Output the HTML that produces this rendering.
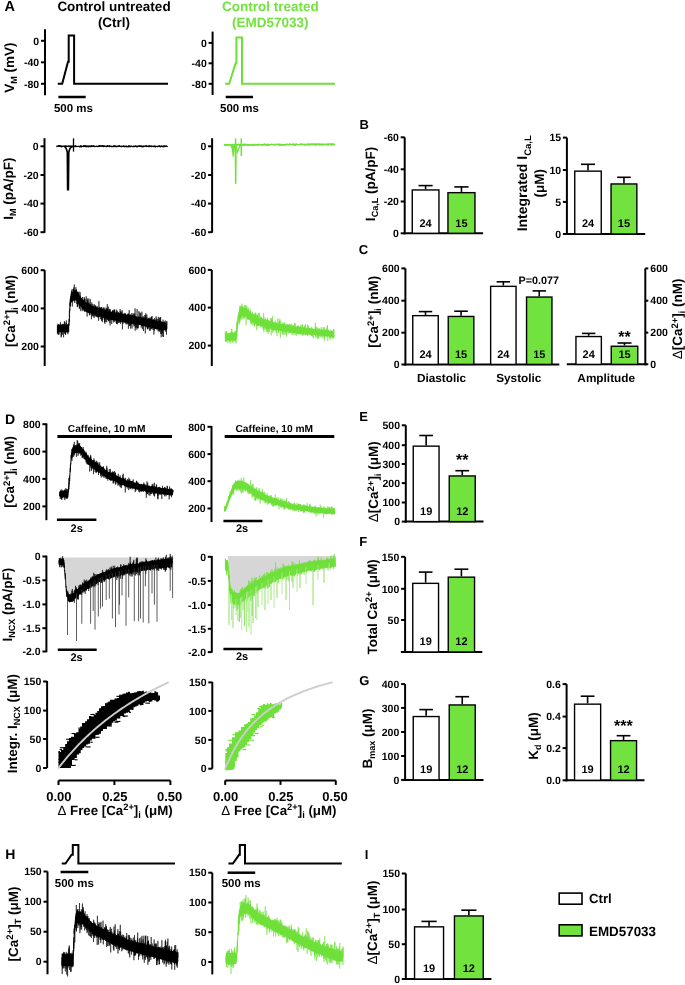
<!DOCTYPE html>
<html><head><meta charset="utf-8"><style>
html,body{margin:0;padding:0;background:#fff;width:685px;height:985px;overflow:hidden;}
svg{display:block;will-change:transform;text-rendering:geometricPrecision;filter:blur(0.35px);font-family:"Liberation Sans", sans-serif;}
</style></head><body>
<svg width="685" height="985" viewBox="0 0 685 985" font-family='"Liberation Sans", sans-serif'>
<rect width="685" height="985" fill="#fff"/>
<text x="4.6" y="11.2" font-size="14.5" text-anchor="start" fill="#000" font-weight="bold" >A</text>
<text x="4.9" y="423.5" font-size="14" text-anchor="start" fill="#000" font-weight="bold" >D</text>
<text x="5.2" y="858.6" font-size="14" text-anchor="start" fill="#000" font-weight="bold" >H</text>
<text x="359.4" y="129.3" font-size="13" text-anchor="start" fill="#000" font-weight="bold" >B</text>
<text x="358.8" y="254.4" font-size="13" text-anchor="start" fill="#000" font-weight="bold" >C</text>
<text x="359.3" y="421.2" font-size="13" text-anchor="start" fill="#000" font-weight="bold" >E</text>
<text x="359.3" y="546.1" font-size="13" text-anchor="start" fill="#000" font-weight="bold" >F</text>
<text x="359.3" y="684.8" font-size="13" text-anchor="start" fill="#000" font-weight="bold" >G</text>
<text x="364.7" y="858.6" font-size="13" text-anchor="start" fill="#000" font-weight="bold" >I</text>
<text x="114" y="10.8" font-size="13.5" text-anchor="middle" fill="#000" font-weight="bold" >Control untreated</text>
<text x="114" y="27.3" font-size="13.5" text-anchor="middle" fill="#000" font-weight="bold" >(Ctrl)</text>
<text x="270.3" y="10.8" font-size="13.5" text-anchor="middle" fill="#72e23e" font-weight="bold" >Control treated</text>
<text x="270.3" y="27.3" font-size="13.5" text-anchor="middle" fill="#72e23e" font-weight="bold" >(EMD57033)</text>
<line x1="45" y1="29.3" x2="45" y2="95.3" stroke="#000" stroke-width="2" stroke-linecap="butt"/>
<line x1="41" y1="40.8" x2="45" y2="40.8" stroke="#000" stroke-width="2" stroke-linecap="butt"/>
<text x="39.2" y="44.58" font-size="10.5" text-anchor="end" fill="#000" font-weight="bold" >0</text>
<line x1="41" y1="62.3" x2="45" y2="62.3" stroke="#000" stroke-width="2" stroke-linecap="butt"/>
<text x="39.2" y="66.08" font-size="10.5" text-anchor="end" fill="#000" font-weight="bold" >-40</text>
<line x1="41" y1="83.8" x2="45" y2="83.8" stroke="#000" stroke-width="2" stroke-linecap="butt"/>
<text x="39.2" y="87.58" font-size="10.5" text-anchor="end" fill="#000" font-weight="bold" >-80</text>
<polyline points="57.8,83.8 62.2,83.8 68,61.8 68.7,61.8 68.7,35.5 74.1,35.5 74.1,83.8 168,83.8" fill="none" stroke="#000" stroke-width="2" stroke-linejoin="miter"/>
<line x1="58.4" y1="97" x2="85.7" y2="97" stroke="#000" stroke-width="2.5" stroke-linecap="butt"/>
<text x="73.4" y="112" font-size="11.5" text-anchor="middle" fill="#000" font-weight="bold" >500 ms</text>
<line x1="212.6" y1="31.6" x2="212.6" y2="95" stroke="#000" stroke-width="2" stroke-linecap="butt"/>
<line x1="208.6" y1="42.9" x2="212.6" y2="42.9" stroke="#000" stroke-width="2" stroke-linecap="butt"/>
<text x="206.8" y="46.68" font-size="10.5" text-anchor="end" fill="#000" font-weight="bold" >0</text>
<line x1="208.6" y1="63.3" x2="212.6" y2="63.3" stroke="#000" stroke-width="2" stroke-linecap="butt"/>
<text x="206.8" y="67.08" font-size="10.5" text-anchor="end" fill="#000" font-weight="bold" >-40</text>
<line x1="208.6" y1="83.8" x2="212.6" y2="83.8" stroke="#000" stroke-width="2" stroke-linecap="butt"/>
<text x="206.8" y="87.58" font-size="10.5" text-anchor="end" fill="#000" font-weight="bold" >-80</text>
<polyline points="225.1,83.8 229.2,83.8 235.5,63.4 236.4,63.4 236.4,37.5 242,37.5 242,83.8 335,83.8" fill="none" stroke="#6fe03a" stroke-width="2" stroke-linejoin="miter"/>
<line x1="225.7" y1="97" x2="253" y2="97" stroke="#000" stroke-width="2.5" stroke-linecap="butt"/>
<text x="239.5" y="112" font-size="11.5" text-anchor="middle" fill="#000" font-weight="bold" >500 ms</text>
<text transform="translate(13.5,67.7) rotate(-90)" font-size="13.5" text-anchor="middle" fill="#000" font-weight="bold" >V<tspan font-size="9" dy="3">M</tspan><tspan dy="-3" font-size="13.5"> (mV)</tspan></text>
<line x1="44.5" y1="138.2" x2="44.5" y2="232.8" stroke="#000" stroke-width="2" stroke-linecap="butt"/>
<line x1="40.5" y1="146.3" x2="44.5" y2="146.3" stroke="#000" stroke-width="2" stroke-linecap="butt"/>
<text x="38.7" y="150.08" font-size="10.5" text-anchor="end" fill="#000" font-weight="bold" >0</text>
<line x1="40.5" y1="175" x2="44.5" y2="175" stroke="#000" stroke-width="2" stroke-linecap="butt"/>
<text x="38.7" y="178.78" font-size="10.5" text-anchor="end" fill="#000" font-weight="bold" >-20</text>
<line x1="40.5" y1="203.6" x2="44.5" y2="203.6" stroke="#000" stroke-width="2" stroke-linecap="butt"/>
<text x="38.7" y="207.38" font-size="10.5" text-anchor="end" fill="#000" font-weight="bold" >-40</text>
<line x1="40.5" y1="232.2" x2="44.5" y2="232.2" stroke="#000" stroke-width="2" stroke-linecap="butt"/>
<text x="38.7" y="235.98" font-size="10.5" text-anchor="end" fill="#000" font-weight="bold" >-60</text>
<line x1="212.1" y1="138.2" x2="212.1" y2="232.8" stroke="#000" stroke-width="2" stroke-linecap="butt"/>
<line x1="208.1" y1="146.3" x2="212.1" y2="146.3" stroke="#000" stroke-width="2" stroke-linecap="butt"/>
<text x="206.3" y="150.08" font-size="10.5" text-anchor="end" fill="#000" font-weight="bold" >0</text>
<line x1="208.1" y1="175" x2="212.1" y2="175" stroke="#000" stroke-width="2" stroke-linecap="butt"/>
<text x="206.3" y="178.78" font-size="10.5" text-anchor="end" fill="#000" font-weight="bold" >-20</text>
<line x1="208.1" y1="203.6" x2="212.1" y2="203.6" stroke="#000" stroke-width="2" stroke-linecap="butt"/>
<text x="206.3" y="207.38" font-size="10.5" text-anchor="end" fill="#000" font-weight="bold" >-40</text>
<line x1="208.1" y1="232.2" x2="212.1" y2="232.2" stroke="#000" stroke-width="2" stroke-linecap="butt"/>
<text x="206.3" y="235.98" font-size="10.5" text-anchor="end" fill="#000" font-weight="bold" >-60</text>
<text transform="translate(13.3,188.7) rotate(-90)" font-size="13.5" text-anchor="middle" fill="#000" font-weight="bold" >I<tspan font-size="9" dy="3">M</tspan><tspan dy="-3" font-size="13.5"> (pA/pF)</tspan></text>
<polygon points="56.40,145.44 57.10,145.83 57.80,145.69 58.50,145.12 59.20,145.09 59.90,145.13 60.60,145.56 61.30,145.20 62.00,145.80 62.70,145.74 63.40,146.22 64.10,146.08 64.80,145.22 65.50,145.42 66.20,145.27 66.90,145.82 67.60,145.71 68.30,145.12 69.00,145.87 69.70,145.43 70.40,145.59 71.10,146.00 71.80,145.34 72.50,145.68 73.20,145.93 73.90,146.23 74.60,145.55 75.30,145.23 76.00,145.10 76.70,145.97 77.40,146.10 78.10,145.88 78.80,145.75 79.50,146.06 80.20,145.62 80.90,145.12 81.60,145.83 82.30,146.04 83.00,145.51 83.70,145.08 84.40,145.25 85.10,145.12 85.80,145.21 86.50,145.52 87.20,145.15 87.90,145.71 88.60,146.03 89.30,145.38 90.00,145.48 90.70,146.20 91.40,145.26 92.10,145.33 92.80,145.76 93.50,145.05 94.20,145.49 94.90,146.19 95.60,145.67 96.30,145.86 97.00,146.13 97.70,146.10 98.40,145.52 99.10,145.17 99.80,145.12 100.50,145.30 101.20,145.46 101.90,145.05 102.60,145.17 103.30,145.08 104.00,145.79 104.70,145.35 105.40,145.49 106.10,146.07 106.80,145.61 107.50,145.15 108.20,145.46 108.90,146.04 109.60,145.08 110.30,145.68 111.00,145.70 111.70,145.68 112.40,146.09 113.10,145.36 113.80,145.25 114.50,145.69 115.20,145.45 115.90,146.02 116.60,146.07 117.30,146.03 118.00,145.32 118.70,145.48 119.40,145.08 120.10,145.36 120.80,146.20 121.50,146.17 122.20,146.20 122.90,145.31 123.60,145.29 124.30,145.80 125.00,146.06 125.70,145.83 126.40,145.15 127.10,146.14 127.80,145.95 128.50,145.26 129.20,145.45 129.90,146.22 130.60,145.53 131.30,145.92 132.00,145.20 132.70,146.14 133.40,145.23 134.10,146.23 134.80,145.47 135.50,145.21 136.20,146.22 136.90,145.68 137.60,145.57 138.30,146.04 139.00,145.35 139.70,145.34 140.40,145.36 141.10,145.21 141.80,145.47 142.50,145.75 143.20,145.55 143.90,145.65 144.60,145.68 145.30,145.58 146.00,145.05 146.70,145.26 147.40,145.92 148.10,145.44 148.80,145.72 149.50,145.18 150.20,145.35 150.90,145.98 151.60,145.72 152.30,146.14 153.00,145.79 153.70,145.66 154.40,145.59 155.10,145.62 155.80,145.89 156.50,146.18 157.20,145.72 157.90,146.06 158.60,145.20 159.30,145.14 160.00,145.14 160.70,145.99 161.40,145.24 162.10,145.84 162.80,146.11 163.50,145.31 164.20,145.53 164.90,146.24 165.60,145.24 166.30,145.67 167.00,145.28 167.00,146.73 166.30,146.76 165.60,146.87 164.90,147.35 164.20,146.93 163.50,147.49 162.80,147.51 162.10,146.52 161.40,147.21 160.70,147.43 160.00,147.15 159.30,146.64 158.60,146.88 157.90,146.51 157.20,147.48 156.50,146.66 155.80,147.40 155.10,147.48 154.40,146.99 153.70,147.18 153.00,146.96 152.30,146.88 151.60,147.26 150.90,146.96 150.20,146.68 149.50,147.02 148.80,147.29 148.10,146.97 147.40,147.02 146.70,146.92 146.00,147.31 145.30,146.57 144.60,146.37 143.90,146.99 143.20,147.45 142.50,147.44 141.80,146.90 141.10,147.44 140.40,146.85 139.70,147.05 139.00,146.70 138.30,146.60 137.60,147.40 136.90,147.47 136.20,147.13 135.50,146.37 134.80,147.01 134.10,147.14 133.40,147.34 132.70,147.32 132.00,146.53 131.30,146.55 130.60,147.49 129.90,146.83 129.20,147.31 128.50,147.30 127.80,146.92 127.10,147.29 126.40,147.14 125.70,147.31 125.00,146.93 124.30,147.43 123.60,146.60 122.90,146.62 122.20,146.79 121.50,147.54 120.80,146.89 120.10,147.18 119.40,146.69 118.70,146.38 118.00,146.97 117.30,147.24 116.60,147.32 115.90,147.53 115.20,146.62 114.50,147.28 113.80,147.28 113.10,146.79 112.40,147.19 111.70,147.52 111.00,146.38 110.30,146.53 109.60,147.49 108.90,146.54 108.20,146.67 107.50,146.47 106.80,146.93 106.10,147.54 105.40,146.50 104.70,146.77 104.00,146.53 103.30,147.40 102.60,146.79 101.90,146.53 101.20,146.41 100.50,146.54 99.80,146.43 99.10,147.11 98.40,146.83 97.70,147.31 97.00,147.29 96.30,146.41 95.60,147.09 94.90,147.18 94.20,147.03 93.50,146.85 92.80,146.67 92.10,146.93 91.40,146.63 90.70,146.53 90.00,147.41 89.30,146.85 88.60,147.39 87.90,147.41 87.20,146.89 86.50,147.40 85.80,146.65 85.10,147.27 84.40,146.49 83.70,146.90 83.00,147.15 82.30,146.69 81.60,147.54 80.90,147.19 80.20,147.15 79.50,147.48 78.80,146.90 78.10,147.06 77.40,146.73 76.70,147.04 76.00,147.15 75.30,146.94 74.60,147.26 73.90,146.49 73.20,146.70 72.50,147.40 71.80,147.04 71.10,147.19 70.40,146.71 69.70,147.05 69.00,146.86 68.30,146.60 67.60,146.43 66.90,146.80 66.20,147.05 65.50,147.33 64.80,146.49 64.10,146.70 63.40,146.41 62.70,146.83 62.00,147.49 61.30,146.62 60.60,147.34 59.90,146.46 59.20,146.87 58.50,146.96 57.80,146.79 57.10,146.44 56.40,146.53" fill="#000" fill-opacity="1"/>
<path d="M56.40,146.29 L56.50,146.23 L56.60,146.62 L56.70,146.34 L56.80,147.27 L56.90,146.71 L57.00,146.53 L57.10,146.47 L57.20,146.28 L57.30,146.49 L57.40,146.42 L57.50,146.04 L57.60,145.79 L57.70,146.06 L57.80,146.15 L57.90,145.95 L58.00,145.87 L58.10,145.81 L58.20,146.96 L58.30,146.59 L58.40,145.51 L58.50,146.03 L58.60,146.04 L58.70,146.25 L58.80,146.53 L58.90,146.38 L59.00,146.32 L59.10,146.00 L59.20,146.26 L59.30,146.36 L59.40,146.25 L59.50,145.84 L59.60,146.46 L59.70,146.23 L59.80,145.61 L59.90,146.32 L60.00,145.91 L60.10,145.34 L60.20,146.16 L60.30,145.80 L60.40,146.48 L60.50,146.36 L60.60,146.29 L60.70,146.52 L60.80,146.67 L60.90,145.91 L61.00,146.19 L61.10,146.69 L61.20,146.22 L61.30,147.23 L61.40,146.33 L61.50,147.24 L61.60,146.66 L61.70,146.30 L61.80,146.43 L61.90,146.71 L62.00,146.61 L62.10,146.50 L62.20,146.21 L62.30,146.55 L62.40,146.30 L62.50,145.77 L62.60,146.05 L62.70,146.51 L62.80,146.22 L62.90,145.78 L63.00,146.70 L63.10,145.98 L63.20,146.58 L63.30,146.64 L63.40,146.53 L63.50,145.66 L63.60,146.07 L63.70,145.79 L63.80,146.53 L63.90,146.56 L64.00,145.82 L64.10,146.12 L64.20,146.27 L64.30,146.30 L64.40,145.85 L64.50,146.29 L64.60,146.28 L64.70,146.02 L64.80,146.27 L64.90,146.06 L65.00,145.94 L65.10,146.31 L65.20,146.35 L65.30,145.80 L65.40,146.47 L65.50,146.52 L65.60,146.25 L65.70,146.28 L65.80,146.04 L65.90,145.81 L66.00,145.90 L66.10,146.26 L66.20,146.49 L66.30,146.15 L66.40,146.70 L66.50,146.34 L66.60,146.03 L66.70,146.39 L66.80,146.42 L66.90,146.77 L67.00,146.49 L67.10,146.24 L67.20,146.73 L67.30,145.93 L67.40,146.22 L67.50,146.31 L67.60,146.01 L67.70,146.39 L67.80,146.02 L67.90,146.94 L68.00,146.40 L68.10,146.14 L68.20,146.55 L68.30,146.13 L68.40,146.79 L68.50,146.30 L68.60,146.28 L68.70,146.41 L68.80,146.11 L68.90,147.13 L69.00,146.06 L69.10,146.28 L69.20,146.80 L69.30,145.86 L69.40,146.73 L69.50,146.13 L69.60,146.26 L69.70,145.90 L69.80,146.27 L69.90,146.41 L70.00,145.97 L70.10,146.36 L70.20,146.58 L70.30,146.26 L70.40,145.96 L70.50,146.17 L70.60,146.51 L70.70,147.06 L70.80,147.32 L70.90,145.62 L71.00,146.36 L71.10,146.45 L71.20,146.32 L71.30,146.58 L71.40,146.30 L71.50,145.92 L71.60,146.06 L71.70,146.53 L71.80,146.48 L71.90,146.26 L72.00,146.47 L72.10,146.11 L72.20,145.98 L72.30,146.53 L72.40,146.35 L72.50,146.25 L72.60,146.63 L72.70,146.05 L72.80,145.65 L72.90,146.82 L73.00,146.57 L73.10,146.25 L73.20,145.75 L73.30,146.22 L73.40,145.93 L73.50,145.81 L73.60,146.92 L73.70,146.46 L73.80,146.11 L73.90,146.05 L74.00,145.93 L74.10,145.87 L74.20,145.82 L74.30,146.23 L74.40,146.26 L74.50,146.27 L74.60,146.81 L74.70,146.17 L74.80,146.33 L74.90,146.57 L75.00,146.27 L75.10,146.37 L75.20,146.05 L75.30,146.44 L75.40,146.31 L75.50,146.39 L75.60,146.20 L75.70,146.08 L75.80,146.05 L75.90,146.29 L76.00,146.41 L76.10,146.06 L76.20,146.05 L76.30,147.16 L76.40,146.36 L76.50,146.67 L76.60,146.52 L76.70,146.59 L76.80,146.37 L76.90,146.39 L77.00,146.91 L77.10,145.85 L77.20,146.60 L77.30,146.16 L77.40,146.30 L77.50,146.21 L77.60,146.07 L77.70,146.53 L77.80,146.24 L77.90,146.63 L78.00,146.54 L78.10,146.24 L78.20,146.47 L78.30,145.95 L78.40,145.73 L78.50,146.89 L78.60,146.37 L78.70,146.25 L78.80,146.31 L78.90,146.20 L79.00,146.55 L79.10,146.16 L79.20,146.15 L79.30,146.55 L79.40,146.26 L79.50,146.88 L79.60,146.91 L79.70,146.31 L79.80,146.38 L79.90,146.27 L80.00,147.17 L80.10,146.06 L80.20,145.92 L80.30,146.48 L80.40,146.49 L80.50,145.74 L80.60,146.05 L80.70,146.10 L80.80,146.33 L80.90,146.16 L81.00,146.30 L81.10,146.43 L81.20,145.83 L81.30,147.21 L81.40,146.29 L81.50,146.45 L81.60,146.20 L81.70,145.92 L81.80,145.90 L81.90,145.93 L82.00,146.21 L82.10,146.14 L82.20,145.98 L82.30,146.16 L82.40,146.30 L82.50,146.57 L82.60,146.01 L82.70,146.15 L82.80,146.04 L82.90,146.29 L83.00,146.47 L83.10,146.29 L83.20,146.73 L83.30,145.62 L83.40,146.47 L83.50,146.46 L83.60,146.62 L83.70,146.15 L83.80,146.26 L83.90,146.93 L84.00,145.88 L84.10,146.01 L84.20,146.46 L84.30,146.49 L84.40,146.16 L84.50,146.10 L84.60,146.20 L84.70,146.09 L84.80,146.43 L84.90,145.86 L85.00,145.94 L85.10,146.58 L85.20,146.59 L85.30,146.78 L85.40,145.98 L85.50,147.14 L85.60,146.06 L85.70,146.60 L85.80,146.14 L85.90,146.48 L86.00,147.08 L86.10,146.33 L86.20,145.67 L86.30,146.72 L86.40,146.76 L86.50,146.34 L86.60,146.73 L86.70,146.57 L86.80,146.48 L86.90,146.54 L87.00,146.63 L87.10,146.57 L87.20,146.36 L87.30,146.48 L87.40,146.18 L87.50,146.31 L87.60,146.72 L87.70,146.01 L87.80,146.36 L87.90,146.05 L88.00,146.41 L88.10,146.10 L88.20,145.94 L88.30,146.26 L88.40,146.18 L88.50,145.53 L88.60,146.30 L88.70,146.20 L88.80,145.93 L88.90,146.03 L89.00,145.88 L89.10,146.53 L89.20,145.93 L89.30,146.43 L89.40,146.03 L89.50,146.32 L89.60,146.08 L89.70,146.36 L89.80,146.57 L89.90,146.58 L90.00,146.20 L90.10,146.29 L90.20,146.23 L90.30,145.67 L90.40,145.95 L90.50,146.29 L90.60,147.06 L90.70,145.35 L90.80,146.66 L90.90,147.27 L91.00,146.49 L91.10,146.19 L91.20,146.61 L91.30,146.44 L91.40,146.53 L91.50,146.12 L91.60,145.48 L91.70,146.29 L91.80,145.98 L91.90,146.29 L92.00,146.75 L92.10,147.02 L92.20,146.61 L92.30,146.86 L92.40,146.07 L92.50,146.04 L92.60,145.64 L92.70,145.94 L92.80,146.05 L92.90,146.03 L93.00,146.78 L93.10,146.27 L93.20,146.09 L93.30,146.38 L93.40,146.42 L93.50,146.05 L93.60,145.84 L93.70,146.02 L93.80,146.50 L93.90,146.34 L94.00,145.53 L94.10,146.24 L94.20,146.26 L94.30,146.24 L94.40,146.57 L94.50,146.51 L94.60,146.09 L94.70,146.17 L94.80,146.87 L94.90,146.94 L95.00,146.73 L95.10,146.59 L95.20,146.07 L95.30,146.46 L95.40,145.99 L95.50,146.17 L95.60,146.85 L95.70,146.07 L95.80,146.73 L95.90,146.42 L96.00,146.89 L96.10,146.53 L96.20,146.49 L96.30,146.23 L96.40,145.78 L96.50,146.28 L96.60,146.19 L96.70,146.59 L96.80,146.42 L96.90,145.74 L97.00,146.29 L97.10,145.89 L97.20,146.33 L97.30,146.47 L97.40,145.99 L97.50,146.82 L97.60,146.23 L97.70,146.02 L97.80,146.41 L97.90,145.87 L98.00,146.55 L98.10,146.24 L98.20,146.28 L98.30,146.57 L98.40,146.29 L98.50,145.98 L98.60,146.35 L98.70,147.09 L98.80,145.79 L98.90,145.43 L99.00,146.07 L99.10,145.62 L99.20,146.02 L99.30,146.17 L99.40,147.01 L99.50,146.68 L99.60,146.96 L99.70,146.82 L99.80,146.40 L99.90,146.32 L100.00,146.11 L100.10,145.74 L100.20,145.86 L100.30,146.81 L100.40,146.97 L100.50,146.59 L100.60,146.49 L100.70,146.45 L100.80,146.68 L100.90,145.76 L101.00,146.10 L101.10,146.08 L101.20,146.31 L101.30,146.05 L101.40,146.58 L101.50,146.34 L101.60,146.08 L101.70,146.54 L101.80,146.60 L101.90,145.89 L102.00,145.72 L102.10,146.54 L102.20,146.05 L102.30,146.24 L102.40,146.39 L102.50,146.10 L102.60,146.38 L102.70,145.30 L102.80,145.65 L102.90,146.33 L103.00,145.91 L103.10,146.86 L103.20,146.25 L103.30,146.55 L103.40,146.70 L103.50,146.63 L103.60,146.09 L103.70,145.69 L103.80,146.00 L103.90,146.51 L104.00,146.36 L104.10,146.25 L104.20,146.65 L104.30,146.05 L104.40,146.34 L104.50,146.70 L104.60,146.31 L104.70,145.78 L104.80,146.69 L104.90,146.88 L105.00,146.49 L105.10,146.64 L105.20,146.58 L105.30,146.59 L105.40,146.41 L105.50,146.59 L105.60,146.42 L105.70,146.48 L105.80,146.09 L105.90,146.27 L106.00,146.88 L106.10,146.21 L106.20,146.59 L106.30,146.51 L106.40,146.26 L106.50,145.91 L106.60,146.49 L106.70,146.45 L106.80,145.78 L106.90,146.68 L107.00,146.03 L107.10,146.00 L107.20,145.81 L107.30,146.64 L107.40,145.76 L107.50,146.03 L107.60,146.17 L107.70,145.56 L107.80,146.63 L107.90,145.86 L108.00,146.10 L108.10,146.77 L108.20,146.42 L108.30,145.74 L108.40,145.94 L108.50,146.49 L108.60,145.92 L108.70,145.55 L108.80,146.36 L108.90,145.94 L109.00,146.74 L109.10,146.41 L109.20,146.71 L109.30,146.14 L109.40,145.74 L109.50,146.15 L109.60,146.51 L109.70,145.91 L109.80,146.44 L109.90,146.84 L110.00,147.05 L110.10,147.03 L110.20,146.24 L110.30,146.66 L110.40,145.81 L110.50,146.57 L110.60,146.40 L110.70,146.89 L110.80,146.43 L110.90,146.94 L111.00,146.73 L111.10,146.76 L111.20,145.84 L111.30,146.39 L111.40,145.99 L111.50,146.71 L111.60,146.00 L111.70,146.36 L111.80,146.47 L111.90,146.01 L112.00,146.10 L112.10,146.50 L112.20,146.88 L112.30,146.31 L112.40,146.17 L112.50,146.69 L112.60,146.11 L112.70,146.01 L112.80,146.94 L112.90,146.54 L113.00,146.74 L113.10,146.83 L113.20,147.19 L113.30,146.36 L113.40,146.46 L113.50,146.42 L113.60,146.18 L113.70,146.47 L113.80,146.68 L113.90,146.97 L114.00,145.92 L114.10,145.63 L114.20,146.48 L114.30,146.83 L114.40,145.60 L114.50,146.58 L114.60,146.32 L114.70,146.50 L114.80,146.10 L114.90,146.34 L115.00,145.60 L115.10,146.12 L115.20,145.84 L115.30,146.39 L115.40,146.03 L115.50,146.57 L115.60,145.96 L115.70,145.91 L115.80,145.95 L115.90,145.53 L116.00,145.88 L116.10,146.27 L116.20,146.20 L116.30,145.80 L116.40,146.02 L116.50,146.61 L116.60,146.40 L116.70,146.68 L116.80,146.44 L116.90,146.03 L117.00,146.01 L117.10,146.29 L117.20,145.94 L117.30,145.77 L117.40,146.15 L117.50,146.76 L117.60,146.86 L117.70,146.45 L117.80,146.59 L117.90,146.39 L118.00,146.74 L118.10,146.06 L118.20,146.72 L118.30,146.03 L118.40,146.14 L118.50,145.84 L118.60,146.10 L118.70,145.95 L118.80,146.34 L118.90,146.39 L119.00,146.11 L119.10,146.01 L119.20,146.04 L119.30,146.19 L119.40,146.14 L119.50,146.65 L119.60,146.74 L119.70,146.46 L119.80,146.48 L119.90,145.86 L120.00,146.66 L120.10,146.33 L120.20,146.71 L120.30,146.25 L120.40,146.15 L120.50,146.10 L120.60,146.85 L120.70,146.32 L120.80,146.92 L120.90,146.69 L121.00,146.25 L121.10,146.03 L121.20,146.90 L121.30,146.49 L121.40,146.28 L121.50,146.15 L121.60,145.48 L121.70,146.51 L121.80,146.29 L121.90,146.25 L122.00,146.36 L122.10,146.16 L122.20,146.66 L122.30,146.92 L122.40,145.98 L122.50,146.65 L122.60,146.70 L122.70,146.81 L122.80,146.04 L122.90,146.02 L123.00,146.90 L123.10,146.08 L123.20,147.21 L123.30,146.67 L123.40,146.06 L123.50,146.73 L123.60,146.05 L123.70,146.11 L123.80,145.90 L123.90,146.69 L124.00,146.40 L124.10,146.02 L124.20,145.87 L124.30,146.53 L124.40,146.96 L124.50,146.48 L124.60,146.04 L124.70,146.17 L124.80,145.98 L124.90,145.56 L125.00,145.69 L125.10,146.08 L125.20,146.54 L125.30,146.19 L125.40,146.06 L125.50,146.35 L125.60,146.40 L125.70,145.91 L125.80,146.34 L125.90,146.04 L126.00,146.63 L126.10,146.01 L126.20,146.39 L126.30,146.52 L126.40,145.99 L126.50,146.66 L126.60,146.37 L126.70,146.39 L126.80,146.70 L126.90,146.62 L127.00,146.03 L127.10,146.11 L127.20,147.39 L127.30,146.53 L127.40,146.04 L127.50,146.18 L127.60,146.89 L127.70,146.09 L127.80,146.30 L127.90,146.40 L128.00,146.40 L128.10,146.36 L128.20,145.45 L128.30,146.53 L128.40,146.00 L128.50,146.09 L128.60,146.28 L128.70,146.77 L128.80,146.12 L128.90,145.98 L129.00,147.40 L129.10,146.06 L129.20,146.29 L129.30,146.64 L129.40,146.36 L129.50,146.20 L129.60,145.66 L129.70,145.46 L129.80,146.33 L129.90,145.44 L130.00,145.79 L130.10,145.97 L130.20,146.29 L130.30,146.49 L130.40,146.31 L130.50,146.50 L130.60,146.25 L130.70,146.07 L130.80,146.46 L130.90,147.13 L131.00,146.55 L131.10,146.61 L131.20,146.58 L131.30,145.87 L131.40,146.48 L131.50,145.93 L131.60,146.32 L131.70,146.42 L131.80,146.75 L131.90,146.88 L132.00,146.46 L132.10,146.54 L132.20,146.51 L132.30,146.67 L132.40,147.06 L132.50,146.96 L132.60,146.18 L132.70,146.08 L132.80,146.29 L132.90,146.54 L133.00,147.13 L133.10,146.29 L133.20,146.40 L133.30,146.22 L133.40,146.36 L133.50,146.29 L133.60,146.31 L133.70,146.32 L133.80,146.45 L133.90,146.66 L134.00,146.12 L134.10,146.21 L134.20,146.24 L134.30,146.07 L134.40,145.97 L134.50,146.03 L134.60,145.87 L134.70,145.93 L134.80,146.34 L134.90,146.43 L135.00,146.28 L135.10,146.18 L135.20,146.70 L135.30,145.69 L135.40,146.65 L135.50,146.08 L135.60,146.57 L135.70,146.93 L135.80,145.96 L135.90,146.65 L136.00,145.89 L136.10,146.45 L136.20,146.60 L136.30,145.63 L136.40,145.85 L136.50,146.71 L136.60,146.71 L136.70,146.18 L136.80,146.23 L136.90,146.28 L137.00,146.37 L137.10,146.45 L137.20,146.46 L137.30,146.33 L137.40,146.79 L137.50,146.35 L137.60,146.25 L137.70,146.14 L137.80,146.48 L137.90,146.35 L138.00,146.27 L138.10,146.48 L138.20,145.69 L138.30,145.91 L138.40,146.30 L138.50,146.08 L138.60,146.01 L138.70,146.54 L138.80,145.61 L138.90,146.83 L139.00,146.32 L139.10,146.63 L139.20,146.57 L139.30,145.54 L139.40,146.71 L139.50,146.45 L139.60,146.30 L139.70,146.68 L139.80,146.16 L139.90,146.27 L140.00,146.50 L140.10,146.33 L140.20,146.78 L140.30,146.10 L140.40,146.37 L140.50,146.24 L140.60,146.17 L140.70,146.04 L140.80,146.10 L140.90,146.11 L141.00,146.59 L141.10,146.21 L141.20,146.66 L141.30,146.64 L141.40,146.25 L141.50,146.71 L141.60,146.44 L141.70,146.44 L141.80,146.24 L141.90,146.56 L142.00,146.57 L142.10,145.88 L142.20,146.47 L142.30,146.85 L142.40,145.99 L142.50,146.03 L142.60,146.38 L142.70,146.73 L142.80,146.64 L142.90,146.33 L143.00,145.90 L143.10,146.15 L143.20,146.12 L143.30,146.90 L143.40,146.57 L143.50,146.02 L143.60,145.75 L143.70,146.52 L143.80,146.88 L143.90,146.15 L144.00,145.97 L144.10,146.74 L144.20,146.49 L144.30,145.90 L144.40,146.33 L144.50,145.89 L144.60,146.46 L144.70,146.20 L144.80,146.35 L144.90,145.82 L145.00,145.96 L145.10,146.13 L145.20,146.02 L145.30,146.08 L145.40,146.25 L145.50,146.00 L145.60,146.06 L145.70,146.51 L145.80,145.91 L145.90,146.30 L146.00,146.59 L146.10,146.68 L146.20,146.58 L146.30,146.15 L146.40,146.54 L146.50,146.24 L146.60,146.41 L146.70,146.31 L146.80,146.85 L146.90,146.00 L147.00,145.86 L147.10,146.25 L147.20,145.99 L147.30,146.68 L147.40,146.10 L147.50,145.90 L147.60,145.92 L147.70,146.57 L147.80,146.71 L147.90,146.21 L148.00,146.63 L148.10,146.29 L148.20,146.45 L148.30,146.58 L148.40,146.12 L148.50,146.29 L148.60,146.78 L148.70,145.30 L148.80,146.47 L148.90,146.55 L149.00,146.39 L149.10,146.51 L149.20,145.60 L149.30,147.22 L149.40,145.76 L149.50,146.64 L149.60,146.61 L149.70,146.31 L149.80,146.18 L149.90,146.09 L150.00,146.25 L150.10,146.82 L150.20,145.97 L150.30,146.13 L150.40,146.31 L150.50,146.13 L150.60,145.63 L150.70,146.20 L150.80,146.35 L150.90,146.32 L151.00,146.23 L151.10,145.97 L151.20,146.94 L151.30,146.76 L151.40,145.96 L151.50,146.41 L151.60,145.50 L151.70,145.84 L151.80,146.30 L151.90,146.41 L152.00,145.99 L152.10,147.02 L152.20,145.56 L152.30,145.75 L152.40,146.32 L152.50,146.66 L152.60,146.03 L152.70,146.99 L152.80,146.31 L152.90,146.52 L153.00,146.60 L153.10,146.25 L153.20,145.95 L153.30,146.22 L153.40,146.79 L153.50,146.78 L153.60,146.41 L153.70,146.58 L153.80,146.13 L153.90,146.01 L154.00,146.54 L154.10,146.46 L154.20,145.65 L154.30,146.54 L154.40,145.95 L154.50,146.77 L154.60,146.53 L154.70,147.16 L154.80,146.12 L154.90,146.36 L155.00,146.69 L155.10,146.01 L155.20,146.10 L155.30,146.14 L155.40,145.85 L155.50,146.26 L155.60,145.90 L155.70,146.65 L155.80,146.18 L155.90,146.40 L156.00,146.07 L156.10,146.78 L156.20,146.02 L156.30,146.63 L156.40,146.20 L156.50,146.54 L156.60,146.23 L156.70,146.66 L156.80,146.84 L156.90,145.81 L157.00,146.84 L157.10,146.40 L157.20,145.84 L157.30,146.58 L157.40,146.49 L157.50,146.02 L157.60,146.90 L157.70,146.83 L157.80,146.40 L157.90,146.33 L158.00,146.18 L158.10,146.64 L158.20,146.15 L158.30,146.13 L158.40,146.24 L158.50,146.03 L158.60,146.29 L158.70,146.31 L158.80,146.28 L158.90,146.41 L159.00,146.56 L159.10,146.38 L159.20,146.50 L159.30,147.08 L159.40,146.18 L159.50,145.96 L159.60,146.27 L159.70,146.46 L159.80,146.81 L159.90,146.06 L160.00,146.02 L160.10,146.01 L160.20,145.91 L160.30,146.49 L160.40,146.31 L160.50,146.19 L160.60,146.27 L160.70,146.76 L160.80,146.03 L160.90,146.22 L161.00,146.09 L161.10,146.43 L161.20,146.16 L161.30,145.78 L161.40,145.91 L161.50,146.26 L161.60,146.07 L161.70,147.02 L161.80,145.96 L161.90,146.88 L162.00,146.56 L162.10,146.77 L162.20,146.37 L162.30,145.62 L162.40,146.14 L162.50,146.49 L162.60,146.48 L162.70,146.84 L162.80,146.12 L162.90,146.67 L163.00,146.35 L163.10,146.32 L163.20,146.80 L163.30,146.59 L163.40,146.63 L163.50,146.57 L163.60,146.25 L163.70,146.29 L163.80,145.71 L163.90,145.69 L164.00,146.31 L164.10,146.50 L164.20,146.46 L164.30,146.04 L164.40,146.77 L164.50,145.61 L164.60,146.59 L164.70,145.78 L164.80,146.45 L164.90,146.02 L165.00,145.83 L165.10,146.80 L165.20,145.83 L165.30,146.09 L165.40,147.03 L165.50,145.81 L165.60,146.47 L165.70,146.56 L165.80,146.22 L165.90,146.10 L166.00,146.39 L166.10,146.36 L166.20,146.30 L166.30,146.27 L166.40,146.39 L166.50,145.93 L166.60,145.92 L166.70,146.27 L166.80,145.96 L166.90,145.71 L167.00,146.19 L167.10,146.68 L167.20,146.35 L167.30,146.44 L167.40,147.08 L167.50,146.16 L167.60,146.79" fill="none" stroke="#000" stroke-width="0.5" stroke-opacity="1"/>
<polyline points="64.5,146.5 66.2,148.5 67.3,152 67.6,189.6 68.4,189.6 68.8,152 70,148.5 71.5,147 72.5,146.3" fill="none" stroke="#000" stroke-width="1.6" stroke-linejoin="miter"/>
<line x1="73.5" y1="138.4" x2="73.5" y2="151.6" stroke="#000" stroke-width="1.3" stroke-linecap="butt"/>
<polygon points="224.10,143.55 224.80,144.20 225.50,144.15 226.20,144.04 226.90,143.82 227.60,144.52 228.30,143.68 229.00,143.99 229.70,144.24 230.40,144.14 231.10,144.08 231.80,143.92 232.50,143.65 233.20,144.09 233.90,144.47 234.60,143.54 235.30,143.73 236.00,144.09 236.70,144.11 237.40,144.03 238.10,143.51 238.80,143.50 239.50,144.44 240.20,144.26 240.90,143.54 241.60,144.26 242.30,144.39 243.00,143.60 243.70,144.06 244.40,143.55 245.10,143.45 245.80,143.82 246.50,144.09 247.20,143.73 247.90,143.88 248.60,144.11 249.30,144.04 250.00,144.40 250.70,144.25 251.40,144.27 252.10,144.34 252.80,143.79 253.50,144.48 254.20,143.39 254.90,143.46 255.60,144.30 256.30,144.44 257.00,143.63 257.70,143.86 258.40,144.02 259.10,143.34 259.80,144.27 260.50,143.98 261.20,144.13 261.90,143.48 262.60,143.95 263.30,144.27 264.00,143.31 264.70,143.47 265.40,144.34 266.10,143.33 266.80,144.26 267.50,143.75 268.20,143.47 268.90,143.75 269.60,144.00 270.30,143.66 271.00,144.34 271.70,143.31 272.40,143.69 273.10,143.95 273.80,143.68 274.50,143.94 275.20,143.27 275.90,144.43 276.60,143.41 277.30,143.56 278.00,143.83 278.70,143.91 279.40,144.37 280.10,143.26 280.80,144.14 281.50,144.15 282.20,143.97 282.90,143.55 283.60,144.25 284.30,144.02 285.00,144.12 285.70,143.81 286.40,143.61 287.10,143.68 287.80,143.59 288.50,144.37 289.20,143.62 289.90,143.46 290.60,143.34 291.30,144.22 292.00,143.70 292.70,143.53 293.40,143.24 294.10,143.53 294.80,143.82 295.50,143.56 296.20,143.85 296.90,143.36 297.60,144.33 298.30,144.07 299.00,144.18 299.70,143.72 300.40,143.46 301.10,143.16 301.80,143.45 302.50,143.38 303.20,143.36 303.90,144.15 304.60,143.35 305.30,144.26 306.00,143.20 306.70,144.15 307.40,143.26 308.10,143.74 308.80,143.86 309.50,143.34 310.20,143.99 310.90,143.57 311.60,143.49 312.30,143.57 313.00,143.83 313.70,143.66 314.40,143.38 315.10,143.08 315.80,143.74 316.50,143.13 317.20,143.92 317.90,143.16 318.60,143.22 319.30,143.15 320.00,143.55 320.70,143.75 321.40,143.83 322.10,143.43 322.80,143.34 323.50,143.94 324.20,143.39 324.90,144.19 325.60,143.35 326.30,144.14 327.00,143.02 327.70,143.79 328.40,143.44 329.10,143.28 329.80,143.11 330.50,143.16 331.20,143.59 331.90,143.21 332.60,143.42 333.30,143.20 334.00,144.09 334.70,143.01 334.70,145.56 334.00,144.82 333.30,145.52 332.60,144.81 331.90,145.77 331.20,145.31 330.50,144.72 329.80,144.68 329.10,145.56 328.40,145.84 327.70,145.59 327.00,145.23 326.30,144.82 325.60,145.30 324.90,145.21 324.20,145.60 323.50,145.61 322.80,145.53 322.10,145.57 321.40,145.41 320.70,145.36 320.00,145.34 319.30,145.67 318.60,145.62 317.90,144.89 317.20,145.10 316.50,145.45 315.80,145.90 315.10,145.83 314.40,145.27 313.70,145.44 313.00,145.13 312.30,144.78 311.60,144.80 310.90,145.55 310.20,145.52 309.50,145.13 308.80,145.85 308.10,145.80 307.40,144.98 306.70,145.16 306.00,145.73 305.30,145.48 304.60,145.64 303.90,145.54 303.20,145.49 302.50,145.25 301.80,145.62 301.10,144.98 300.40,145.09 299.70,145.86 299.00,144.87 298.30,145.30 297.60,145.22 296.90,145.49 296.20,144.90 295.50,145.91 294.80,145.93 294.10,145.68 293.40,145.17 292.70,145.02 292.00,145.50 291.30,145.37 290.60,144.83 289.90,145.25 289.20,145.12 288.50,145.41 287.80,145.23 287.10,144.91 286.40,145.51 285.70,145.61 285.00,145.74 284.30,145.22 283.60,145.98 282.90,145.81 282.20,145.30 281.50,145.63 280.80,145.92 280.10,145.55 279.40,146.07 278.70,145.51 278.00,145.20 277.30,145.21 276.60,145.69 275.90,144.95 275.20,145.45 274.50,145.30 273.80,144.91 273.10,145.37 272.40,145.47 271.70,145.11 271.00,145.62 270.30,145.18 269.60,145.01 268.90,145.97 268.20,145.94 267.50,145.50 266.80,145.75 266.10,145.15 265.40,145.90 264.70,145.54 264.00,145.36 263.30,146.09 262.60,145.78 261.90,146.01 261.20,145.41 260.50,145.31 259.80,145.19 259.10,145.10 258.40,145.11 257.70,145.98 257.00,145.21 256.30,145.79 255.60,145.12 254.90,145.64 254.20,145.71 253.50,145.86 252.80,145.88 252.10,145.15 251.40,145.82 250.70,145.41 250.00,145.21 249.30,146.11 248.60,146.06 247.90,146.08 247.20,145.87 246.50,145.28 245.80,145.05 245.10,145.31 244.40,145.96 243.70,145.97 243.00,146.19 242.30,145.51 241.60,145.17 240.90,146.24 240.20,145.96 239.50,145.72 238.80,145.59 238.10,145.55 237.40,145.77 236.70,145.20 236.00,145.34 235.30,145.66 234.60,145.71 233.90,145.39 233.20,145.22 232.50,146.16 231.80,145.23 231.10,145.77 230.40,145.60 229.70,145.55 229.00,145.21 228.30,145.92 227.60,145.14 226.90,145.52 226.20,145.89 225.50,146.26 224.80,145.48 224.10,145.94" fill="#6fe03a" fill-opacity="1"/>
<path d="M224.10,144.76 L224.20,145.39 L224.30,144.84 L224.40,145.04 L224.50,144.46 L224.60,145.43 L224.70,145.33 L224.80,144.21 L224.90,145.38 L225.00,144.10 L225.10,145.40 L225.20,144.95 L225.30,145.21 L225.40,144.93 L225.50,145.17 L225.60,144.49 L225.70,146.18 L225.80,145.36 L225.90,145.59 L226.00,144.90 L226.10,144.11 L226.20,144.01 L226.30,144.97 L226.40,144.51 L226.50,144.62 L226.60,145.11 L226.70,145.73 L226.80,145.06 L226.90,144.69 L227.00,144.86 L227.10,144.98 L227.20,145.81 L227.30,144.94 L227.40,145.09 L227.50,145.03 L227.60,144.38 L227.70,145.68 L227.80,144.99 L227.90,144.87 L228.00,144.84 L228.10,144.77 L228.20,144.70 L228.30,144.96 L228.40,144.53 L228.50,145.67 L228.60,145.17 L228.70,145.21 L228.80,145.29 L228.90,145.43 L229.00,144.58 L229.10,145.27 L229.20,145.12 L229.30,145.95 L229.40,144.84 L229.50,145.14 L229.60,145.36 L229.70,145.01 L229.80,144.83 L229.90,144.92 L230.00,144.36 L230.10,144.73 L230.20,145.34 L230.30,144.40 L230.40,143.89 L230.50,145.42 L230.60,144.67 L230.70,145.00 L230.80,144.12 L230.90,144.27 L231.00,144.65 L231.10,145.09 L231.20,145.27 L231.30,144.25 L231.40,144.74 L231.50,144.52 L231.60,144.42 L231.70,145.89 L231.80,145.17 L231.90,144.47 L232.00,144.92 L232.10,145.45 L232.20,144.76 L232.30,144.45 L232.40,144.70 L232.50,144.53 L232.60,144.96 L232.70,145.43 L232.80,144.20 L232.90,144.97 L233.00,144.90 L233.10,145.09 L233.20,144.35 L233.30,144.78 L233.40,145.22 L233.50,145.55 L233.60,145.27 L233.70,144.07 L233.80,144.27 L233.90,145.39 L234.00,145.04 L234.10,145.12 L234.20,145.02 L234.30,144.37 L234.40,143.72 L234.50,145.73 L234.60,144.11 L234.70,144.95 L234.80,144.68 L234.90,144.49 L235.00,144.59 L235.10,145.13 L235.20,145.02 L235.30,145.37 L235.40,144.78 L235.50,144.52 L235.60,144.94 L235.70,144.69 L235.80,144.98 L235.90,145.27 L236.00,144.76 L236.10,144.94 L236.20,144.76 L236.30,144.50 L236.40,144.99 L236.50,144.48 L236.60,145.09 L236.70,144.72 L236.80,144.41 L236.90,145.29 L237.00,144.86 L237.10,144.43 L237.20,145.42 L237.30,144.43 L237.40,144.39 L237.50,144.95 L237.60,143.97 L237.70,144.98 L237.80,144.06 L237.90,144.78 L238.00,144.74 L238.10,144.91 L238.20,144.92 L238.30,144.12 L238.40,145.52 L238.50,145.20 L238.60,144.85 L238.70,144.29 L238.80,144.72 L238.90,144.37 L239.00,144.35 L239.10,145.11 L239.20,145.00 L239.30,144.66 L239.40,146.09 L239.50,144.88 L239.60,144.71 L239.70,145.13 L239.80,144.39 L239.90,144.80 L240.00,145.33 L240.10,144.27 L240.20,144.87 L240.30,144.96 L240.40,144.35 L240.50,144.93 L240.60,144.91 L240.70,144.56 L240.80,145.17 L240.90,144.94 L241.00,144.48 L241.10,144.68 L241.20,144.65 L241.30,145.46 L241.40,143.88 L241.50,145.10 L241.60,145.24 L241.70,144.98 L241.80,144.93 L241.90,144.70 L242.00,145.30 L242.10,144.57 L242.20,144.53 L242.30,144.26 L242.40,144.94 L242.50,144.62 L242.60,144.97 L242.70,144.93 L242.80,144.29 L242.90,145.13 L243.00,144.72 L243.10,144.59 L243.20,145.59 L243.30,145.02 L243.40,144.49 L243.50,144.63 L243.60,145.13 L243.70,144.62 L243.80,145.17 L243.90,143.69 L244.00,144.37 L244.10,145.22 L244.20,145.20 L244.30,145.07 L244.40,144.72 L244.50,144.62 L244.60,146.05 L244.70,144.16 L244.80,144.71 L244.90,145.18 L245.00,144.97 L245.10,144.73 L245.20,144.38 L245.30,144.50 L245.40,144.69 L245.50,145.68 L245.60,144.90 L245.70,144.75 L245.80,144.24 L245.90,145.64 L246.00,144.57 L246.10,145.20 L246.20,145.12 L246.30,145.47 L246.40,144.62 L246.50,144.73 L246.60,144.41 L246.70,144.53 L246.80,145.29 L246.90,145.14 L247.00,144.55 L247.10,145.12 L247.20,145.28 L247.30,145.67 L247.40,145.13 L247.50,144.45 L247.60,144.95 L247.70,144.65 L247.80,145.14 L247.90,145.11 L248.00,144.39 L248.10,144.77 L248.20,144.85 L248.30,145.00 L248.40,143.91 L248.50,144.78 L248.60,144.05 L248.70,144.84 L248.80,144.88 L248.90,145.48 L249.00,145.20 L249.10,144.87 L249.20,144.92 L249.30,144.67 L249.40,144.18 L249.50,144.37 L249.60,144.80 L249.70,145.35 L249.80,144.31 L249.90,144.35 L250.00,144.96 L250.10,144.35 L250.20,145.19 L250.30,144.62 L250.40,144.80 L250.50,145.46 L250.60,144.65 L250.70,144.97 L250.80,144.22 L250.90,145.78 L251.00,144.29 L251.10,144.84 L251.20,144.78 L251.30,144.18 L251.40,145.19 L251.50,144.17 L251.60,144.63 L251.70,144.98 L251.80,144.77 L251.90,144.55 L252.00,145.35 L252.10,144.38 L252.20,144.39 L252.30,144.53 L252.40,145.02 L252.50,144.52 L252.60,144.97 L252.70,144.70 L252.80,144.76 L252.90,145.57 L253.00,144.47 L253.10,144.85 L253.20,144.51 L253.30,144.16 L253.40,144.94 L253.50,144.15 L253.60,144.62 L253.70,144.87 L253.80,144.46 L253.90,145.24 L254.00,145.25 L254.10,144.78 L254.20,144.93 L254.30,144.36 L254.40,144.61 L254.50,145.01 L254.60,144.51 L254.70,144.52 L254.80,144.62 L254.90,144.33 L255.00,145.22 L255.10,145.20 L255.20,144.89 L255.30,145.07 L255.40,144.90 L255.50,145.63 L255.60,144.37 L255.70,145.06 L255.80,145.03 L255.90,144.74 L256.00,144.75 L256.10,144.75 L256.20,144.02 L256.30,144.97 L256.40,145.18 L256.50,145.07 L256.60,144.06 L256.70,145.43 L256.80,145.27 L256.90,145.02 L257.00,144.35 L257.10,145.22 L257.20,144.13 L257.30,144.66 L257.40,144.00 L257.50,145.62 L257.60,144.53 L257.70,144.26 L257.80,145.27 L257.90,144.32 L258.00,144.64 L258.10,144.95 L258.20,145.09 L258.30,145.19 L258.40,144.20 L258.50,145.18 L258.60,144.77 L258.70,144.40 L258.80,145.35 L258.90,144.66 L259.00,143.95 L259.10,145.48 L259.20,144.70 L259.30,144.99 L259.40,144.85 L259.50,144.37 L259.60,144.92 L259.70,144.57 L259.80,144.69 L259.90,144.87 L260.00,145.79 L260.10,144.52 L260.20,145.00 L260.30,144.64 L260.40,144.99 L260.50,144.94 L260.60,145.06 L260.70,144.66 L260.80,143.97 L260.90,144.98 L261.00,144.64 L261.10,144.95 L261.20,144.15 L261.30,144.51 L261.40,144.12 L261.50,145.44 L261.60,144.51 L261.70,144.49 L261.80,144.98 L261.90,144.25 L262.00,144.70 L262.10,145.04 L262.20,144.74 L262.30,144.10 L262.40,145.00 L262.50,144.96 L262.60,144.30 L262.70,144.25 L262.80,145.37 L262.90,144.47 L263.00,144.86 L263.10,144.36 L263.20,144.22 L263.30,144.62 L263.40,144.98 L263.50,145.01 L263.60,143.90 L263.70,144.71 L263.80,144.27 L263.90,145.03 L264.00,144.91 L264.10,143.94 L264.20,144.73 L264.30,144.22 L264.40,144.68 L264.50,143.94 L264.60,145.16 L264.70,145.20 L264.80,144.69 L264.90,144.87 L265.00,144.67 L265.10,145.00 L265.20,144.20 L265.30,143.70 L265.40,144.66 L265.50,144.56 L265.60,145.30 L265.70,144.73 L265.80,145.14 L265.90,144.88 L266.00,145.47 L266.10,144.90 L266.20,144.45 L266.30,144.43 L266.40,144.86 L266.50,145.44 L266.60,144.90 L266.70,144.22 L266.80,145.20 L266.90,144.80 L267.00,144.24 L267.10,144.21 L267.20,144.15 L267.30,144.66 L267.40,145.46 L267.50,144.68 L267.60,144.86 L267.70,144.69 L267.80,144.09 L267.90,144.88 L268.00,144.55 L268.10,144.93 L268.20,144.94 L268.30,145.34 L268.40,144.91 L268.50,145.32 L268.60,144.09 L268.70,144.46 L268.80,145.59 L268.90,144.40 L269.00,144.96 L269.10,144.81 L269.20,144.59 L269.30,144.11 L269.40,145.00 L269.50,145.20 L269.60,144.95 L269.70,144.77 L269.80,144.85 L269.90,144.26 L270.00,145.11 L270.10,145.29 L270.20,145.33 L270.30,144.30 L270.40,144.83 L270.50,144.84 L270.60,144.77 L270.70,145.00 L270.80,144.44 L270.90,143.71 L271.00,144.64 L271.10,144.28 L271.20,144.73 L271.30,144.74 L271.40,144.65 L271.50,144.73 L271.60,144.56 L271.70,144.71 L271.80,145.02 L271.90,144.84 L272.00,144.09 L272.10,144.74 L272.20,145.03 L272.30,144.45 L272.40,144.88 L272.50,144.88 L272.60,144.25 L272.70,144.18 L272.80,144.66 L272.90,144.54 L273.00,144.37 L273.10,144.09 L273.20,144.51 L273.30,144.23 L273.40,144.55 L273.50,144.59 L273.60,144.73 L273.70,145.09 L273.80,144.22 L273.90,144.16 L274.00,145.42 L274.10,144.56 L274.20,144.73 L274.30,145.64 L274.40,145.22 L274.50,144.42 L274.60,144.72 L274.70,144.74 L274.80,145.32 L274.90,144.56 L275.00,144.93 L275.10,145.10 L275.20,145.39 L275.30,144.07 L275.40,143.94 L275.50,144.40 L275.60,144.04 L275.70,144.25 L275.80,144.33 L275.90,144.57 L276.00,144.66 L276.10,144.57 L276.20,144.46 L276.30,144.72 L276.40,144.48 L276.50,144.75 L276.60,144.55 L276.70,144.81 L276.80,144.77 L276.90,144.50 L277.00,144.68 L277.10,144.42 L277.20,144.67 L277.30,144.61 L277.40,144.46 L277.50,144.13 L277.60,144.18 L277.70,144.98 L277.80,144.58 L277.90,143.91 L278.00,144.64 L278.10,144.55 L278.20,143.87 L278.30,145.02 L278.40,144.04 L278.50,144.89 L278.60,144.44 L278.70,144.96 L278.80,145.26 L278.90,144.58 L279.00,145.35 L279.10,143.50 L279.20,144.65 L279.30,145.08 L279.40,145.37 L279.50,144.03 L279.60,144.79 L279.70,143.78 L279.80,145.27 L279.90,145.13 L280.00,144.30 L280.10,145.03 L280.20,144.05 L280.30,144.53 L280.40,143.87 L280.50,145.16 L280.60,144.89 L280.70,144.80 L280.80,144.97 L280.90,144.67 L281.00,144.84 L281.10,145.05 L281.20,144.63 L281.30,143.94 L281.40,145.28 L281.50,144.75 L281.60,145.23 L281.70,144.51 L281.80,144.11 L281.90,144.27 L282.00,144.70 L282.10,144.67 L282.20,145.01 L282.30,144.96 L282.40,144.53 L282.50,145.35 L282.60,144.50 L282.70,145.04 L282.80,144.61 L282.90,144.45 L283.00,144.69 L283.10,144.54 L283.20,145.10 L283.30,144.04 L283.40,144.90 L283.50,144.65 L283.60,144.33 L283.70,144.16 L283.80,144.75 L283.90,144.78 L284.00,144.32 L284.10,144.18 L284.20,145.45 L284.30,144.70 L284.40,144.19 L284.50,145.14 L284.60,144.62 L284.70,145.03 L284.80,144.63 L284.90,145.37 L285.00,144.65 L285.10,144.33 L285.20,144.33 L285.30,144.89 L285.40,144.72 L285.50,144.52 L285.60,144.63 L285.70,144.72 L285.80,143.98 L285.90,144.79 L286.00,144.36 L286.10,144.65 L286.20,144.74 L286.30,144.73 L286.40,145.11 L286.50,144.41 L286.60,144.60 L286.70,144.08 L286.80,144.74 L286.90,144.46 L287.00,144.63 L287.10,144.87 L287.20,144.90 L287.30,144.78 L287.40,144.60 L287.50,144.45 L287.60,144.79 L287.70,145.21 L287.80,145.09 L287.90,144.56 L288.00,144.32 L288.10,144.20 L288.20,144.58 L288.30,144.09 L288.40,144.13 L288.50,144.24 L288.60,145.26 L288.70,144.38 L288.80,144.83 L288.90,144.46 L289.00,144.75 L289.10,144.51 L289.20,144.39 L289.30,144.69 L289.40,143.74 L289.50,144.11 L289.60,145.62 L289.70,144.69 L289.80,143.58 L289.90,144.53 L290.00,144.39 L290.10,144.40 L290.20,145.07 L290.30,144.60 L290.40,144.41 L290.50,144.99 L290.60,145.00 L290.70,144.66 L290.80,145.17 L290.90,144.60 L291.00,143.99 L291.10,144.35 L291.20,145.37 L291.30,145.33 L291.40,144.05 L291.50,144.52 L291.60,144.62 L291.70,144.85 L291.80,143.86 L291.90,145.07 L292.00,144.91 L292.10,144.50 L292.20,145.48 L292.30,144.89 L292.40,144.51 L292.50,144.93 L292.60,144.14 L292.70,144.84 L292.80,144.30 L292.90,144.18 L293.00,144.28 L293.10,144.12 L293.20,144.86 L293.30,144.52 L293.40,144.35 L293.50,144.47 L293.60,144.62 L293.70,144.99 L293.80,145.20 L293.90,144.89 L294.00,144.23 L294.10,143.92 L294.20,144.30 L294.30,143.99 L294.40,145.30 L294.50,144.39 L294.60,144.86 L294.70,144.51 L294.80,144.83 L294.90,144.40 L295.00,144.21 L295.10,143.97 L295.20,144.65 L295.30,144.90 L295.40,144.21 L295.50,144.82 L295.60,145.09 L295.70,144.38 L295.80,144.34 L295.90,144.68 L296.00,144.46 L296.10,144.35 L296.20,144.66 L296.30,143.78 L296.40,144.27 L296.50,143.52 L296.60,144.47 L296.70,144.88 L296.80,145.07 L296.90,143.88 L297.00,145.09 L297.10,144.62 L297.20,144.61 L297.30,144.59 L297.40,144.87 L297.50,144.58 L297.60,144.65 L297.70,144.56 L297.80,144.80 L297.90,144.52 L298.00,144.38 L298.10,144.96 L298.20,144.73 L298.30,144.63 L298.40,144.10 L298.50,144.11 L298.60,144.51 L298.70,144.18 L298.80,145.05 L298.90,144.33 L299.00,144.42 L299.10,144.17 L299.20,144.78 L299.30,143.84 L299.40,144.80 L299.50,145.17 L299.60,144.58 L299.70,144.74 L299.80,144.74 L299.90,144.77 L300.00,144.35 L300.10,144.32 L300.20,143.90 L300.30,144.42 L300.40,144.62 L300.50,144.90 L300.60,143.88 L300.70,143.96 L300.80,144.38 L300.90,144.28 L301.00,144.66 L301.10,143.77 L301.20,144.65 L301.30,144.20 L301.40,145.09 L301.50,144.75 L301.60,144.31 L301.70,144.53 L301.80,144.28 L301.90,144.62 L302.00,144.15 L302.10,144.50 L302.20,144.58 L302.30,144.35 L302.40,144.23 L302.50,144.58 L302.60,144.35 L302.70,144.98 L302.80,144.23 L302.90,144.87 L303.00,144.40 L303.10,144.41 L303.20,144.52 L303.30,144.66 L303.40,144.87 L303.50,144.88 L303.60,145.18 L303.70,144.83 L303.80,144.90 L303.90,144.76 L304.00,144.87 L304.10,144.65 L304.20,144.66 L304.30,144.64 L304.40,144.67 L304.50,144.32 L304.60,144.20 L304.70,144.71 L304.80,144.74 L304.90,144.50 L305.00,145.24 L305.10,143.96 L305.20,144.26 L305.30,144.32 L305.40,144.51 L305.50,144.31 L305.60,145.13 L305.70,145.01 L305.80,144.52 L305.90,145.00 L306.00,144.76 L306.10,144.24 L306.20,144.38 L306.30,144.76 L306.40,144.89 L306.50,144.11 L306.60,143.82 L306.70,143.97 L306.80,144.98 L306.90,143.89 L307.00,144.25 L307.10,144.80 L307.20,144.66 L307.30,145.44 L307.40,145.06 L307.50,144.07 L307.60,144.95 L307.70,143.31 L307.80,144.65 L307.90,144.23 L308.00,144.64 L308.10,144.33 L308.20,144.69 L308.30,144.17 L308.40,144.69 L308.50,144.36 L308.60,144.25 L308.70,143.97 L308.80,144.08 L308.90,144.38 L309.00,144.69 L309.10,143.69 L309.20,144.52 L309.30,144.71 L309.40,144.60 L309.50,144.23 L309.60,144.50 L309.70,144.24 L309.80,144.85 L309.90,143.53 L310.00,144.89 L310.10,144.22 L310.20,144.19 L310.30,145.30 L310.40,143.84 L310.50,144.10 L310.60,143.76 L310.70,144.94 L310.80,144.25 L310.90,144.81 L311.00,145.17 L311.10,145.17 L311.20,143.90 L311.30,144.78 L311.40,143.74 L311.50,144.39 L311.60,144.63 L311.70,145.19 L311.80,145.48 L311.90,143.62 L312.00,144.26 L312.10,143.57 L312.20,144.18 L312.30,145.10 L312.40,143.88 L312.50,144.50 L312.60,145.04 L312.70,144.50 L312.80,144.95 L312.90,144.22 L313.00,143.88 L313.10,145.23 L313.20,143.60 L313.30,144.48 L313.40,143.52 L313.50,144.43 L313.60,143.98 L313.70,143.94 L313.80,144.48 L313.90,144.83 L314.00,144.31 L314.10,144.53 L314.20,144.35 L314.30,143.81 L314.40,144.23 L314.50,144.47 L314.60,144.66 L314.70,145.02 L314.80,144.34 L314.90,143.85 L315.00,144.61 L315.10,144.43 L315.20,144.63 L315.30,144.57 L315.40,144.78 L315.50,144.85 L315.60,144.12 L315.70,145.10 L315.80,144.71 L315.90,144.85 L316.00,144.64 L316.10,144.74 L316.20,144.28 L316.30,144.94 L316.40,143.43 L316.50,144.90 L316.60,144.21 L316.70,144.53 L316.80,144.56 L316.90,144.62 L317.00,144.16 L317.10,144.70 L317.20,144.33 L317.30,144.09 L317.40,144.44 L317.50,144.46 L317.60,144.12 L317.70,144.95 L317.80,144.16 L317.90,144.62 L318.00,144.38 L318.10,143.46 L318.20,144.92 L318.30,143.88 L318.40,143.93 L318.50,145.33 L318.60,144.56 L318.70,144.66 L318.80,144.84 L318.90,144.53 L319.00,143.89 L319.10,145.15 L319.20,145.01 L319.30,144.21 L319.40,144.03 L319.50,144.84 L319.60,144.18 L319.70,144.77 L319.80,144.14 L319.90,144.39 L320.00,144.81 L320.10,145.01 L320.20,145.17 L320.30,144.74 L320.40,144.77 L320.50,144.58 L320.60,145.33 L320.70,143.92 L320.80,145.27 L320.90,144.97 L321.00,144.45 L321.10,143.63 L321.20,144.95 L321.30,143.96 L321.40,144.60 L321.50,144.49 L321.60,144.31 L321.70,143.89 L321.80,144.70 L321.90,144.98 L322.00,143.71 L322.10,145.35 L322.20,144.45 L322.30,144.76 L322.40,144.39 L322.50,144.21 L322.60,144.05 L322.70,145.01 L322.80,144.41 L322.90,144.36 L323.00,144.04 L323.10,144.24 L323.20,144.23 L323.30,144.81 L323.40,144.92 L323.50,144.18 L323.60,143.97 L323.70,144.88 L323.80,144.56 L323.90,143.96 L324.00,143.91 L324.10,144.77 L324.20,143.55 L324.30,145.03 L324.40,144.17 L324.50,144.20 L324.60,145.06 L324.70,144.02 L324.80,145.09 L324.90,144.41 L325.00,144.40 L325.10,145.02 L325.20,144.11 L325.30,144.47 L325.40,145.08 L325.50,144.14 L325.60,143.62 L325.70,144.03 L325.80,144.61 L325.90,144.37 L326.00,144.41 L326.10,144.64 L326.20,144.39 L326.30,144.12 L326.40,144.84 L326.50,144.72 L326.60,144.25 L326.70,144.16 L326.80,145.82 L326.90,143.92 L327.00,144.69 L327.10,143.77 L327.20,143.60 L327.30,145.03 L327.40,144.43 L327.50,144.20 L327.60,144.96 L327.70,144.39 L327.80,144.17 L327.90,144.12 L328.00,144.90 L328.10,144.53 L328.20,144.52 L328.30,144.36 L328.40,144.30 L328.50,143.76 L328.60,144.52 L328.70,144.64 L328.80,144.62 L328.90,144.88 L329.00,144.86 L329.10,144.22 L329.20,144.68 L329.30,144.27 L329.40,145.13 L329.50,144.29 L329.60,144.70 L329.70,144.06 L329.80,144.64 L329.90,143.83 L330.00,143.66 L330.10,144.60 L330.20,144.76 L330.30,144.96 L330.40,144.53 L330.50,144.62 L330.60,144.37 L330.70,144.82 L330.80,144.21 L330.90,144.29 L331.00,145.57 L331.10,144.12 L331.20,144.82 L331.30,144.33 L331.40,144.70 L331.50,144.47 L331.60,144.04 L331.70,144.02 L331.80,143.75 L331.90,145.19 L332.00,144.82 L332.10,143.94 L332.20,144.07 L332.30,145.47 L332.40,144.47 L332.50,144.43 L332.60,144.20 L332.70,144.40 L332.80,144.02 L332.90,143.53 L333.00,144.40 L333.10,144.38 L333.20,144.77 L333.30,144.34 L333.40,143.62 L333.50,144.86 L333.60,144.69 L333.70,144.43 L333.80,145.19 L333.90,144.99 L334.00,144.03 L334.10,144.37 L334.20,144.35 L334.30,144.25 L334.40,144.94 L334.50,144.85 L334.60,144.00 L334.70,144.87 L334.80,144.99 L334.90,144.38" fill="none" stroke="#6fe03a" stroke-width="0.5" stroke-opacity="1"/>
<polygon points="230,145 231.8,149 232.6,156.8 233.6,156.8 234.6,150 235.2,146" fill="#6fe03a"/>
<polygon points="234.6,146 235.3,183.7 236.1,183.7 236.6,146" fill="#6fe03a"/>
<line x1="235.6" y1="138.4" x2="235.6" y2="183.7" stroke="#6fe03a" stroke-width="1.5" stroke-linecap="butt"/>
<line x1="241.3" y1="138.4" x2="241.3" y2="156" stroke="#6fe03a" stroke-width="1.5" stroke-linecap="butt"/>
<polyline points="236.3,146 237.5,152 239,148 240.5,145" fill="none" stroke="#6fe03a" stroke-width="1.2" stroke-linejoin="miter"/>
<line x1="44.7" y1="270.2" x2="44.7" y2="366" stroke="#000" stroke-width="2" stroke-linecap="butt"/>
<line x1="40.7" y1="270.2" x2="44.7" y2="270.2" stroke="#000" stroke-width="2" stroke-linecap="butt"/>
<text x="38.9" y="273.98" font-size="10.5" text-anchor="end" fill="#000" font-weight="bold" >600</text>
<line x1="40.7" y1="308.4" x2="44.7" y2="308.4" stroke="#000" stroke-width="2" stroke-linecap="butt"/>
<text x="38.9" y="312.18" font-size="10.5" text-anchor="end" fill="#000" font-weight="bold" >400</text>
<line x1="40.7" y1="346.5" x2="44.7" y2="346.5" stroke="#000" stroke-width="2" stroke-linecap="butt"/>
<text x="38.9" y="350.28" font-size="10.5" text-anchor="end" fill="#000" font-weight="bold" >200</text>
<line x1="211.8" y1="269.9" x2="211.8" y2="366" stroke="#000" stroke-width="2" stroke-linecap="butt"/>
<line x1="207.8" y1="269.9" x2="211.8" y2="269.9" stroke="#000" stroke-width="2" stroke-linecap="butt"/>
<text x="206" y="273.68" font-size="10.5" text-anchor="end" fill="#000" font-weight="bold" >600</text>
<line x1="207.8" y1="307.6" x2="211.8" y2="307.6" stroke="#000" stroke-width="2" stroke-linecap="butt"/>
<text x="206" y="311.38" font-size="10.5" text-anchor="end" fill="#000" font-weight="bold" >400</text>
<line x1="207.8" y1="345.6" x2="211.8" y2="345.6" stroke="#000" stroke-width="2" stroke-linecap="butt"/>
<text x="206" y="349.38" font-size="10.5" text-anchor="end" fill="#000" font-weight="bold" >200</text>
<text transform="translate(14.6,311) rotate(-90)" font-size="13.5" text-anchor="middle" fill="#000" font-weight="bold" >[Ca<tspan font-size="9.5" dy="-4.8">2+</tspan><tspan dy="4.8">]</tspan><tspan font-size="9" dy="3">i</tspan><tspan dy="-3"> (nM)</tspan></text>
<polygon points="57.30,325.30 58.00,324.84 58.70,324.71 59.40,324.58 60.10,325.08 60.80,324.56 61.50,325.04 62.20,324.83 62.90,324.34 63.60,324.82 64.30,325.21 65.00,325.28 65.70,324.39 66.40,324.73 67.10,325.17 67.80,325.05 68.50,324.77 69.20,317.41 69.90,302.58 70.60,296.13 71.30,292.86 72.00,292.39 72.70,291.63 73.40,290.44 74.10,289.77 74.80,290.56 75.50,290.20 76.20,290.02 76.90,291.27 77.60,291.52 78.30,292.62 79.00,294.17 79.70,295.87 80.40,296.60 81.10,297.66 81.80,298.51 82.50,299.66 83.20,299.70 83.90,300.54 84.60,301.98 85.30,302.20 86.00,302.94 86.70,302.96 87.40,303.34 88.10,303.25 88.80,304.70 89.50,303.97 90.20,304.77 90.90,305.28 91.60,305.75 92.30,306.19 93.00,305.94 93.70,306.24 94.40,306.78 95.10,306.94 95.80,306.51 96.50,307.63 97.20,307.27 97.90,307.79 98.60,307.72 99.30,307.96 100.00,308.06 100.70,308.46 101.40,308.26 102.10,309.40 102.80,308.76 103.50,309.65 104.20,309.46 104.90,309.21 105.60,309.85 106.30,310.83 107.00,310.94 107.70,311.10 108.40,311.43 109.10,311.62 109.80,310.93 110.50,311.43 111.20,311.42 111.90,311.81 112.60,311.56 113.30,311.96 114.00,312.28 114.70,312.25 115.40,312.67 116.10,312.81 116.80,312.30 117.50,312.74 118.20,312.60 118.90,313.23 119.60,313.09 120.30,312.89 121.00,313.19 121.70,313.32 122.40,313.90 123.10,313.43 123.80,314.06 124.50,314.17 125.20,313.86 125.90,314.09 126.60,314.94 127.30,314.72 128.00,315.01 128.70,314.58 129.40,315.25 130.10,315.01 130.80,314.88 131.50,315.54 132.20,315.83 132.90,315.47 133.60,315.44 134.30,315.41 135.00,315.66 135.70,316.50 136.40,316.66 137.10,316.31 137.80,316.88 138.50,316.26 139.20,316.80 139.90,317.15 140.60,316.62 141.30,317.21 142.00,317.36 142.70,317.47 143.40,317.98 144.10,317.41 144.80,318.28 145.50,317.94 146.20,318.95 146.90,318.72 147.60,318.57 148.30,318.73 149.00,319.22 149.70,318.80 150.40,319.19 151.10,319.41 151.80,319.27 152.50,319.58 153.20,319.74 153.90,320.06 154.60,320.72 155.30,320.25 156.00,320.66 156.70,320.31 157.40,320.67 158.10,321.49 158.80,321.38 159.50,321.84 160.20,321.34 160.90,321.70 161.60,321.42 162.30,321.71 163.00,321.71 163.70,322.18 164.40,322.49 165.10,322.87 165.80,323.34 166.50,322.92 166.50,330.88 165.80,330.36 165.10,330.63 164.40,330.22 163.70,330.26 163.00,329.71 162.30,329.47 161.60,329.88 160.90,330.38 160.20,329.95 159.50,329.02 158.80,329.21 158.10,329.60 157.40,329.18 156.70,328.74 156.00,329.31 155.30,328.90 154.60,328.79 153.90,327.70 153.20,328.21 152.50,328.38 151.80,328.38 151.10,328.12 150.40,327.38 149.70,326.99 149.00,327.19 148.30,327.19 147.60,326.31 146.90,326.80 146.20,326.24 145.50,326.83 144.80,326.00 144.10,326.30 143.40,325.56 142.70,326.00 142.00,325.94 141.30,324.88 140.60,325.18 139.90,324.87 139.20,324.88 138.50,325.34 137.80,324.55 137.10,324.17 136.40,324.86 135.70,324.03 135.00,324.58 134.30,323.54 133.60,324.40 132.90,323.61 132.20,324.02 131.50,323.93 130.80,323.32 130.10,323.05 129.40,323.37 128.70,322.49 128.00,322.51 127.30,323.27 126.60,322.62 125.90,321.90 125.20,321.81 124.50,322.45 123.80,322.30 123.10,322.31 122.40,321.49 121.70,322.03 121.00,321.36 120.30,321.41 119.60,321.62 118.90,321.61 118.20,320.98 117.50,320.83 116.80,321.36 116.10,320.75 115.40,320.85 114.70,320.21 114.00,319.98 113.30,320.13 112.60,320.11 111.90,319.65 111.20,319.87 110.50,319.54 109.80,319.61 109.10,319.46 108.40,319.34 107.70,319.07 107.00,319.10 106.30,318.33 105.60,318.79 104.90,317.58 104.20,318.13 103.50,317.25 102.80,317.95 102.10,317.46 101.40,317.36 100.70,316.29 100.00,317.25 99.30,316.72 98.60,316.49 97.90,316.32 97.20,315.30 96.50,315.17 95.80,315.68 95.10,315.79 94.40,315.17 93.70,314.20 93.00,313.92 92.30,314.44 91.60,313.52 90.90,313.47 90.20,312.82 89.50,312.93 88.80,313.18 88.10,312.49 87.40,311.78 86.70,312.17 86.00,311.37 85.30,311.17 84.60,311.51 83.90,309.66 83.20,309.27 82.50,308.03 81.80,307.37 81.10,307.02 80.40,305.94 79.70,305.68 79.00,303.83 78.30,303.19 77.60,302.22 76.90,301.26 76.20,300.45 75.50,300.31 74.80,300.72 74.10,299.85 73.40,300.04 72.70,301.51 72.00,301.29 71.30,302.22 70.60,304.77 69.90,310.45 69.20,324.69 68.50,332.37 67.80,332.76 67.10,332.01 66.40,332.14 65.70,332.30 65.00,332.00 64.30,331.99 63.60,331.97 62.90,331.74 62.20,332.31 61.50,332.32 60.80,332.24 60.10,332.59 59.40,331.79 58.70,331.77 58.00,332.67 57.30,332.24" fill="#000" fill-opacity="1"/>
<path d="M57.30,323.68 L57.40,333.73 L57.50,326.57 L57.60,331.12 L57.70,328.28 L57.80,330.07 L57.90,332.55 L58.00,332.05 L58.10,325.32 L58.20,334.71 L58.30,331.88 L58.40,327.69 L58.50,325.82 L58.60,324.06 L58.70,329.29 L58.80,334.93 L58.90,324.46 L59.00,332.75 L59.10,333.90 L59.20,327.26 L59.30,326.24 L59.40,329.01 L59.50,327.63 L59.60,325.97 L59.70,326.92 L59.80,327.15 L59.90,326.76 L60.00,327.99 L60.10,330.66 L60.20,330.93 L60.30,323.91 L60.40,324.37 L60.50,322.20 L60.60,331.02 L60.70,326.00 L60.80,331.59 L60.90,327.61 L61.00,327.18 L61.10,337.51 L61.20,324.67 L61.30,329.89 L61.40,326.72 L61.50,336.23 L61.60,329.36 L61.70,326.90 L61.80,324.43 L61.90,331.27 L62.00,326.62 L62.10,329.90 L62.20,329.17 L62.30,330.24 L62.40,331.17 L62.50,334.74 L62.60,324.45 L62.70,329.45 L62.80,325.74 L62.90,328.30 L63.00,325.98 L63.10,323.81 L63.20,326.97 L63.30,327.31 L63.40,324.69 L63.50,331.63 L63.60,337.31 L63.70,329.96 L63.80,326.17 L63.90,329.02 L64.00,331.15 L64.10,324.25 L64.20,328.33 L64.30,328.37 L64.40,321.05 L64.50,325.15 L64.60,333.52 L64.70,326.48 L64.80,328.27 L64.90,322.08 L65.00,328.32 L65.10,324.50 L65.20,334.01 L65.30,325.79 L65.40,325.39 L65.50,334.95 L65.60,332.51 L65.70,330.89 L65.80,324.47 L65.90,333.15 L66.00,333.18 L66.10,329.87 L66.20,323.13 L66.30,324.33 L66.40,320.42 L66.50,324.81 L66.60,330.94 L66.70,331.08 L66.80,325.84 L66.90,326.45 L67.00,327.46 L67.10,324.48 L67.20,330.24 L67.30,330.86 L67.40,327.53 L67.50,324.38 L67.60,326.61 L67.70,326.50 L67.80,334.28 L67.90,326.44 L68.00,325.69 L68.10,325.02 L68.20,324.07 L68.30,328.42 L68.40,326.87 L68.50,331.31 L68.60,329.49 L68.70,332.35 L68.80,330.86 L68.90,323.10 L69.00,325.54 L69.10,318.99 L69.20,322.52 L69.30,316.58 L69.40,310.42 L69.50,321.22 L69.60,314.37 L69.70,308.23 L69.80,311.09 L69.90,302.67 L70.00,304.67 L70.10,306.54 L70.20,299.55 L70.30,306.15 L70.40,299.54 L70.50,296.23 L70.60,302.11 L70.70,301.23 L70.80,298.11 L70.90,299.39 L71.00,297.90 L71.10,300.57 L71.20,293.74 L71.30,296.07 L71.40,290.74 L71.50,293.94 L71.60,292.01 L71.70,294.58 L71.80,302.57 L71.90,295.33 L72.00,293.74 L72.10,288.99 L72.20,294.44 L72.30,306.50 L72.40,301.09 L72.50,294.52 L72.60,298.56 L72.70,294.24 L72.80,297.43 L72.90,300.66 L73.00,295.04 L73.10,300.04 L73.20,294.97 L73.30,289.35 L73.40,300.67 L73.50,300.64 L73.60,296.80 L73.70,287.51 L73.80,298.27 L73.90,289.90 L74.00,294.36 L74.10,295.52 L74.20,301.53 L74.30,284.49 L74.40,299.02 L74.50,294.71 L74.60,293.40 L74.70,292.62 L74.80,303.09 L74.90,299.44 L75.00,299.58 L75.10,295.74 L75.20,297.53 L75.30,292.61 L75.40,295.15 L75.50,295.45 L75.60,299.40 L75.70,295.45 L75.80,293.25 L75.90,287.17 L76.00,289.72 L76.10,293.31 L76.20,289.29 L76.30,292.45 L76.40,295.86 L76.50,292.11 L76.60,293.65 L76.70,303.82 L76.80,300.65 L76.90,300.54 L77.00,300.03 L77.10,292.47 L77.20,300.07 L77.30,307.17 L77.40,295.39 L77.50,296.41 L77.60,306.29 L77.70,304.48 L77.80,297.22 L77.90,306.34 L78.00,302.48 L78.10,295.37 L78.20,295.80 L78.30,304.24 L78.40,302.51 L78.50,293.99 L78.60,292.52 L78.70,303.65 L78.80,297.77 L78.90,296.46 L79.00,291.63 L79.10,294.09 L79.20,297.14 L79.30,308.20 L79.40,298.12 L79.50,302.11 L79.60,297.23 L79.70,309.13 L79.80,297.16 L79.90,302.13 L80.00,295.59 L80.10,303.96 L80.20,292.27 L80.30,302.71 L80.40,303.95 L80.50,300.41 L80.60,303.63 L80.70,303.36 L80.80,311.20 L80.90,300.80 L81.00,305.76 L81.10,297.94 L81.20,304.25 L81.30,302.41 L81.40,302.72 L81.50,302.72 L81.60,303.92 L81.70,298.04 L81.80,300.30 L81.90,307.72 L82.00,302.46 L82.10,309.98 L82.20,310.05 L82.30,306.34 L82.40,296.99 L82.50,307.23 L82.60,308.86 L82.70,306.80 L82.80,311.14 L82.90,299.97 L83.00,299.91 L83.10,300.80 L83.20,303.02 L83.30,308.20 L83.40,307.46 L83.50,300.88 L83.60,299.74 L83.70,300.43 L83.80,307.14 L83.90,310.49 L84.00,309.73 L84.10,301.81 L84.20,296.98 L84.30,301.84 L84.40,306.29 L84.50,298.55 L84.60,309.06 L84.70,309.24 L84.80,306.07 L84.90,311.87 L85.00,307.38 L85.10,299.27 L85.20,311.44 L85.30,307.22 L85.40,310.81 L85.50,303.74 L85.60,302.81 L85.70,310.12 L85.80,307.07 L85.90,308.44 L86.00,308.06 L86.10,303.51 L86.20,296.31 L86.30,306.73 L86.40,307.05 L86.50,306.24 L86.60,306.35 L86.70,303.01 L86.80,307.78 L86.90,309.45 L87.00,301.98 L87.10,316.59 L87.20,298.37 L87.30,312.46 L87.40,303.33 L87.50,312.12 L87.60,299.66 L87.70,305.29 L87.80,310.49 L87.90,305.34 L88.00,312.79 L88.10,312.89 L88.20,305.25 L88.30,302.88 L88.40,309.59 L88.50,304.76 L88.60,304.88 L88.70,305.45 L88.80,298.43 L88.90,309.51 L89.00,307.43 L89.10,303.95 L89.20,302.44 L89.30,309.59 L89.40,315.20 L89.50,306.12 L89.60,313.73 L89.70,311.81 L89.80,307.87 L89.90,304.55 L90.00,315.14 L90.10,310.42 L90.20,299.26 L90.30,299.18 L90.40,309.50 L90.50,304.89 L90.60,312.34 L90.70,308.02 L90.80,311.38 L90.90,307.59 L91.00,304.05 L91.10,307.03 L91.20,309.30 L91.30,311.51 L91.40,319.21 L91.50,317.96 L91.60,309.63 L91.70,310.36 L91.80,302.47 L91.90,313.42 L92.00,309.38 L92.10,307.31 L92.20,315.69 L92.30,306.79 L92.40,308.53 L92.50,315.43 L92.60,316.24 L92.70,307.99 L92.80,304.15 L92.90,310.49 L93.00,306.59 L93.10,310.84 L93.20,305.59 L93.30,313.33 L93.40,312.74 L93.50,316.64 L93.60,313.53 L93.70,313.18 L93.80,312.08 L93.90,306.69 L94.00,313.05 L94.10,310.99 L94.20,318.04 L94.30,304.34 L94.40,309.46 L94.50,309.88 L94.60,314.12 L94.70,309.32 L94.80,313.95 L94.90,306.90 L95.00,311.50 L95.10,305.88 L95.20,312.74 L95.30,310.98 L95.40,313.07 L95.50,313.62 L95.60,314.89 L95.70,305.29 L95.80,316.63 L95.90,315.52 L96.00,315.47 L96.10,309.41 L96.20,308.33 L96.30,306.96 L96.40,312.98 L96.50,315.72 L96.60,309.35 L96.70,316.77 L96.80,308.70 L96.90,312.51 L97.00,311.55 L97.10,306.10 L97.20,317.24 L97.30,307.47 L97.40,312.57 L97.50,311.53 L97.60,309.99 L97.70,308.75 L97.80,314.89 L97.90,317.44 L98.00,309.90 L98.10,316.52 L98.20,314.08 L98.30,316.28 L98.40,311.55 L98.50,316.72 L98.60,320.79 L98.70,309.28 L98.80,313.56 L98.90,301.20 L99.00,316.05 L99.10,314.55 L99.20,313.07 L99.30,314.64 L99.40,310.35 L99.50,307.34 L99.60,311.18 L99.70,309.25 L99.80,306.90 L99.90,313.98 L100.00,309.30 L100.10,310.85 L100.20,310.11 L100.30,319.25 L100.40,314.07 L100.50,309.79 L100.60,313.70 L100.70,314.55 L100.80,308.54 L100.90,314.73 L101.00,307.54 L101.10,310.32 L101.20,311.83 L101.30,307.06 L101.40,311.71 L101.50,313.92 L101.60,320.94 L101.70,317.95 L101.80,307.69 L101.90,313.79 L102.00,319.57 L102.10,308.99 L102.20,318.86 L102.30,317.24 L102.40,322.20 L102.50,318.39 L102.60,314.25 L102.70,312.18 L102.80,315.95 L102.90,313.54 L103.00,308.57 L103.10,307.69 L103.20,318.07 L103.30,314.02 L103.40,307.62 L103.50,312.17 L103.60,311.11 L103.70,313.24 L103.80,310.90 L103.90,316.84 L104.00,315.88 L104.10,316.87 L104.20,319.73 L104.30,314.91 L104.40,315.32 L104.50,312.76 L104.60,322.45 L104.70,313.91 L104.80,307.52 L104.90,323.87 L105.00,310.75 L105.10,312.84 L105.20,316.56 L105.30,321.91 L105.40,315.30 L105.50,316.83 L105.60,312.23 L105.70,312.80 L105.80,315.79 L105.90,310.29 L106.00,312.16 L106.10,315.34 L106.20,307.77 L106.30,315.76 L106.40,309.26 L106.50,320.21 L106.60,320.94 L106.70,322.25 L106.80,310.63 L106.90,314.95 L107.00,319.73 L107.10,308.49 L107.20,314.72 L107.30,304.16 L107.40,320.07 L107.50,317.96 L107.60,315.63 L107.70,312.28 L107.80,314.39 L107.90,308.97 L108.00,309.14 L108.10,315.37 L108.20,310.30 L108.30,306.63 L108.40,321.26 L108.50,317.20 L108.60,313.33 L108.70,321.08 L108.80,320.56 L108.90,313.64 L109.00,314.07 L109.10,316.62 L109.20,308.76 L109.30,309.44 L109.40,319.00 L109.50,309.76 L109.60,320.34 L109.70,313.77 L109.80,320.38 L109.90,322.68 L110.00,319.42 L110.10,325.43 L110.20,313.92 L110.30,313.65 L110.40,309.16 L110.50,319.54 L110.60,313.56 L110.70,315.47 L110.80,316.64 L110.90,317.83 L111.00,316.25 L111.10,316.28 L111.20,317.97 L111.30,313.83 L111.40,314.66 L111.50,320.09 L111.60,315.88 L111.70,323.94 L111.80,322.08 L111.90,322.00 L112.00,317.54 L112.10,318.91 L112.20,319.82 L112.30,318.99 L112.40,312.90 L112.50,310.16 L112.60,317.46 L112.70,311.04 L112.80,315.65 L112.90,319.69 L113.00,316.42 L113.10,315.10 L113.20,316.62 L113.30,320.72 L113.40,311.70 L113.50,314.00 L113.60,322.48 L113.70,310.26 L113.80,312.15 L113.90,319.56 L114.00,309.55 L114.10,316.72 L114.20,318.16 L114.30,311.98 L114.40,310.53 L114.50,321.56 L114.60,313.48 L114.70,309.40 L114.80,316.63 L114.90,312.52 L115.00,318.34 L115.10,313.76 L115.20,319.58 L115.30,318.22 L115.40,316.16 L115.50,312.92 L115.60,319.27 L115.70,316.58 L115.80,317.27 L115.90,315.53 L116.00,321.08 L116.10,322.73 L116.20,311.71 L116.30,314.28 L116.40,309.67 L116.50,317.43 L116.60,324.03 L116.70,320.88 L116.80,320.37 L116.90,314.51 L117.00,317.35 L117.10,323.60 L117.20,319.93 L117.30,324.26 L117.40,310.80 L117.50,313.19 L117.60,314.59 L117.70,316.63 L117.80,314.82 L117.90,313.64 L118.00,315.32 L118.10,319.69 L118.20,322.96 L118.30,320.50 L118.40,315.92 L118.50,312.16 L118.60,320.12 L118.70,319.14 L118.80,317.53 L118.90,315.13 L119.00,322.49 L119.10,316.98 L119.20,322.62 L119.30,318.96 L119.40,319.86 L119.50,318.57 L119.60,319.55 L119.70,315.21 L119.80,320.85 L119.90,313.19 L120.00,317.95 L120.10,309.03 L120.20,321.53 L120.30,311.20 L120.40,316.38 L120.50,323.05 L120.60,323.84 L120.70,312.54 L120.80,318.67 L120.90,314.25 L121.00,322.44 L121.10,316.08 L121.20,318.15 L121.30,319.83 L121.40,312.89 L121.50,316.72 L121.60,320.81 L121.70,319.13 L121.80,311.44 L121.90,318.58 L122.00,318.47 L122.10,310.16 L122.20,316.34 L122.30,318.29 L122.40,329.35 L122.50,328.91 L122.60,321.09 L122.70,322.22 L122.80,321.82 L122.90,317.27 L123.00,319.65 L123.10,323.70 L123.20,317.09 L123.30,317.65 L123.40,319.64 L123.50,315.03 L123.60,315.47 L123.70,320.78 L123.80,316.68 L123.90,315.29 L124.00,313.92 L124.10,319.99 L124.20,319.69 L124.30,312.92 L124.40,318.86 L124.50,316.93 L124.60,318.37 L124.70,317.20 L124.80,320.24 L124.90,320.55 L125.00,320.68 L125.10,323.07 L125.20,322.17 L125.30,321.63 L125.40,323.26 L125.50,320.42 L125.60,321.89 L125.70,313.40 L125.80,316.69 L125.90,321.49 L126.00,320.30 L126.10,324.53 L126.20,315.08 L126.30,316.59 L126.40,317.55 L126.50,321.03 L126.60,315.93 L126.70,323.67 L126.80,322.32 L126.90,321.17 L127.00,316.13 L127.10,317.20 L127.20,314.89 L127.30,320.85 L127.40,314.67 L127.50,316.52 L127.60,323.10 L127.70,314.88 L127.80,323.72 L127.90,319.05 L128.00,313.54 L128.10,324.28 L128.20,313.91 L128.30,322.37 L128.40,328.76 L128.50,313.71 L128.60,317.91 L128.70,317.20 L128.80,318.26 L128.90,322.84 L129.00,323.60 L129.10,315.60 L129.20,310.11 L129.30,319.56 L129.40,326.08 L129.50,319.31 L129.60,316.66 L129.70,318.98 L129.80,314.94 L129.90,326.01 L130.00,317.35 L130.10,318.58 L130.20,314.44 L130.30,323.73 L130.40,314.96 L130.50,320.89 L130.60,328.49 L130.70,318.17 L130.80,314.62 L130.90,315.88 L131.00,324.79 L131.10,325.21 L131.20,319.10 L131.30,324.04 L131.40,321.80 L131.50,317.81 L131.60,319.92 L131.70,315.27 L131.80,317.83 L131.90,313.08 L132.00,328.59 L132.10,320.22 L132.20,318.06 L132.30,322.52 L132.40,322.58 L132.50,322.34 L132.60,318.83 L132.70,319.38 L132.80,320.98 L132.90,317.21 L133.00,314.99 L133.10,319.06 L133.20,313.46 L133.30,316.43 L133.40,320.47 L133.50,317.78 L133.60,318.00 L133.70,324.32 L133.80,313.81 L133.90,318.92 L134.00,326.44 L134.10,323.64 L134.20,320.01 L134.30,325.86 L134.40,324.99 L134.50,318.25 L134.60,322.99 L134.70,313.50 L134.80,315.90 L134.90,318.74 L135.00,308.35 L135.10,309.60 L135.20,330.70 L135.30,320.05 L135.40,321.02 L135.50,316.53 L135.60,318.70 L135.70,328.04 L135.80,317.45 L135.90,324.40 L136.00,320.71 L136.10,316.63 L136.20,324.25 L136.30,319.24 L136.40,318.82 L136.50,319.09 L136.60,316.80 L136.70,327.68 L136.80,320.30 L136.90,329.56 L137.00,318.69 L137.10,309.06 L137.20,319.16 L137.30,322.82 L137.40,317.05 L137.50,323.09 L137.60,328.23 L137.70,318.56 L137.80,319.59 L137.90,322.31 L138.00,324.52 L138.10,322.49 L138.20,320.75 L138.30,320.49 L138.40,328.14 L138.50,320.97 L138.60,321.18 L138.70,320.31 L138.80,321.44 L138.90,311.15 L139.00,314.90 L139.10,320.26 L139.20,319.12 L139.30,324.55 L139.40,320.67 L139.50,323.17 L139.60,324.54 L139.70,321.80 L139.80,318.59 L139.90,312.40 L140.00,323.77 L140.10,319.26 L140.20,317.74 L140.30,321.43 L140.40,316.62 L140.50,317.94 L140.60,318.55 L140.70,313.05 L140.80,318.64 L140.90,319.96 L141.00,323.88 L141.10,321.45 L141.20,327.61 L141.30,325.44 L141.40,319.80 L141.50,322.54 L141.60,325.06 L141.70,319.90 L141.80,325.86 L141.90,311.60 L142.00,318.99 L142.10,320.73 L142.20,322.01 L142.30,324.00 L142.40,329.29 L142.50,318.14 L142.60,326.10 L142.70,321.79 L142.80,321.39 L142.90,325.30 L143.00,318.57 L143.10,316.12 L143.20,317.15 L143.30,318.04 L143.40,325.02 L143.50,330.98 L143.60,321.39 L143.70,321.26 L143.80,319.84 L143.90,319.33 L144.00,316.95 L144.10,326.43 L144.20,319.68 L144.30,321.20 L144.40,323.34 L144.50,322.28 L144.60,321.81 L144.70,321.06 L144.80,314.91 L144.90,322.70 L145.00,322.70 L145.10,324.59 L145.20,318.00 L145.30,333.48 L145.40,324.79 L145.50,323.32 L145.60,315.16 L145.70,323.82 L145.80,313.27 L145.90,322.45 L146.00,319.57 L146.10,323.91 L146.20,322.41 L146.30,327.27 L146.40,322.48 L146.50,322.97 L146.60,318.95 L146.70,320.14 L146.80,314.56 L146.90,322.24 L147.00,317.43 L147.10,324.33 L147.20,323.58 L147.30,328.88 L147.40,324.71 L147.50,324.57 L147.60,329.04 L147.70,323.58 L147.80,328.03 L147.90,327.70 L148.00,329.41 L148.10,324.42 L148.20,325.75 L148.30,321.36 L148.40,327.77 L148.50,317.94 L148.60,320.36 L148.70,322.97 L148.80,323.20 L148.90,324.49 L149.00,324.54 L149.10,323.71 L149.20,317.62 L149.30,317.66 L149.40,325.07 L149.50,321.37 L149.60,327.00 L149.70,330.93 L149.80,324.24 L149.90,326.28 L150.00,323.41 L150.10,325.45 L150.20,330.59 L150.30,318.25 L150.40,323.42 L150.50,319.03 L150.60,319.41 L150.70,322.42 L150.80,324.60 L150.90,329.34 L151.00,317.01 L151.10,325.36 L151.20,326.91 L151.30,326.86 L151.40,316.76 L151.50,323.36 L151.60,328.98 L151.70,322.38 L151.80,325.02 L151.90,325.92 L152.00,326.26 L152.10,316.02 L152.20,322.63 L152.30,321.48 L152.40,323.37 L152.50,327.23 L152.60,325.68 L152.70,326.38 L152.80,325.47 L152.90,325.77 L153.00,324.33 L153.10,330.12 L153.20,327.43 L153.30,320.49 L153.40,323.44 L153.50,319.70 L153.60,326.50 L153.70,324.80 L153.80,319.24 L153.90,334.58 L154.00,321.55 L154.10,320.34 L154.20,322.49 L154.30,325.46 L154.40,330.57 L154.50,322.63 L154.60,318.16 L154.70,325.38 L154.80,321.44 L154.90,328.53 L155.00,322.88 L155.10,319.63 L155.20,325.45 L155.30,323.02 L155.40,324.72 L155.50,321.85 L155.60,328.48 L155.70,325.15 L155.80,325.24 L155.90,323.95 L156.00,328.37 L156.10,316.29 L156.20,325.05 L156.30,322.01 L156.40,327.77 L156.50,319.93 L156.60,326.80 L156.70,318.61 L156.80,320.66 L156.90,329.70 L157.00,323.62 L157.10,324.83 L157.20,321.09 L157.30,328.35 L157.40,323.12 L157.50,325.59 L157.60,328.21 L157.70,327.15 L157.80,326.94 L157.90,319.10 L158.00,328.75 L158.10,331.42 L158.20,330.86 L158.30,316.90 L158.40,326.74 L158.50,328.01 L158.60,329.10 L158.70,329.01 L158.80,321.62 L158.90,320.88 L159.00,325.93 L159.10,331.07 L159.20,322.39 L159.30,331.83 L159.40,317.84 L159.50,327.16 L159.60,323.78 L159.70,320.25 L159.80,325.15 L159.90,329.62 L160.00,330.54 L160.10,330.37 L160.20,317.44 L160.30,329.27 L160.40,327.35 L160.50,325.36 L160.60,317.03 L160.70,333.96 L160.80,324.06 L160.90,321.12 L161.00,327.11 L161.10,323.69 L161.20,337.22 L161.30,331.38 L161.40,329.63 L161.50,327.27 L161.60,334.01 L161.70,327.31 L161.80,326.78 L161.90,322.09 L162.00,331.03 L162.10,324.26 L162.20,325.59 L162.30,322.53 L162.40,332.75 L162.50,327.13 L162.60,326.93 L162.70,336.47 L162.80,324.09 L162.90,327.95 L163.00,319.65 L163.10,324.59 L163.20,325.07 L163.30,321.96 L163.40,322.70 L163.50,337.01 L163.60,326.98 L163.70,327.64 L163.80,324.92 L163.90,328.82 L164.00,324.31 L164.10,327.06 L164.20,321.66 L164.30,325.53 L164.40,325.15 L164.50,327.94 L164.60,321.71 L164.70,323.96 L164.80,325.12 L164.90,323.69 L165.00,329.74 L165.10,324.99 L165.20,324.71 L165.30,320.44 L165.40,327.73 L165.50,324.58 L165.60,331.69 L165.70,324.48 L165.80,324.36 L165.90,324.00 L166.00,326.22 L166.10,324.94 L166.20,329.25 L166.30,329.65 L166.40,325.74 L166.50,334.67 L166.60,328.14 L166.70,321.30 L166.80,329.14 L166.90,328.36 L167.00,321.13" fill="none" stroke="#000" stroke-width="0.55" stroke-opacity="1"/>
<polygon points="225.20,333.21 225.90,332.92 226.60,333.49 227.30,333.40 228.00,333.22 228.70,332.92 229.40,333.64 230.10,332.44 230.80,332.60 231.50,332.90 232.20,333.33 232.90,332.25 233.60,332.91 234.30,332.78 235.00,331.97 235.70,332.85 236.40,330.79 237.10,324.46 237.80,317.43 238.50,313.83 239.20,310.06 239.90,308.62 240.60,308.79 241.30,307.30 242.00,307.29 242.70,306.71 243.40,307.97 244.10,308.07 244.80,307.90 245.50,307.80 246.20,308.27 246.90,309.13 247.60,310.06 248.30,309.69 249.00,310.88 249.70,311.45 250.40,312.25 251.10,313.09 251.80,313.49 252.50,313.29 253.20,314.25 253.90,314.22 254.60,315.25 255.30,315.08 256.00,316.17 256.70,316.21 257.40,316.70 258.10,317.20 258.80,317.63 259.50,318.18 260.20,318.30 260.90,318.25 261.60,318.50 262.30,318.92 263.00,318.66 263.70,319.18 264.40,319.56 265.10,319.38 265.80,319.15 266.50,319.38 267.20,320.63 267.90,319.94 268.60,320.30 269.30,320.95 270.00,321.26 270.70,321.58 271.40,321.70 272.10,321.31 272.80,321.64 273.50,322.47 274.20,322.21 274.90,322.89 275.60,322.47 276.30,322.89 277.00,322.77 277.70,323.47 278.40,323.95 279.10,324.11 279.80,323.68 280.50,323.62 281.20,323.91 281.90,324.34 282.60,323.88 283.30,323.73 284.00,324.82 284.70,325.05 285.40,324.50 286.10,324.88 286.80,325.31 287.50,324.79 288.20,325.45 288.90,325.42 289.60,324.85 290.30,325.31 291.00,326.17 291.70,325.88 292.40,325.91 293.10,325.55 293.80,326.64 294.50,326.55 295.20,326.58 295.90,326.83 296.60,326.72 297.30,326.30 298.00,326.60 298.70,327.25 299.40,327.60 300.10,326.59 300.80,326.70 301.50,327.13 302.20,327.82 302.90,327.64 303.60,327.53 304.30,327.40 305.00,327.73 305.70,327.43 306.40,328.30 307.10,327.51 307.80,327.69 308.50,327.67 309.20,327.89 309.90,328.31 310.60,328.42 311.30,328.47 312.00,328.42 312.70,328.40 313.40,328.92 314.10,329.22 314.80,329.26 315.50,329.65 316.20,329.15 316.90,329.36 317.60,329.62 318.30,329.75 319.00,329.53 319.70,329.92 320.40,329.65 321.10,329.35 321.80,329.51 322.50,330.16 323.20,330.54 323.90,329.82 324.60,329.77 325.30,330.37 326.00,330.73 326.70,330.35 327.40,330.70 328.10,330.10 328.80,331.20 329.50,330.91 330.20,331.15 330.90,330.75 331.60,330.99 332.30,330.71 333.00,331.36 333.70,331.76 333.70,337.62 333.00,337.01 332.30,336.48 331.60,336.56 330.90,336.64 330.20,337.16 329.50,336.16 328.80,336.43 328.10,336.35 327.40,336.38 326.70,336.51 326.00,336.52 325.30,335.95 324.60,336.39 323.90,335.73 323.20,335.72 322.50,335.78 321.80,335.52 321.10,335.41 320.40,335.27 319.70,335.88 319.00,335.70 318.30,335.31 317.60,335.38 316.90,335.14 316.20,335.10 315.50,335.00 314.80,334.99 314.10,334.52 313.40,334.81 312.70,334.46 312.00,335.36 311.30,334.76 310.60,334.56 309.90,334.88 309.20,334.20 308.50,334.59 307.80,334.78 307.10,334.76 306.40,334.08 305.70,334.08 305.00,333.56 304.30,333.94 303.60,334.37 302.90,333.67 302.20,333.70 301.50,333.44 300.80,334.03 300.10,333.21 299.40,332.81 298.70,333.02 298.00,333.63 297.30,332.91 296.60,333.22 295.90,333.29 295.20,332.90 294.50,333.29 293.80,333.05 293.10,332.88 292.40,332.77 291.70,331.87 291.00,331.94 290.30,332.18 289.60,332.60 288.90,331.52 288.20,332.12 287.50,331.27 286.80,332.24 286.10,331.71 285.40,331.50 284.70,331.67 284.00,330.89 283.30,331.73 282.60,331.75 281.90,330.98 281.20,331.60 280.50,330.45 279.80,330.40 279.10,330.52 278.40,331.18 277.70,330.38 277.00,330.06 276.30,330.21 275.60,330.26 274.90,329.35 274.20,329.74 273.50,329.73 272.80,328.82 272.10,329.05 271.40,329.39 270.70,328.85 270.00,328.35 269.30,328.57 268.60,328.64 267.90,328.52 267.20,328.10 266.50,328.34 265.80,327.39 265.10,327.45 264.40,327.20 263.70,327.05 263.00,327.28 262.30,326.24 261.60,326.12 260.90,326.52 260.20,326.30 259.50,325.43 258.80,326.24 258.10,325.12 257.40,325.52 256.70,325.30 256.00,323.75 255.30,323.78 254.60,323.01 253.90,322.77 253.20,322.36 252.50,322.13 251.80,321.46 251.10,321.05 250.40,320.15 249.70,319.52 249.00,319.95 248.30,319.27 247.60,318.55 246.90,317.81 246.20,316.49 245.50,316.33 244.80,316.21 244.10,315.96 243.40,316.41 242.70,316.18 242.00,315.36 241.30,317.11 240.60,317.20 239.90,318.05 239.20,319.08 238.50,322.45 237.80,326.62 237.10,332.42 236.40,339.13 235.70,340.67 235.00,340.42 234.30,340.40 233.60,340.44 232.90,339.69 232.20,340.50 231.50,340.08 230.80,340.18 230.10,339.78 229.40,339.87 228.70,339.77 228.00,339.76 227.30,340.17 226.60,340.10 225.90,339.69 225.20,339.15" fill="#6fe03a" fill-opacity="1"/>
<path d="M225.20,341.15 L225.30,331.78 L225.40,341.69 L225.50,342.02 L225.60,334.32 L225.70,334.45 L225.80,334.35 L225.90,335.83 L226.00,331.34 L226.10,333.88 L226.20,335.60 L226.30,341.81 L226.40,334.10 L226.50,335.64 L226.60,331.23 L226.70,335.73 L226.80,334.71 L226.90,341.44 L227.00,337.69 L227.10,336.74 L227.20,339.03 L227.30,338.68 L227.40,333.60 L227.50,335.41 L227.60,339.41 L227.70,333.85 L227.80,339.20 L227.90,342.98 L228.00,333.44 L228.10,334.18 L228.20,336.33 L228.30,334.69 L228.40,338.32 L228.50,336.75 L228.60,341.02 L228.70,336.25 L228.80,339.97 L228.90,335.56 L229.00,338.31 L229.10,333.44 L229.20,340.19 L229.30,338.39 L229.40,338.73 L229.50,340.80 L229.60,339.03 L229.70,335.68 L229.80,341.20 L229.90,332.80 L230.00,335.99 L230.10,343.54 L230.20,333.33 L230.30,341.63 L230.40,337.65 L230.50,333.09 L230.60,334.20 L230.70,333.12 L230.80,340.17 L230.90,336.81 L231.00,342.34 L231.10,340.12 L231.20,336.62 L231.30,331.46 L231.40,328.77 L231.50,333.82 L231.60,333.12 L231.70,337.32 L231.80,333.73 L231.90,329.18 L232.00,335.56 L232.10,337.74 L232.20,341.53 L232.30,331.77 L232.40,337.89 L232.50,332.79 L232.60,334.36 L232.70,340.10 L232.80,334.24 L232.90,343.16 L233.00,337.17 L233.10,340.49 L233.20,334.34 L233.30,332.98 L233.40,335.44 L233.50,340.85 L233.60,338.73 L233.70,337.45 L233.80,335.45 L233.90,336.39 L234.00,337.91 L234.10,339.25 L234.20,337.02 L234.30,341.39 L234.40,335.56 L234.50,335.24 L234.60,336.33 L234.70,331.41 L234.80,337.47 L234.90,338.66 L235.00,340.06 L235.10,337.98 L235.20,339.82 L235.30,333.06 L235.40,335.60 L235.50,341.64 L235.60,331.01 L235.70,335.43 L235.80,338.24 L235.90,339.29 L236.00,330.22 L236.10,343.49 L236.20,336.81 L236.30,337.48 L236.40,335.46 L236.50,333.96 L236.60,337.14 L236.70,334.55 L236.80,321.23 L236.90,330.70 L237.00,336.40 L237.10,324.04 L237.20,328.79 L237.30,329.12 L237.40,322.41 L237.50,321.70 L237.60,324.16 L237.70,321.23 L237.80,320.12 L237.90,319.29 L238.00,319.89 L238.10,314.97 L238.20,319.58 L238.30,318.21 L238.40,317.51 L238.50,314.13 L238.60,317.03 L238.70,314.81 L238.80,313.09 L238.90,313.45 L239.00,317.58 L239.10,312.00 L239.20,324.49 L239.30,319.41 L239.40,317.91 L239.50,317.26 L239.60,311.67 L239.70,322.67 L239.80,317.34 L239.90,305.69 L240.00,319.04 L240.10,306.72 L240.20,313.38 L240.30,320.75 L240.40,319.27 L240.50,308.63 L240.60,306.79 L240.70,309.77 L240.80,307.72 L240.90,312.64 L241.00,317.03 L241.10,305.70 L241.20,306.86 L241.30,310.86 L241.40,314.88 L241.50,311.46 L241.60,311.66 L241.70,319.56 L241.80,314.19 L241.90,303.60 L242.00,308.35 L242.10,314.81 L242.20,305.96 L242.30,309.75 L242.40,313.01 L242.50,308.81 L242.60,313.99 L242.70,317.77 L242.80,318.66 L242.90,315.32 L243.00,310.38 L243.10,308.27 L243.20,311.46 L243.30,306.52 L243.40,311.15 L243.50,311.98 L243.60,317.66 L243.70,318.37 L243.80,312.94 L243.90,308.53 L244.00,308.98 L244.10,309.29 L244.20,315.45 L244.30,311.09 L244.40,307.19 L244.50,305.19 L244.60,318.71 L244.70,311.78 L244.80,316.52 L244.90,315.68 L245.00,311.56 L245.10,310.97 L245.20,309.10 L245.30,309.74 L245.40,305.05 L245.50,307.85 L245.60,313.20 L245.70,314.25 L245.80,315.16 L245.90,315.21 L246.00,325.13 L246.10,310.86 L246.20,312.69 L246.30,317.57 L246.40,306.79 L246.50,313.98 L246.60,312.17 L246.70,314.66 L246.80,315.76 L246.90,305.35 L247.00,316.64 L247.10,308.57 L247.20,314.64 L247.30,314.25 L247.40,319.56 L247.50,310.38 L247.60,312.52 L247.70,312.18 L247.80,314.61 L247.90,318.72 L248.00,310.04 L248.10,309.82 L248.20,319.71 L248.30,309.92 L248.40,307.86 L248.50,315.02 L248.60,315.25 L248.70,314.58 L248.80,314.42 L248.90,312.34 L249.00,311.21 L249.10,313.08 L249.20,318.84 L249.30,312.11 L249.40,317.74 L249.50,317.68 L249.60,312.32 L249.70,315.92 L249.80,311.55 L249.90,320.40 L250.00,309.07 L250.10,308.76 L250.20,317.30 L250.30,312.91 L250.40,313.09 L250.50,318.21 L250.60,323.39 L250.70,311.01 L250.80,316.23 L250.90,316.96 L251.00,318.68 L251.10,320.80 L251.20,314.29 L251.30,318.48 L251.40,324.44 L251.50,318.16 L251.60,316.26 L251.70,320.15 L251.80,322.86 L251.90,316.11 L252.00,316.51 L252.10,321.49 L252.20,316.18 L252.30,316.72 L252.40,320.15 L252.50,311.67 L252.60,322.62 L252.70,319.07 L252.80,321.98 L252.90,325.84 L253.00,320.34 L253.10,317.71 L253.20,318.81 L253.30,316.59 L253.40,319.40 L253.50,315.02 L253.60,317.70 L253.70,313.96 L253.80,318.12 L253.90,321.33 L254.00,322.29 L254.10,324.01 L254.20,318.59 L254.30,325.58 L254.40,319.40 L254.50,320.18 L254.60,326.58 L254.70,319.66 L254.80,313.70 L254.90,318.70 L255.00,312.82 L255.10,318.85 L255.20,315.74 L255.30,318.47 L255.40,320.32 L255.50,323.08 L255.60,312.64 L255.70,321.94 L255.80,319.75 L255.90,313.32 L256.00,325.26 L256.10,318.90 L256.20,324.07 L256.30,323.60 L256.40,317.04 L256.50,314.94 L256.60,329.12 L256.70,330.20 L256.80,321.30 L256.90,322.31 L257.00,319.34 L257.10,318.33 L257.20,315.61 L257.30,314.52 L257.40,326.44 L257.50,321.60 L257.60,316.26 L257.70,324.07 L257.80,314.56 L257.90,321.02 L258.00,324.74 L258.10,320.22 L258.20,322.31 L258.30,325.49 L258.40,312.80 L258.50,318.25 L258.60,325.63 L258.70,321.70 L258.80,322.40 L258.90,320.00 L259.00,320.84 L259.10,321.65 L259.20,320.45 L259.30,322.80 L259.40,323.07 L259.50,321.91 L259.60,312.80 L259.70,318.92 L259.80,318.54 L259.90,321.15 L260.00,319.74 L260.10,320.31 L260.20,318.59 L260.30,325.49 L260.40,325.95 L260.50,321.87 L260.60,324.56 L260.70,316.56 L260.80,323.89 L260.90,327.25 L261.00,323.91 L261.10,325.47 L261.20,323.55 L261.30,321.25 L261.40,317.03 L261.50,317.73 L261.60,323.11 L261.70,321.73 L261.80,322.90 L261.90,320.48 L262.00,318.13 L262.10,319.10 L262.20,325.45 L262.30,322.13 L262.40,320.84 L262.50,319.19 L262.60,323.80 L262.70,323.83 L262.80,325.67 L262.90,320.77 L263.00,329.22 L263.10,318.17 L263.20,323.12 L263.30,327.74 L263.40,328.07 L263.50,324.41 L263.60,312.88 L263.70,320.30 L263.80,332.01 L263.90,320.68 L264.00,325.26 L264.10,329.34 L264.20,327.76 L264.30,320.80 L264.40,326.04 L264.50,326.28 L264.60,326.89 L264.70,322.90 L264.80,328.05 L264.90,325.25 L265.00,317.96 L265.10,317.11 L265.20,319.79 L265.30,321.42 L265.40,320.87 L265.50,327.14 L265.60,319.79 L265.70,329.59 L265.80,319.35 L265.90,323.89 L266.00,323.79 L266.10,324.31 L266.20,331.87 L266.30,321.47 L266.40,328.63 L266.50,327.57 L266.60,324.63 L266.70,323.14 L266.80,325.91 L266.90,323.91 L267.00,319.67 L267.10,331.16 L267.20,321.44 L267.30,330.61 L267.40,331.51 L267.50,317.71 L267.60,321.61 L267.70,324.44 L267.80,323.75 L267.90,319.52 L268.00,331.80 L268.10,327.60 L268.20,333.98 L268.30,321.93 L268.40,326.19 L268.50,329.11 L268.60,325.08 L268.70,320.07 L268.80,325.56 L268.90,324.14 L269.00,324.46 L269.10,320.74 L269.20,329.15 L269.30,323.41 L269.40,325.70 L269.50,321.59 L269.60,332.16 L269.70,327.88 L269.80,329.38 L269.90,323.23 L270.00,325.05 L270.10,326.25 L270.20,328.09 L270.30,328.10 L270.40,328.43 L270.50,321.47 L270.60,321.37 L270.70,326.50 L270.80,326.34 L270.90,317.79 L271.00,325.17 L271.10,325.54 L271.20,319.58 L271.30,335.27 L271.40,325.62 L271.50,318.41 L271.60,322.65 L271.70,326.40 L271.80,322.39 L271.90,324.82 L272.00,324.25 L272.10,320.05 L272.20,327.25 L272.30,325.63 L272.40,322.96 L272.50,316.16 L272.60,332.63 L272.70,323.83 L272.80,321.21 L272.90,325.37 L273.00,330.57 L273.10,323.73 L273.20,327.03 L273.30,322.95 L273.40,331.47 L273.50,324.53 L273.60,326.04 L273.70,324.64 L273.80,325.21 L273.90,322.75 L274.00,322.02 L274.10,329.50 L274.20,322.00 L274.30,325.33 L274.40,325.23 L274.50,329.42 L274.60,330.13 L274.70,325.54 L274.80,329.49 L274.90,326.73 L275.00,330.75 L275.10,325.63 L275.20,326.30 L275.30,329.39 L275.40,323.55 L275.50,326.57 L275.60,320.63 L275.70,325.72 L275.80,324.20 L275.90,323.12 L276.00,322.45 L276.10,331.86 L276.20,332.92 L276.30,326.75 L276.40,323.24 L276.50,326.64 L276.60,325.81 L276.70,325.82 L276.80,326.08 L276.90,329.49 L277.00,335.95 L277.10,323.60 L277.20,328.55 L277.30,330.07 L277.40,327.82 L277.50,326.00 L277.60,326.22 L277.70,328.62 L277.80,325.68 L277.90,318.17 L278.00,325.87 L278.10,325.60 L278.20,328.43 L278.30,325.81 L278.40,325.19 L278.50,321.64 L278.60,332.57 L278.70,327.90 L278.80,332.62 L278.90,327.23 L279.00,325.14 L279.10,329.42 L279.20,325.60 L279.30,328.98 L279.40,324.49 L279.50,328.25 L279.60,320.74 L279.70,328.53 L279.80,330.15 L279.90,318.82 L280.00,330.82 L280.10,320.65 L280.20,327.03 L280.30,327.60 L280.40,337.94 L280.50,327.40 L280.60,330.54 L280.70,327.72 L280.80,325.62 L280.90,324.01 L281.00,327.72 L281.10,323.67 L281.20,323.69 L281.30,327.63 L281.40,327.24 L281.50,324.53 L281.60,326.05 L281.70,324.68 L281.80,328.13 L281.90,324.38 L282.00,326.91 L282.10,327.08 L282.20,334.05 L282.30,330.38 L282.40,326.77 L282.50,322.48 L282.60,332.48 L282.70,332.08 L282.80,328.51 L282.90,331.54 L283.00,324.11 L283.10,328.01 L283.20,334.90 L283.30,326.73 L283.40,324.55 L283.50,330.84 L283.60,326.29 L283.70,332.55 L283.80,323.16 L283.90,328.07 L284.00,334.86 L284.10,328.12 L284.20,331.26 L284.30,321.93 L284.40,323.89 L284.50,331.32 L284.60,325.26 L284.70,329.51 L284.80,328.68 L284.90,327.09 L285.00,323.70 L285.10,326.36 L285.20,330.32 L285.30,325.83 L285.40,328.08 L285.50,334.47 L285.60,325.49 L285.70,326.55 L285.80,329.79 L285.90,331.89 L286.00,328.01 L286.10,325.16 L286.20,327.65 L286.30,328.82 L286.40,323.96 L286.50,325.91 L286.60,336.75 L286.70,328.77 L286.80,334.03 L286.90,330.60 L287.00,324.78 L287.10,330.56 L287.20,329.93 L287.30,326.10 L287.40,330.39 L287.50,329.99 L287.60,329.69 L287.70,330.79 L287.80,325.58 L287.90,332.26 L288.00,324.01 L288.10,326.06 L288.20,327.96 L288.30,327.52 L288.40,330.30 L288.50,331.34 L288.60,324.70 L288.70,333.83 L288.80,325.89 L288.90,325.44 L289.00,325.46 L289.10,328.73 L289.20,324.72 L289.30,331.36 L289.40,325.78 L289.50,330.03 L289.60,329.24 L289.70,326.78 L289.80,323.98 L289.90,326.22 L290.00,330.54 L290.10,333.01 L290.20,329.16 L290.30,331.50 L290.40,332.77 L290.50,324.92 L290.60,329.94 L290.70,332.22 L290.80,327.29 L290.90,330.21 L291.00,327.93 L291.10,329.05 L291.20,330.55 L291.30,324.26 L291.40,328.99 L291.50,333.23 L291.60,328.37 L291.70,325.48 L291.80,324.02 L291.90,327.29 L292.00,327.72 L292.10,325.90 L292.20,335.39 L292.30,328.45 L292.40,326.26 L292.50,327.42 L292.60,330.18 L292.70,327.06 L292.80,328.74 L292.90,328.96 L293.00,332.53 L293.10,334.36 L293.20,329.01 L293.30,325.00 L293.40,328.39 L293.50,330.92 L293.60,330.98 L293.70,329.65 L293.80,326.07 L293.90,330.33 L294.00,329.37 L294.10,330.76 L294.20,327.93 L294.30,330.52 L294.40,328.87 L294.50,323.26 L294.60,330.74 L294.70,329.23 L294.80,323.14 L294.90,330.22 L295.00,334.97 L295.10,325.99 L295.20,323.69 L295.30,329.16 L295.40,331.62 L295.50,330.03 L295.60,328.61 L295.70,332.29 L295.80,328.36 L295.90,330.26 L296.00,332.70 L296.10,328.71 L296.20,335.92 L296.30,331.64 L296.40,327.73 L296.50,328.39 L296.60,333.62 L296.70,329.41 L296.80,326.54 L296.90,333.07 L297.00,334.39 L297.10,330.53 L297.20,330.81 L297.30,330.53 L297.40,331.70 L297.50,327.39 L297.60,328.23 L297.70,330.78 L297.80,334.03 L297.90,325.17 L298.00,327.68 L298.10,326.11 L298.20,331.61 L298.30,326.18 L298.40,334.21 L298.50,328.60 L298.60,328.47 L298.70,328.12 L298.80,326.60 L298.90,330.42 L299.00,333.82 L299.10,327.16 L299.20,333.81 L299.30,326.88 L299.40,330.96 L299.50,334.39 L299.60,328.53 L299.70,332.60 L299.80,330.18 L299.90,327.04 L300.00,333.84 L300.10,328.46 L300.20,331.68 L300.30,330.70 L300.40,330.40 L300.50,325.84 L300.60,334.62 L300.70,330.29 L300.80,324.95 L300.90,331.28 L301.00,332.82 L301.10,331.81 L301.20,332.02 L301.30,333.21 L301.40,334.26 L301.50,333.19 L301.60,333.69 L301.70,333.04 L301.80,327.90 L301.90,327.84 L302.00,324.99 L302.10,331.32 L302.20,327.49 L302.30,335.73 L302.40,323.97 L302.50,330.30 L302.60,328.24 L302.70,331.26 L302.80,335.39 L302.90,333.30 L303.00,330.14 L303.10,331.70 L303.20,330.71 L303.30,327.20 L303.40,329.88 L303.50,330.33 L303.60,334.97 L303.70,335.28 L303.80,333.70 L303.90,330.66 L304.00,332.69 L304.10,332.55 L304.20,331.68 L304.30,326.39 L304.40,332.36 L304.50,329.90 L304.60,331.48 L304.70,330.82 L304.80,325.37 L304.90,329.85 L305.00,328.88 L305.10,335.34 L305.20,333.76 L305.30,334.95 L305.40,330.74 L305.50,323.85 L305.60,331.75 L305.70,328.82 L305.80,334.67 L305.90,329.94 L306.00,331.56 L306.10,328.28 L306.20,332.05 L306.30,328.21 L306.40,329.44 L306.50,330.85 L306.60,334.67 L306.70,332.20 L306.80,332.17 L306.90,327.63 L307.00,330.84 L307.10,331.66 L307.20,333.72 L307.30,334.09 L307.40,334.94 L307.50,327.25 L307.60,324.28 L307.70,336.33 L307.80,329.56 L307.90,334.34 L308.00,334.59 L308.10,328.54 L308.20,329.11 L308.30,333.28 L308.40,329.97 L308.50,325.56 L308.60,333.09 L308.70,330.65 L308.80,331.42 L308.90,331.81 L309.00,331.79 L309.10,331.53 L309.20,331.40 L309.30,329.19 L309.40,330.82 L309.50,329.16 L309.60,331.70 L309.70,334.50 L309.80,333.98 L309.90,332.41 L310.00,328.69 L310.10,333.90 L310.20,332.27 L310.30,330.79 L310.40,328.15 L310.50,330.36 L310.60,333.45 L310.70,329.90 L310.80,334.40 L310.90,328.93 L311.00,329.66 L311.10,335.57 L311.20,333.05 L311.30,333.89 L311.40,326.73 L311.50,332.74 L311.60,329.59 L311.70,335.59 L311.80,331.17 L311.90,336.30 L312.00,330.85 L312.10,332.31 L312.20,331.11 L312.30,328.54 L312.40,332.49 L312.50,336.52 L312.60,333.06 L312.70,330.22 L312.80,330.92 L312.90,331.66 L313.00,329.88 L313.10,330.79 L313.20,331.47 L313.30,333.61 L313.40,338.64 L313.50,335.67 L313.60,331.42 L313.70,334.63 L313.80,334.98 L313.90,334.20 L314.00,330.10 L314.10,334.46 L314.20,330.96 L314.30,332.17 L314.40,329.45 L314.50,333.20 L314.60,329.48 L314.70,328.61 L314.80,333.47 L314.90,330.37 L315.00,329.44 L315.10,331.22 L315.20,328.49 L315.30,322.46 L315.40,328.38 L315.50,336.46 L315.60,333.78 L315.70,335.40 L315.80,327.53 L315.90,337.46 L316.00,326.02 L316.10,330.19 L316.20,328.67 L316.30,330.69 L316.40,329.69 L316.50,329.15 L316.60,329.87 L316.70,331.91 L316.80,330.00 L316.90,327.47 L317.00,338.30 L317.10,330.68 L317.20,331.53 L317.30,332.41 L317.40,329.80 L317.50,330.66 L317.60,330.71 L317.70,333.72 L317.80,327.75 L317.90,328.72 L318.00,337.86 L318.10,332.95 L318.20,338.92 L318.30,332.78 L318.40,331.15 L318.50,335.43 L318.60,330.10 L318.70,329.37 L318.80,332.21 L318.90,333.85 L319.00,337.63 L319.10,333.58 L319.20,334.59 L319.30,328.00 L319.40,335.01 L319.50,329.45 L319.60,334.20 L319.70,329.55 L319.80,330.90 L319.90,333.02 L320.00,332.48 L320.10,332.38 L320.20,335.00 L320.30,335.19 L320.40,332.50 L320.50,333.22 L320.60,330.01 L320.70,330.74 L320.80,337.40 L320.90,332.04 L321.00,332.30 L321.10,330.13 L321.20,327.10 L321.30,336.54 L321.40,332.50 L321.50,331.30 L321.60,334.07 L321.70,331.87 L321.80,333.07 L321.90,335.92 L322.00,332.58 L322.10,328.67 L322.20,331.94 L322.30,332.37 L322.40,337.67 L322.50,330.84 L322.60,330.66 L322.70,332.88 L322.80,331.00 L322.90,329.59 L323.00,335.40 L323.10,331.71 L323.20,333.47 L323.30,327.12 L323.40,334.89 L323.50,335.77 L323.60,333.56 L323.70,331.03 L323.80,331.99 L323.90,338.25 L324.00,332.70 L324.10,335.97 L324.20,336.09 L324.30,327.21 L324.40,336.13 L324.50,333.66 L324.60,341.20 L324.70,331.18 L324.80,332.38 L324.90,333.81 L325.00,332.51 L325.10,334.87 L325.20,332.43 L325.30,332.20 L325.40,334.37 L325.50,330.60 L325.60,332.41 L325.70,336.21 L325.80,329.42 L325.90,332.33 L326.00,328.72 L326.10,335.83 L326.20,329.51 L326.30,331.46 L326.40,331.76 L326.50,335.25 L326.60,330.26 L326.70,332.92 L326.80,336.52 L326.90,336.56 L327.00,326.21 L327.10,333.08 L327.20,331.82 L327.30,335.93 L327.40,331.89 L327.50,325.12 L327.60,333.34 L327.70,330.28 L327.80,341.03 L327.90,330.31 L328.00,336.39 L328.10,335.71 L328.20,333.89 L328.30,331.48 L328.40,329.64 L328.50,330.90 L328.60,331.56 L328.70,333.31 L328.80,333.53 L328.90,331.91 L329.00,331.78 L329.10,331.56 L329.20,331.18 L329.30,336.40 L329.40,332.47 L329.50,332.08 L329.60,337.13 L329.70,333.11 L329.80,334.72 L329.90,338.10 L330.00,332.12 L330.10,329.40 L330.20,339.67 L330.30,332.48 L330.40,336.32 L330.50,333.70 L330.60,332.28 L330.70,333.92 L330.80,337.59 L330.90,334.29 L331.00,333.68 L331.10,337.00 L331.20,335.60 L331.30,331.91 L331.40,331.55 L331.50,336.40 L331.60,337.55 L331.70,330.32 L331.80,334.05 L331.90,334.84 L332.00,331.43 L332.10,333.23 L332.20,331.76 L332.30,332.20 L332.40,335.97 L332.50,338.52 L332.60,332.25 L332.70,334.57 L332.80,331.62 L332.90,336.61 L333.00,336.48 L333.10,338.04 L333.20,335.19 L333.30,332.96 L333.40,329.69 L333.50,332.38 L333.60,332.61 L333.70,329.21 L333.80,335.92 L333.90,335.34 L334.00,338.37 L334.10,331.16 L334.20,329.62" fill="none" stroke="#6fe03a" stroke-width="0.55" stroke-opacity="1"/>
<line x1="46.4" y1="423.4" x2="46.4" y2="520.2" stroke="#000" stroke-width="2" stroke-linecap="butt"/>
<line x1="42.4" y1="424.2" x2="46.4" y2="424.2" stroke="#000" stroke-width="2" stroke-linecap="butt"/>
<text x="40.6" y="427.98" font-size="10.5" text-anchor="end" fill="#000" font-weight="bold" >800</text>
<line x1="42.4" y1="451.6" x2="46.4" y2="451.6" stroke="#000" stroke-width="2" stroke-linecap="butt"/>
<text x="40.6" y="455.38" font-size="10.5" text-anchor="end" fill="#000" font-weight="bold" >600</text>
<line x1="42.4" y1="478.9" x2="46.4" y2="478.9" stroke="#000" stroke-width="2" stroke-linecap="butt"/>
<text x="40.6" y="482.68" font-size="10.5" text-anchor="end" fill="#000" font-weight="bold" >400</text>
<line x1="42.4" y1="506.4" x2="46.4" y2="506.4" stroke="#000" stroke-width="2" stroke-linecap="butt"/>
<text x="40.6" y="510.18" font-size="10.5" text-anchor="end" fill="#000" font-weight="bold" >200</text>
<line x1="57.4" y1="436.6" x2="172" y2="436.6" stroke="#000" stroke-width="3" stroke-linecap="butt"/>
<text x="106.6" y="431.9" font-size="10.2" text-anchor="middle" fill="#000" font-weight="bold" >Caffeine, 10 mM</text>
<line x1="56.9" y1="519.8" x2="96.4" y2="519.8" stroke="#000" stroke-width="2.5" stroke-linecap="butt"/>
<text x="76.7" y="531.9" font-size="11" text-anchor="middle" fill="#000" font-weight="bold" >2s</text>
<text transform="translate(14.4,471.9) rotate(-90)" font-size="13.5" text-anchor="middle" fill="#000" font-weight="bold" >[Ca<tspan font-size="9.5" dy="-4.8">2+</tspan><tspan dy="4.8">]</tspan><tspan font-size="9" dy="3">i</tspan><tspan dy="-3"> (nM)</tspan></text>
<polygon points="59.50,491.14 60.20,491.40 60.90,490.94 61.60,491.36 62.30,491.47 63.00,490.95 63.70,491.05 64.40,490.41 65.10,490.88 65.80,490.42 66.50,491.15 67.20,490.67 67.90,490.45 68.60,484.58 69.30,478.25 70.00,469.03 70.70,459.58 71.40,452.55 72.10,450.17 72.80,447.30 73.50,446.47 74.20,445.91 74.90,445.64 75.60,444.95 76.30,445.38 77.00,445.38 77.70,445.21 78.40,444.10 79.10,444.88 79.80,444.68 80.50,445.92 81.20,446.94 81.90,446.94 82.60,448.58 83.30,449.68 84.00,449.60 84.70,451.33 85.40,452.72 86.10,452.76 86.80,454.23 87.50,455.37 88.20,456.34 88.90,457.44 89.60,458.37 90.30,458.15 91.00,459.14 91.70,459.26 92.40,460.05 93.10,460.51 93.80,460.36 94.50,461.86 95.20,461.50 95.90,462.42 96.60,462.79 97.30,463.04 98.00,463.52 98.70,465.13 99.40,465.58 100.10,466.14 100.80,465.84 101.50,467.12 102.20,467.01 102.90,467.74 103.60,468.09 104.30,468.28 105.00,469.65 105.70,470.19 106.40,470.31 107.10,470.04 107.80,471.39 108.50,471.90 109.20,472.22 109.90,471.89 110.60,472.79 111.30,472.50 112.00,472.73 112.70,473.09 113.40,473.59 114.10,474.62 114.80,473.92 115.50,474.93 116.20,475.29 116.90,475.54 117.60,475.97 118.30,476.68 119.00,477.01 119.70,477.55 120.40,477.39 121.10,478.03 121.80,477.71 122.50,478.45 123.20,478.55 123.90,478.96 124.60,478.96 125.30,479.86 126.00,479.73 126.70,480.68 127.40,480.41 128.10,480.72 128.80,480.95 129.50,480.80 130.20,480.96 130.90,480.85 131.60,481.14 132.30,481.49 133.00,481.83 133.70,482.16 134.40,482.21 135.10,482.91 135.80,482.75 136.50,482.55 137.20,482.64 137.90,482.78 138.60,483.62 139.30,484.04 140.00,484.08 140.70,484.48 141.40,483.88 142.10,484.25 142.80,484.58 143.50,484.34 144.20,484.56 144.90,485.66 145.60,485.16 146.30,485.60 147.00,486.08 147.70,485.13 148.40,485.16 149.10,486.02 149.80,485.52 150.50,486.59 151.20,486.12 151.90,485.83 152.60,486.63 153.30,486.61 154.00,486.13 154.70,486.75 155.40,487.26 156.10,487.02 156.80,487.37 157.50,487.86 158.20,487.57 158.90,487.56 159.60,487.90 160.30,488.43 161.00,487.95 161.70,488.44 162.40,487.92 163.10,488.14 163.80,488.25 164.50,488.39 165.20,488.02 165.90,488.84 166.60,488.38 167.30,488.73 168.00,488.75 168.70,489.07 169.40,488.49 170.10,489.62 170.80,489.14 171.50,488.85 172.20,489.69 172.90,488.97 172.90,495.20 172.20,495.26 171.50,495.48 170.80,494.94 170.10,495.39 169.40,495.07 168.70,494.44 168.00,495.01 167.30,495.03 166.60,494.19 165.90,494.30 165.20,494.77 164.50,494.59 163.80,494.13 163.10,494.25 162.40,493.88 161.70,494.25 161.00,494.65 160.30,493.73 159.60,493.97 158.90,493.72 158.20,493.82 157.50,493.54 156.80,493.34 156.10,493.08 155.40,493.37 154.70,493.18 154.00,492.67 153.30,493.19 152.60,492.17 151.90,492.24 151.20,491.96 150.50,492.46 149.80,491.96 149.10,492.60 148.40,491.73 147.70,491.55 147.00,491.56 146.30,492.00 145.60,491.47 144.90,490.90 144.20,491.02 143.50,491.79 142.80,490.71 142.10,491.15 141.40,490.72 140.70,490.68 140.00,490.19 139.30,490.02 138.60,489.43 137.90,489.60 137.20,489.25 136.50,488.97 135.80,488.94 135.10,488.95 134.40,488.79 133.70,488.60 133.00,488.92 132.30,488.00 131.60,487.70 130.90,487.84 130.20,487.26 129.50,487.65 128.80,487.41 128.10,487.28 127.40,486.62 126.70,487.18 126.00,486.55 125.30,486.64 124.60,485.99 123.90,486.11 123.20,484.75 122.50,485.62 121.80,484.66 121.10,484.01 120.40,483.99 119.70,483.62 119.00,483.98 118.30,483.72 117.60,482.50 116.90,482.67 116.20,481.64 115.50,481.33 114.80,481.00 114.10,481.11 113.40,480.62 112.70,480.73 112.00,480.05 111.30,479.55 110.60,479.92 109.90,479.88 109.20,479.01 108.50,478.50 107.80,479.00 107.10,477.68 106.40,477.50 105.70,477.60 105.00,476.45 104.30,475.97 103.60,475.67 102.90,475.74 102.20,475.06 101.50,473.89 100.80,474.06 100.10,473.72 99.40,472.55 98.70,472.50 98.00,471.85 97.30,471.72 96.60,471.28 95.90,470.63 95.20,469.39 94.50,469.67 93.80,468.18 93.10,468.41 92.40,467.53 91.70,466.77 91.00,466.96 90.30,465.85 89.60,465.43 88.90,464.96 88.20,464.70 87.50,463.85 86.80,462.18 86.10,461.27 85.40,459.79 84.70,459.18 84.00,458.09 83.30,456.58 82.60,455.91 81.90,455.40 81.20,454.56 80.50,453.22 79.80,452.33 79.10,453.04 78.40,452.44 77.70,452.35 77.00,452.72 76.30,453.24 75.60,453.06 74.90,453.20 74.20,453.87 73.50,454.19 72.80,454.12 72.10,457.42 71.40,460.15 70.70,467.58 70.00,476.88 69.30,484.99 68.60,492.12 67.90,497.61 67.20,497.10 66.50,497.17 65.80,497.54 65.10,496.92 64.40,497.36 63.70,496.79 63.00,496.51 62.30,497.32 61.60,496.40 60.90,496.43 60.20,496.70 59.50,495.98" fill="#000" fill-opacity="1"/>
<path d="M59.50,495.90 L59.60,494.29 L59.70,491.83 L59.80,495.46 L59.90,494.22 L60.00,495.54 L60.10,494.94 L60.20,498.94 L60.30,494.79 L60.40,496.85 L60.50,494.57 L60.60,496.89 L60.70,490.43 L60.80,492.88 L60.90,496.79 L61.00,498.18 L61.10,495.90 L61.20,489.39 L61.30,494.88 L61.40,494.54 L61.50,499.04 L61.60,491.93 L61.70,495.88 L61.80,499.99 L61.90,492.19 L62.00,490.50 L62.10,494.23 L62.20,497.75 L62.30,491.89 L62.40,493.47 L62.50,492.64 L62.60,498.18 L62.70,497.33 L62.80,489.92 L62.90,493.90 L63.00,492.71 L63.10,493.83 L63.20,491.71 L63.30,496.88 L63.40,497.10 L63.50,490.87 L63.60,494.99 L63.70,496.77 L63.80,494.40 L63.90,496.92 L64.00,494.17 L64.10,498.25 L64.20,491.13 L64.30,492.62 L64.40,493.77 L64.50,489.49 L64.60,495.89 L64.70,490.42 L64.80,500.13 L64.90,495.57 L65.00,493.90 L65.10,492.78 L65.20,493.72 L65.30,491.56 L65.40,495.42 L65.50,490.38 L65.60,495.94 L65.70,498.53 L65.80,488.04 L65.90,488.64 L66.00,490.98 L66.10,492.06 L66.20,495.55 L66.30,489.08 L66.40,491.19 L66.50,493.91 L66.60,498.39 L66.70,492.36 L66.80,498.76 L66.90,495.38 L67.00,497.17 L67.10,495.10 L67.20,493.80 L67.30,489.13 L67.40,494.02 L67.50,498.36 L67.60,491.28 L67.70,493.74 L67.80,491.69 L67.90,497.59 L68.00,496.46 L68.10,490.86 L68.20,489.98 L68.30,491.60 L68.40,487.95 L68.50,491.17 L68.60,487.45 L68.70,485.03 L68.80,477.89 L68.90,488.25 L69.00,489.47 L69.10,482.88 L69.20,483.07 L69.30,483.62 L69.40,483.70 L69.50,482.18 L69.60,476.07 L69.70,481.12 L69.80,475.00 L69.90,475.44 L70.00,473.84 L70.10,470.27 L70.20,467.92 L70.30,472.11 L70.40,464.45 L70.50,470.23 L70.60,463.67 L70.70,463.16 L70.80,464.33 L70.90,464.41 L71.00,454.99 L71.10,458.38 L71.20,457.09 L71.30,457.01 L71.40,453.85 L71.50,457.99 L71.60,457.09 L71.70,448.93 L71.80,453.03 L71.90,454.70 L72.00,460.86 L72.10,453.09 L72.20,457.60 L72.30,456.42 L72.40,454.58 L72.50,456.40 L72.60,454.15 L72.70,448.33 L72.80,451.27 L72.90,448.15 L73.00,447.30 L73.10,450.59 L73.20,449.64 L73.30,451.96 L73.40,444.44 L73.50,447.67 L73.60,456.94 L73.70,447.62 L73.80,451.99 L73.90,445.69 L74.00,448.40 L74.10,445.84 L74.20,454.30 L74.30,441.87 L74.40,455.36 L74.50,449.64 L74.60,448.36 L74.70,449.94 L74.80,449.86 L74.90,451.82 L75.00,452.15 L75.10,449.69 L75.20,448.47 L75.30,452.75 L75.40,445.67 L75.50,452.43 L75.60,446.03 L75.70,452.51 L75.80,450.42 L75.90,447.47 L76.00,451.45 L76.10,450.34 L76.20,448.16 L76.30,452.83 L76.40,456.86 L76.50,451.84 L76.60,446.93 L76.70,448.18 L76.80,445.26 L76.90,444.43 L77.00,444.83 L77.10,449.92 L77.20,439.94 L77.30,448.26 L77.40,446.72 L77.50,452.62 L77.60,445.79 L77.70,441.05 L77.80,449.70 L77.90,447.78 L78.00,455.91 L78.10,450.25 L78.20,444.55 L78.30,450.35 L78.40,443.12 L78.50,448.41 L78.60,447.92 L78.70,447.11 L78.80,454.15 L78.90,450.15 L79.00,448.54 L79.10,450.74 L79.20,448.31 L79.30,444.33 L79.40,451.83 L79.50,450.13 L79.60,443.01 L79.70,453.53 L79.80,453.56 L79.90,446.34 L80.00,448.81 L80.10,447.25 L80.20,449.70 L80.30,448.15 L80.40,451.44 L80.50,449.93 L80.60,448.19 L80.70,455.66 L80.80,448.68 L80.90,446.93 L81.00,449.74 L81.10,447.93 L81.20,448.72 L81.30,452.49 L81.40,452.86 L81.50,452.31 L81.60,451.43 L81.70,451.10 L81.80,451.73 L81.90,453.12 L82.00,454.64 L82.10,450.94 L82.20,458.20 L82.30,455.12 L82.40,456.86 L82.50,457.44 L82.60,453.84 L82.70,455.92 L82.80,456.61 L82.90,452.11 L83.00,452.37 L83.10,448.36 L83.20,447.03 L83.30,454.54 L83.40,456.01 L83.50,449.40 L83.60,453.80 L83.70,450.17 L83.80,457.92 L83.90,458.75 L84.00,453.09 L84.10,452.39 L84.20,457.37 L84.30,454.49 L84.40,453.90 L84.50,459.36 L84.60,453.07 L84.70,455.96 L84.80,452.95 L84.90,458.59 L85.00,454.16 L85.10,455.66 L85.20,454.39 L85.30,455.08 L85.40,456.47 L85.50,456.69 L85.60,456.19 L85.70,458.30 L85.80,454.04 L85.90,451.59 L86.00,454.04 L86.10,462.59 L86.20,456.90 L86.30,455.82 L86.40,452.91 L86.50,458.36 L86.60,461.47 L86.70,459.42 L86.80,454.22 L86.90,454.66 L87.00,463.88 L87.10,457.29 L87.20,458.50 L87.30,464.33 L87.40,459.74 L87.50,456.50 L87.60,462.57 L87.70,462.24 L87.80,457.25 L87.90,456.20 L88.00,464.29 L88.10,457.18 L88.20,456.34 L88.30,455.18 L88.40,461.55 L88.50,461.18 L88.60,459.35 L88.70,462.63 L88.80,461.28 L88.90,459.54 L89.00,461.29 L89.10,458.93 L89.20,462.70 L89.30,464.78 L89.40,465.04 L89.50,462.22 L89.60,463.54 L89.70,471.62 L89.80,466.97 L89.90,456.87 L90.00,458.49 L90.10,460.55 L90.20,464.28 L90.30,461.96 L90.40,456.40 L90.50,464.71 L90.60,454.81 L90.70,458.56 L90.80,458.61 L90.90,456.57 L91.00,468.03 L91.10,458.49 L91.20,460.19 L91.30,459.93 L91.40,470.95 L91.50,462.03 L91.60,463.67 L91.70,469.61 L91.80,464.38 L91.90,466.28 L92.00,461.25 L92.10,462.32 L92.20,462.57 L92.30,461.49 L92.40,463.44 L92.50,463.21 L92.60,468.61 L92.70,461.28 L92.80,462.52 L92.90,465.68 L93.00,463.53 L93.10,465.36 L93.20,464.48 L93.30,465.51 L93.40,463.51 L93.50,474.12 L93.60,464.29 L93.70,460.10 L93.80,468.34 L93.90,458.42 L94.00,467.14 L94.10,466.35 L94.20,464.38 L94.30,469.11 L94.40,465.79 L94.50,462.61 L94.60,467.45 L94.70,460.35 L94.80,465.05 L94.90,465.00 L95.00,468.47 L95.10,472.04 L95.20,468.08 L95.30,466.32 L95.40,466.43 L95.50,467.23 L95.60,466.91 L95.70,462.75 L95.80,468.38 L95.90,465.99 L96.00,462.65 L96.10,473.15 L96.20,466.39 L96.30,471.84 L96.40,465.71 L96.50,460.81 L96.60,468.18 L96.70,472.32 L96.80,467.86 L96.90,464.36 L97.00,465.14 L97.10,465.75 L97.20,462.73 L97.30,469.13 L97.40,466.63 L97.50,468.12 L97.60,469.74 L97.70,463.30 L97.80,468.84 L97.90,461.76 L98.00,469.14 L98.10,469.97 L98.20,465.95 L98.30,469.79 L98.40,467.37 L98.50,475.04 L98.60,466.52 L98.70,467.26 L98.80,468.58 L98.90,468.92 L99.00,472.87 L99.10,463.88 L99.20,470.71 L99.30,466.40 L99.40,466.09 L99.50,468.43 L99.60,467.41 L99.70,462.34 L99.80,466.70 L99.90,468.88 L100.00,469.20 L100.10,471.01 L100.20,472.06 L100.30,472.60 L100.40,465.42 L100.50,475.74 L100.60,468.64 L100.70,473.35 L100.80,466.97 L100.90,467.23 L101.00,469.04 L101.10,471.49 L101.20,477.44 L101.30,475.24 L101.40,466.63 L101.50,471.53 L101.60,467.64 L101.70,472.14 L101.80,474.30 L101.90,470.66 L102.00,468.88 L102.10,471.84 L102.20,470.68 L102.30,476.49 L102.40,470.57 L102.50,472.64 L102.60,470.00 L102.70,467.10 L102.80,474.15 L102.90,466.61 L103.00,472.03 L103.10,472.53 L103.20,471.59 L103.30,474.95 L103.40,476.71 L103.50,466.43 L103.60,474.00 L103.70,474.00 L103.80,468.81 L103.90,470.50 L104.00,472.42 L104.10,477.75 L104.20,474.94 L104.30,475.44 L104.40,472.04 L104.50,470.39 L104.60,469.89 L104.70,474.78 L104.80,476.49 L104.90,476.45 L105.00,470.52 L105.10,470.13 L105.20,469.68 L105.30,472.47 L105.40,476.46 L105.50,472.94 L105.60,471.36 L105.70,472.01 L105.80,469.94 L105.90,476.37 L106.00,477.18 L106.10,478.90 L106.20,471.92 L106.30,475.40 L106.40,473.32 L106.50,470.28 L106.60,473.64 L106.70,465.91 L106.80,478.69 L106.90,470.30 L107.00,467.80 L107.10,478.33 L107.20,475.70 L107.30,476.84 L107.40,473.72 L107.50,474.79 L107.60,478.02 L107.70,475.87 L107.80,480.58 L107.90,472.71 L108.00,478.63 L108.10,476.36 L108.20,478.48 L108.30,478.83 L108.40,477.76 L108.50,477.90 L108.60,476.11 L108.70,474.44 L108.80,472.74 L108.90,476.69 L109.00,478.46 L109.10,476.87 L109.20,478.27 L109.30,469.01 L109.40,478.65 L109.50,473.29 L109.60,480.12 L109.70,474.28 L109.80,478.95 L109.90,480.10 L110.00,478.05 L110.10,479.58 L110.20,479.66 L110.30,475.84 L110.40,474.28 L110.50,469.17 L110.60,477.36 L110.70,477.74 L110.80,476.50 L110.90,480.69 L111.00,474.62 L111.10,477.20 L111.20,480.91 L111.30,476.53 L111.40,479.66 L111.50,473.78 L111.60,474.13 L111.70,477.76 L111.80,477.92 L111.90,478.29 L112.00,475.21 L112.10,475.42 L112.20,471.84 L112.30,476.95 L112.40,477.12 L112.50,477.82 L112.60,476.68 L112.70,478.27 L112.80,471.35 L112.90,478.17 L113.00,478.14 L113.10,483.45 L113.20,480.39 L113.30,476.03 L113.40,481.86 L113.50,472.23 L113.60,478.08 L113.70,477.71 L113.80,483.16 L113.90,472.59 L114.00,477.39 L114.10,479.57 L114.20,480.35 L114.30,476.79 L114.40,479.98 L114.50,471.92 L114.60,471.05 L114.70,477.45 L114.80,479.22 L114.90,481.43 L115.00,479.61 L115.10,473.02 L115.20,477.10 L115.30,475.32 L115.40,484.73 L115.50,472.51 L115.60,472.96 L115.70,476.67 L115.80,478.32 L115.90,483.88 L116.00,479.88 L116.10,479.69 L116.20,478.05 L116.30,479.76 L116.40,476.70 L116.50,479.85 L116.60,480.01 L116.70,476.31 L116.80,479.31 L116.90,481.39 L117.00,480.56 L117.10,478.31 L117.20,480.26 L117.30,481.91 L117.40,477.91 L117.50,478.45 L117.60,478.68 L117.70,483.16 L117.80,478.47 L117.90,485.60 L118.00,478.50 L118.10,481.81 L118.20,475.56 L118.30,473.77 L118.40,484.71 L118.50,480.87 L118.60,477.35 L118.70,476.39 L118.80,482.72 L118.90,478.33 L119.00,483.11 L119.10,476.97 L119.20,482.24 L119.30,479.61 L119.40,482.17 L119.50,482.04 L119.60,477.97 L119.70,486.47 L119.80,477.24 L119.90,484.72 L120.00,482.89 L120.10,481.56 L120.20,475.38 L120.30,482.49 L120.40,480.24 L120.50,481.51 L120.60,487.27 L120.70,479.69 L120.80,481.73 L120.90,479.54 L121.00,485.00 L121.10,483.38 L121.20,485.26 L121.30,482.51 L121.40,488.10 L121.50,484.98 L121.60,482.87 L121.70,485.13 L121.80,482.10 L121.90,482.42 L122.00,481.62 L122.10,481.32 L122.20,479.98 L122.30,481.07 L122.40,479.21 L122.50,478.37 L122.60,478.81 L122.70,475.04 L122.80,480.82 L122.90,483.45 L123.00,482.87 L123.10,483.59 L123.20,473.63 L123.30,481.73 L123.40,482.63 L123.50,483.78 L123.60,478.77 L123.70,482.95 L123.80,484.76 L123.90,481.86 L124.00,477.92 L124.10,478.98 L124.20,483.60 L124.30,483.56 L124.40,479.15 L124.50,484.70 L124.60,480.23 L124.70,481.42 L124.80,484.91 L124.90,482.92 L125.00,481.75 L125.10,480.22 L125.20,483.40 L125.30,492.51 L125.40,479.91 L125.50,482.34 L125.60,477.79 L125.70,485.57 L125.80,481.27 L125.90,483.69 L126.00,482.76 L126.10,483.26 L126.20,484.79 L126.30,483.40 L126.40,482.99 L126.50,484.18 L126.60,486.28 L126.70,485.61 L126.80,483.29 L126.90,482.99 L127.00,486.74 L127.10,480.92 L127.20,484.32 L127.30,488.46 L127.40,484.34 L127.50,483.21 L127.60,478.94 L127.70,482.38 L127.80,484.42 L127.90,483.78 L128.00,482.51 L128.10,484.38 L128.20,485.13 L128.30,482.12 L128.40,480.26 L128.50,481.61 L128.60,481.44 L128.70,490.16 L128.80,480.35 L128.90,477.66 L129.00,486.83 L129.10,483.00 L129.20,479.95 L129.30,480.35 L129.40,485.97 L129.50,482.68 L129.60,482.70 L129.70,482.47 L129.80,478.98 L129.90,488.78 L130.00,484.00 L130.10,483.93 L130.20,485.60 L130.30,484.38 L130.40,488.87 L130.50,488.91 L130.60,484.34 L130.70,486.06 L130.80,485.48 L130.90,487.57 L131.00,485.74 L131.10,486.04 L131.20,483.91 L131.30,486.36 L131.40,481.19 L131.50,488.04 L131.60,484.69 L131.70,482.94 L131.80,486.83 L131.90,483.63 L132.00,486.03 L132.10,489.49 L132.20,480.75 L132.30,488.00 L132.40,484.16 L132.50,483.55 L132.60,481.29 L132.70,487.44 L132.80,484.02 L132.90,485.02 L133.00,483.27 L133.10,484.18 L133.20,479.38 L133.30,484.89 L133.40,482.77 L133.50,486.13 L133.60,483.61 L133.70,484.87 L133.80,488.24 L133.90,484.26 L134.00,482.97 L134.10,485.17 L134.20,483.61 L134.30,483.84 L134.40,486.32 L134.50,485.89 L134.60,483.77 L134.70,484.94 L134.80,483.02 L134.90,487.66 L135.00,485.50 L135.10,485.76 L135.20,492.15 L135.30,485.26 L135.40,485.40 L135.50,490.01 L135.60,488.59 L135.70,488.35 L135.80,486.97 L135.90,487.44 L136.00,490.62 L136.10,481.99 L136.20,481.81 L136.30,484.32 L136.40,481.38 L136.50,482.64 L136.60,480.75 L136.70,484.61 L136.80,485.73 L136.90,487.42 L137.00,488.12 L137.10,485.93 L137.20,487.58 L137.30,489.63 L137.40,485.46 L137.50,485.57 L137.60,483.16 L137.70,486.59 L137.80,481.83 L137.90,488.20 L138.00,486.86 L138.10,486.00 L138.20,489.76 L138.30,485.63 L138.40,491.47 L138.50,489.80 L138.60,487.42 L138.70,484.20 L138.80,484.60 L138.90,486.83 L139.00,483.68 L139.10,486.01 L139.20,488.87 L139.30,487.99 L139.40,485.52 L139.50,486.76 L139.60,492.41 L139.70,484.53 L139.80,486.62 L139.90,486.15 L140.00,488.52 L140.10,487.47 L140.20,491.50 L140.30,485.38 L140.40,490.55 L140.50,487.46 L140.60,490.68 L140.70,485.41 L140.80,486.32 L140.90,486.40 L141.00,483.85 L141.10,486.04 L141.20,489.30 L141.30,487.60 L141.40,491.70 L141.50,489.01 L141.60,488.44 L141.70,485.99 L141.80,488.80 L141.90,486.09 L142.00,488.00 L142.10,489.72 L142.20,491.57 L142.30,487.34 L142.40,484.72 L142.50,485.98 L142.60,490.77 L142.70,487.14 L142.80,486.52 L142.90,490.64 L143.00,489.50 L143.10,489.36 L143.20,490.66 L143.30,490.34 L143.40,487.07 L143.50,491.18 L143.60,491.41 L143.70,489.56 L143.80,482.47 L143.90,485.60 L144.00,483.77 L144.10,487.58 L144.20,485.82 L144.30,490.60 L144.40,486.12 L144.50,486.65 L144.60,485.55 L144.70,489.20 L144.80,484.46 L144.90,484.43 L145.00,484.62 L145.10,487.58 L145.20,490.84 L145.30,488.52 L145.40,491.84 L145.50,486.67 L145.60,488.79 L145.70,487.09 L145.80,484.56 L145.90,489.62 L146.00,489.17 L146.10,489.15 L146.20,489.84 L146.30,497.82 L146.40,487.30 L146.50,489.97 L146.60,492.82 L146.70,487.96 L146.80,494.08 L146.90,487.78 L147.00,481.41 L147.10,486.24 L147.20,492.12 L147.30,488.88 L147.40,489.60 L147.50,494.11 L147.60,487.37 L147.70,482.80 L147.80,488.62 L147.90,490.71 L148.00,486.81 L148.10,493.29 L148.20,487.31 L148.30,488.79 L148.40,488.81 L148.50,487.30 L148.60,490.16 L148.70,489.77 L148.80,486.22 L148.90,495.39 L149.00,489.00 L149.10,487.97 L149.20,488.26 L149.30,490.47 L149.40,491.67 L149.50,488.69 L149.60,489.74 L149.70,491.29 L149.80,489.43 L149.90,488.03 L150.00,495.75 L150.10,490.56 L150.20,489.81 L150.30,490.85 L150.40,494.03 L150.50,489.69 L150.60,488.29 L150.70,488.60 L150.80,488.96 L150.90,490.73 L151.00,493.29 L151.10,490.30 L151.20,489.90 L151.30,490.30 L151.40,494.19 L151.50,486.41 L151.60,488.00 L151.70,487.57 L151.80,486.96 L151.90,490.82 L152.00,489.03 L152.10,484.36 L152.20,490.05 L152.30,492.57 L152.40,493.46 L152.50,487.27 L152.60,487.27 L152.70,489.87 L152.80,485.26 L152.90,488.57 L153.00,483.63 L153.10,491.98 L153.20,491.17 L153.30,489.59 L153.40,489.14 L153.50,490.97 L153.60,492.27 L153.70,494.75 L153.80,486.96 L153.90,488.84 L154.00,489.15 L154.10,496.01 L154.20,486.80 L154.30,489.91 L154.40,482.72 L154.50,485.87 L154.60,496.58 L154.70,491.96 L154.80,488.79 L154.90,488.66 L155.00,491.13 L155.10,492.37 L155.20,493.23 L155.30,489.46 L155.40,492.69 L155.50,493.43 L155.60,489.14 L155.70,491.04 L155.80,490.79 L155.90,489.46 L156.00,486.15 L156.10,489.45 L156.20,492.57 L156.30,493.58 L156.40,484.30 L156.50,491.70 L156.60,485.10 L156.70,488.88 L156.80,491.04 L156.90,489.32 L157.00,491.82 L157.10,490.88 L157.20,491.65 L157.30,489.67 L157.40,488.68 L157.50,487.73 L157.60,491.63 L157.70,498.56 L157.80,490.44 L157.90,499.36 L158.00,491.59 L158.10,495.72 L158.20,493.74 L158.30,487.69 L158.40,492.55 L158.50,487.01 L158.60,492.07 L158.70,491.71 L158.80,489.80 L158.90,488.33 L159.00,491.07 L159.10,493.45 L159.20,492.87 L159.30,487.06 L159.40,489.45 L159.50,493.75 L159.60,493.43 L159.70,486.89 L159.80,491.25 L159.90,495.09 L160.00,493.32 L160.10,489.75 L160.20,490.08 L160.30,493.29 L160.40,490.11 L160.50,487.57 L160.60,493.44 L160.70,488.21 L160.80,491.70 L160.90,490.97 L161.00,491.10 L161.10,488.89 L161.20,494.58 L161.30,491.45 L161.40,488.87 L161.50,488.22 L161.60,491.88 L161.70,491.52 L161.80,499.00 L161.90,488.42 L162.00,488.04 L162.10,490.58 L162.20,489.60 L162.30,491.87 L162.40,493.31 L162.50,485.82 L162.60,489.92 L162.70,490.96 L162.80,489.92 L162.90,488.72 L163.00,493.33 L163.10,489.15 L163.20,489.21 L163.30,492.82 L163.40,493.69 L163.50,494.21 L163.60,491.36 L163.70,488.34 L163.80,487.84 L163.90,490.02 L164.00,488.67 L164.10,494.82 L164.20,493.95 L164.30,493.98 L164.40,493.38 L164.50,487.11 L164.60,490.01 L164.70,496.35 L164.80,491.03 L164.90,491.36 L165.00,492.80 L165.10,487.24 L165.20,493.08 L165.30,491.43 L165.40,494.46 L165.50,488.57 L165.60,491.43 L165.70,490.87 L165.80,488.58 L165.90,492.32 L166.00,496.22 L166.10,493.65 L166.20,490.01 L166.30,491.65 L166.40,491.72 L166.50,490.19 L166.60,490.58 L166.70,490.54 L166.80,495.07 L166.90,493.42 L167.00,488.86 L167.10,485.80 L167.20,492.33 L167.30,492.49 L167.40,491.14 L167.50,486.31 L167.60,494.32 L167.70,492.60 L167.80,492.33 L167.90,490.77 L168.00,491.12 L168.10,490.79 L168.20,491.61 L168.30,494.68 L168.40,490.72 L168.50,491.55 L168.60,489.79 L168.70,490.70 L168.80,488.93 L168.90,491.07 L169.00,492.16 L169.10,494.50 L169.20,499.37 L169.30,495.09 L169.40,492.30 L169.50,492.42 L169.60,486.45 L169.70,489.71 L169.80,491.27 L169.90,495.81 L170.00,492.47 L170.10,494.71 L170.20,490.46 L170.30,491.07 L170.40,492.44 L170.50,492.39 L170.60,489.05 L170.70,492.91 L170.80,490.00 L170.90,490.92 L171.00,488.15 L171.10,493.10 L171.20,493.85 L171.30,492.83 L171.40,495.47 L171.50,497.25 L171.60,494.50 L171.70,493.37 L171.80,495.08 L171.90,490.18 L172.00,493.77 L172.10,490.00 L172.20,492.64 L172.30,491.56 L172.40,491.24 L172.50,489.84 L172.60,491.83 L172.70,492.06 L172.80,490.40 L172.90,491.42 L173.00,489.92 L173.10,493.05 L173.20,493.06" fill="none" stroke="#000" stroke-width="0.55" stroke-opacity="1"/>
<line x1="211.5" y1="426" x2="211.5" y2="522.1" stroke="#000" stroke-width="2" stroke-linecap="butt"/>
<line x1="207.5" y1="426.8" x2="211.5" y2="426.8" stroke="#000" stroke-width="2" stroke-linecap="butt"/>
<text x="205.7" y="430.58" font-size="10.5" text-anchor="end" fill="#000" font-weight="bold" >800</text>
<line x1="207.5" y1="454.1" x2="211.5" y2="454.1" stroke="#000" stroke-width="2" stroke-linecap="butt"/>
<text x="205.7" y="457.88" font-size="10.5" text-anchor="end" fill="#000" font-weight="bold" >600</text>
<line x1="207.5" y1="481.2" x2="211.5" y2="481.2" stroke="#000" stroke-width="2" stroke-linecap="butt"/>
<text x="205.7" y="484.98" font-size="10.5" text-anchor="end" fill="#000" font-weight="bold" >400</text>
<line x1="207.5" y1="508.5" x2="211.5" y2="508.5" stroke="#000" stroke-width="2" stroke-linecap="butt"/>
<text x="205.7" y="512.28" font-size="10.5" text-anchor="end" fill="#000" font-weight="bold" >200</text>
<line x1="224.7" y1="436.5" x2="334.3" y2="436.5" stroke="#000" stroke-width="3" stroke-linecap="butt"/>
<text x="274.3" y="431.5" font-size="10.2" text-anchor="middle" fill="#000" font-weight="bold" >Caffeine, 10 mM</text>
<line x1="223.4" y1="520.9" x2="262.4" y2="520.9" stroke="#000" stroke-width="2.5" stroke-linecap="butt"/>
<text x="242" y="531.7" font-size="11" text-anchor="middle" fill="#000" font-weight="bold" >2s</text>
<polygon points="224.40,506.76 225.10,506.00 225.80,505.38 226.50,503.16 227.20,500.83 227.90,499.65 228.60,496.93 229.30,494.62 230.00,492.32 230.70,491.21 231.40,489.21 232.10,487.23 232.80,485.29 233.50,483.96 234.20,483.35 234.90,482.04 235.60,482.24 236.30,481.43 237.00,480.63 237.70,480.90 238.40,480.65 239.10,481.19 239.80,481.59 240.50,480.58 241.20,481.03 241.90,480.97 242.60,480.78 243.30,481.83 244.00,481.86 244.70,481.67 245.40,482.64 246.10,482.17 246.80,483.68 247.50,483.69 248.20,484.29 248.90,484.98 249.60,485.34 250.30,486.16 251.00,486.57 251.70,486.42 252.40,486.94 253.10,488.42 253.80,488.16 254.50,488.87 255.20,488.94 255.90,489.29 256.60,489.77 257.30,489.91 258.00,491.13 258.70,490.68 259.40,491.78 260.10,491.41 260.80,491.66 261.50,492.66 262.20,492.20 262.90,492.68 263.60,493.87 264.30,493.18 265.00,493.70 265.70,494.90 266.40,495.06 267.10,495.46 267.80,495.66 268.50,495.97 269.20,496.65 269.90,496.35 270.60,496.84 271.30,496.48 272.00,497.12 272.70,498.24 273.40,498.28 274.10,497.78 274.80,498.53 275.50,498.56 276.20,498.69 276.90,498.72 277.60,499.45 278.30,500.10 279.00,500.09 279.70,500.57 280.40,499.70 281.10,500.35 281.80,500.93 282.50,501.15 283.20,500.98 283.90,501.60 284.60,501.11 285.30,501.80 286.00,502.14 286.70,502.09 287.40,502.85 288.10,502.91 288.80,503.16 289.50,502.94 290.20,503.28 290.90,503.31 291.60,503.85 292.30,504.28 293.00,504.39 293.70,503.90 294.40,504.72 295.10,504.11 295.80,504.87 296.50,505.13 297.20,505.15 297.90,504.32 298.60,504.53 299.30,504.64 300.00,504.65 300.70,505.72 301.40,505.42 302.10,504.94 302.80,505.68 303.50,506.21 304.20,505.38 304.90,506.06 305.60,505.73 306.30,506.44 307.00,505.92 307.70,506.50 308.40,506.34 309.10,506.72 309.80,506.95 310.50,506.86 311.20,506.82 311.90,506.39 312.60,506.75 313.30,507.07 314.00,507.36 314.70,506.90 315.40,506.69 316.10,507.70 316.80,507.25 317.50,507.77 318.20,507.04 318.90,507.67 319.60,507.32 320.30,507.88 321.00,508.35 321.70,508.09 322.40,507.68 323.10,508.40 323.80,507.83 324.50,508.18 325.20,508.41 325.90,508.11 326.60,508.34 327.30,508.32 328.00,508.11 328.70,508.44 329.40,508.18 330.10,508.82 330.80,509.15 331.50,508.68 332.20,509.10 332.90,508.87 333.60,508.30 334.30,508.62 335.00,508.63 335.00,513.74 334.30,514.40 333.60,513.41 332.90,513.75 332.20,513.65 331.50,514.18 330.80,513.17 330.10,513.67 329.40,513.30 328.70,513.91 328.00,513.42 327.30,513.55 326.60,513.67 325.90,513.99 325.20,513.62 324.50,513.86 323.80,513.70 323.10,513.27 322.40,512.95 321.70,512.79 321.00,513.20 320.30,513.27 319.60,513.24 318.90,513.02 318.20,512.63 317.50,513.11 316.80,512.21 316.10,512.83 315.40,512.28 314.70,512.53 314.00,511.83 313.30,511.84 312.60,512.16 311.90,511.94 311.20,512.30 310.50,512.60 309.80,512.26 309.10,511.47 308.40,512.27 307.70,511.49 307.00,511.06 306.30,511.77 305.60,510.85 304.90,511.47 304.20,511.76 303.50,511.46 302.80,510.43 302.10,511.17 301.40,511.21 300.70,510.38 300.00,510.34 299.30,510.26 298.60,509.92 297.90,509.95 297.20,510.14 296.50,510.48 295.80,510.50 295.10,509.62 294.40,509.32 293.70,509.06 293.00,509.71 292.30,508.89 291.60,509.71 290.90,508.93 290.20,508.71 289.50,508.51 288.80,509.23 288.10,509.05 287.40,507.75 286.70,508.38 286.00,507.76 285.30,507.20 284.60,507.10 283.90,507.40 283.20,506.76 282.50,507.15 281.80,506.67 281.10,506.93 280.40,506.59 279.70,505.91 279.00,505.79 278.30,505.20 277.60,505.13 276.90,505.30 276.20,504.99 275.50,505.26 274.80,505.14 274.10,504.35 273.40,504.61 272.70,504.41 272.00,504.21 271.30,503.34 270.60,503.51 269.90,503.32 269.20,503.12 268.50,502.42 267.80,501.60 267.10,501.75 266.40,501.93 265.70,501.64 265.00,501.47 264.30,500.87 263.60,500.17 262.90,500.65 262.20,499.28 261.50,499.64 260.80,499.21 260.10,499.41 259.40,498.84 258.70,497.83 258.00,497.46 257.30,497.74 256.60,497.63 255.90,497.20 255.20,497.23 254.50,496.49 253.80,495.63 253.10,496.07 252.40,494.74 251.70,494.44 251.00,493.70 250.30,493.29 249.60,493.37 248.90,492.79 248.20,491.89 247.50,491.90 246.80,490.44 246.10,490.29 245.40,489.93 244.70,489.55 244.00,489.72 243.30,489.10 242.60,488.80 241.90,488.22 241.20,488.47 240.50,488.52 239.80,488.90 239.10,488.85 238.40,488.44 237.70,488.87 237.00,488.28 236.30,488.73 235.60,488.69 234.90,490.05 234.20,490.05 233.50,490.92 232.80,492.36 232.10,493.13 231.40,495.69 230.70,497.01 230.00,499.17 229.30,500.21 228.60,503.00 227.90,504.40 227.20,506.84 226.50,508.28 225.80,510.41 225.10,511.02 224.40,511.43" fill="#6fe03a" fill-opacity="1"/>
<path d="M224.40,511.55 L224.50,508.08 L224.60,506.41 L224.70,511.86 L224.80,508.88 L224.90,509.09 L225.00,510.48 L225.10,509.28 L225.20,508.98 L225.30,511.09 L225.40,510.42 L225.50,507.80 L225.60,508.50 L225.70,507.23 L225.80,506.31 L225.90,506.20 L226.00,505.92 L226.10,508.52 L226.20,506.28 L226.30,506.15 L226.40,506.36 L226.50,507.10 L226.60,509.33 L226.70,505.96 L226.80,503.45 L226.90,506.89 L227.00,503.15 L227.10,501.80 L227.20,503.54 L227.30,502.01 L227.40,502.47 L227.50,505.82 L227.60,502.18 L227.70,500.15 L227.80,500.79 L227.90,505.39 L228.00,503.24 L228.10,503.29 L228.20,500.26 L228.30,501.63 L228.40,496.85 L228.50,500.86 L228.60,496.73 L228.70,496.05 L228.80,495.95 L228.90,499.63 L229.00,499.58 L229.10,501.59 L229.20,498.61 L229.30,497.08 L229.40,500.28 L229.50,497.14 L229.60,497.76 L229.70,499.87 L229.80,494.33 L229.90,496.49 L230.00,498.38 L230.10,496.74 L230.20,494.21 L230.30,491.08 L230.40,498.09 L230.50,492.09 L230.60,496.91 L230.70,492.82 L230.80,493.83 L230.90,491.94 L231.00,496.94 L231.10,492.64 L231.20,493.73 L231.30,493.21 L231.40,494.97 L231.50,490.92 L231.60,488.88 L231.70,492.91 L231.80,492.75 L231.90,489.32 L232.00,489.45 L232.10,490.77 L232.20,492.68 L232.30,490.84 L232.40,494.68 L232.50,487.36 L232.60,488.20 L232.70,492.20 L232.80,488.80 L232.90,484.95 L233.00,489.39 L233.10,486.53 L233.20,486.65 L233.30,493.45 L233.40,485.18 L233.50,486.87 L233.60,487.79 L233.70,494.75 L233.80,488.12 L233.90,488.66 L234.00,486.48 L234.10,485.87 L234.20,489.26 L234.30,485.91 L234.40,487.07 L234.50,485.50 L234.60,486.85 L234.70,484.69 L234.80,488.40 L234.90,487.79 L235.00,486.49 L235.10,486.37 L235.20,483.89 L235.30,484.69 L235.40,483.61 L235.50,480.54 L235.60,486.44 L235.70,482.68 L235.80,481.72 L235.90,487.31 L236.00,487.70 L236.10,483.35 L236.20,482.10 L236.30,483.99 L236.40,488.77 L236.50,490.27 L236.60,484.75 L236.70,490.81 L236.80,481.28 L236.90,485.67 L237.00,486.02 L237.10,488.27 L237.20,486.02 L237.30,489.73 L237.40,486.36 L237.50,480.65 L237.60,487.84 L237.70,487.12 L237.80,484.83 L237.90,481.93 L238.00,483.75 L238.10,490.60 L238.20,484.57 L238.30,484.06 L238.40,483.51 L238.50,486.76 L238.60,484.58 L238.70,481.74 L238.80,481.92 L238.90,479.63 L239.00,486.48 L239.10,480.61 L239.20,484.39 L239.30,490.32 L239.40,486.38 L239.50,485.42 L239.60,482.76 L239.70,488.53 L239.80,483.37 L239.90,486.76 L240.00,488.18 L240.10,490.63 L240.20,487.59 L240.30,485.24 L240.40,489.61 L240.50,483.59 L240.60,486.76 L240.70,482.22 L240.80,483.98 L240.90,484.11 L241.00,492.32 L241.10,483.31 L241.20,478.01 L241.30,479.70 L241.40,493.43 L241.50,488.57 L241.60,484.72 L241.70,481.85 L241.80,486.27 L241.90,480.12 L242.00,483.31 L242.10,484.43 L242.20,488.25 L242.30,481.27 L242.40,487.08 L242.50,492.43 L242.60,489.45 L242.70,486.39 L242.80,482.77 L242.90,488.03 L243.00,487.77 L243.10,492.44 L243.20,484.62 L243.30,483.84 L243.40,482.83 L243.50,487.14 L243.60,490.18 L243.70,486.68 L243.80,477.20 L243.90,484.82 L244.00,485.61 L244.10,488.79 L244.20,483.61 L244.30,485.15 L244.40,485.95 L244.50,487.81 L244.60,486.13 L244.70,485.74 L244.80,486.05 L244.90,490.45 L245.00,491.36 L245.10,487.65 L245.20,482.37 L245.30,484.13 L245.40,483.68 L245.50,491.09 L245.60,488.95 L245.70,485.55 L245.80,486.24 L245.90,489.05 L246.00,485.78 L246.10,486.86 L246.20,486.37 L246.30,486.60 L246.40,483.71 L246.50,489.26 L246.60,489.36 L246.70,482.90 L246.80,486.46 L246.90,483.73 L247.00,486.74 L247.10,487.58 L247.20,487.72 L247.30,486.89 L247.40,485.76 L247.50,490.44 L247.60,486.13 L247.70,489.89 L247.80,488.37 L247.90,491.93 L248.00,483.73 L248.10,494.34 L248.20,486.48 L248.30,490.82 L248.40,491.67 L248.50,491.41 L248.60,490.08 L248.70,484.07 L248.80,489.33 L248.90,486.95 L249.00,489.67 L249.10,489.33 L249.20,490.81 L249.30,491.98 L249.40,491.21 L249.50,493.60 L249.60,491.41 L249.70,493.51 L249.80,493.55 L249.90,487.85 L250.00,489.30 L250.10,487.52 L250.20,492.90 L250.30,490.53 L250.40,480.14 L250.50,492.18 L250.60,489.52 L250.70,492.70 L250.80,488.56 L250.90,489.98 L251.00,490.35 L251.10,493.58 L251.20,489.58 L251.30,489.89 L251.40,490.07 L251.50,490.90 L251.60,490.70 L251.70,491.49 L251.80,484.47 L251.90,491.14 L252.00,492.99 L252.10,493.28 L252.20,497.81 L252.30,491.54 L252.40,493.77 L252.50,492.57 L252.60,483.78 L252.70,485.80 L252.80,496.85 L252.90,493.28 L253.00,488.60 L253.10,485.45 L253.20,484.19 L253.30,485.58 L253.40,492.52 L253.50,492.85 L253.60,491.11 L253.70,493.06 L253.80,490.45 L253.90,490.28 L254.00,495.27 L254.10,495.33 L254.20,488.65 L254.30,487.75 L254.40,496.83 L254.50,492.88 L254.60,495.24 L254.70,492.99 L254.80,496.22 L254.90,494.27 L255.00,500.47 L255.10,489.71 L255.20,500.17 L255.30,498.34 L255.40,490.55 L255.50,493.86 L255.60,500.78 L255.70,490.94 L255.80,496.97 L255.90,494.46 L256.00,492.36 L256.10,487.30 L256.20,494.74 L256.30,499.27 L256.40,488.77 L256.50,492.93 L256.60,487.51 L256.70,495.85 L256.80,495.10 L256.90,494.56 L257.00,497.90 L257.10,491.79 L257.20,495.64 L257.30,490.90 L257.40,497.85 L257.50,495.23 L257.60,496.82 L257.70,493.16 L257.80,496.95 L257.90,499.18 L258.00,490.84 L258.10,499.88 L258.20,497.82 L258.30,497.12 L258.40,492.86 L258.50,490.37 L258.60,497.74 L258.70,496.55 L258.80,495.78 L258.90,497.30 L259.00,493.88 L259.10,488.16 L259.20,495.67 L259.30,488.56 L259.40,496.79 L259.50,497.93 L259.60,498.85 L259.70,495.41 L259.80,497.97 L259.90,494.88 L260.00,497.00 L260.10,503.60 L260.20,494.07 L260.30,492.53 L260.40,496.88 L260.50,493.33 L260.60,495.17 L260.70,496.70 L260.80,498.73 L260.90,500.50 L261.00,495.43 L261.10,494.62 L261.20,492.78 L261.30,497.09 L261.40,499.01 L261.50,499.92 L261.60,495.17 L261.70,493.75 L261.80,492.73 L261.90,490.73 L262.00,491.92 L262.10,495.11 L262.20,500.08 L262.30,497.94 L262.40,488.74 L262.50,492.36 L262.60,496.96 L262.70,498.85 L262.80,499.01 L262.90,493.17 L263.00,499.82 L263.10,501.19 L263.20,498.88 L263.30,494.73 L263.40,492.23 L263.50,497.88 L263.60,496.33 L263.70,494.75 L263.80,496.53 L263.90,496.59 L264.00,498.01 L264.10,498.71 L264.20,497.69 L264.30,491.52 L264.40,497.35 L264.50,499.78 L264.60,497.02 L264.70,494.78 L264.80,495.47 L264.90,503.33 L265.00,496.28 L265.10,494.17 L265.20,497.91 L265.30,494.81 L265.40,495.81 L265.50,499.58 L265.60,501.55 L265.70,501.24 L265.80,499.13 L265.90,503.15 L266.00,498.58 L266.10,497.26 L266.20,499.49 L266.30,499.39 L266.40,495.13 L266.50,498.59 L266.60,500.48 L266.70,498.63 L266.80,500.00 L266.90,495.37 L267.00,496.40 L267.10,492.94 L267.20,499.55 L267.30,504.83 L267.40,499.09 L267.50,500.68 L267.60,495.64 L267.70,497.62 L267.80,500.80 L267.90,496.19 L268.00,499.42 L268.10,501.57 L268.20,497.63 L268.30,503.28 L268.40,497.29 L268.50,503.88 L268.60,497.28 L268.70,496.62 L268.80,495.77 L268.90,497.21 L269.00,499.94 L269.10,498.93 L269.20,499.55 L269.30,499.08 L269.40,501.62 L269.50,498.91 L269.60,496.70 L269.70,501.35 L269.80,495.49 L269.90,498.91 L270.00,500.90 L270.10,502.10 L270.20,498.69 L270.30,500.97 L270.40,502.40 L270.50,495.92 L270.60,499.60 L270.70,497.97 L270.80,498.12 L270.90,501.95 L271.00,497.22 L271.10,498.36 L271.20,494.86 L271.30,502.77 L271.40,498.30 L271.50,503.38 L271.60,505.05 L271.70,498.81 L271.80,499.36 L271.90,500.61 L272.00,502.34 L272.10,499.96 L272.20,500.39 L272.30,498.00 L272.40,506.39 L272.50,502.89 L272.60,502.22 L272.70,499.74 L272.80,497.02 L272.90,503.03 L273.00,501.62 L273.10,503.50 L273.20,502.78 L273.30,500.43 L273.40,502.32 L273.50,502.98 L273.60,506.74 L273.70,500.14 L273.80,504.40 L273.90,504.10 L274.00,501.21 L274.10,498.37 L274.20,505.69 L274.30,497.80 L274.40,498.88 L274.50,501.24 L274.60,500.03 L274.70,504.71 L274.80,498.08 L274.90,497.88 L275.00,500.66 L275.10,496.33 L275.20,494.43 L275.30,502.16 L275.40,499.78 L275.50,504.01 L275.60,505.59 L275.70,499.13 L275.80,505.64 L275.90,499.96 L276.00,497.56 L276.10,498.28 L276.20,501.56 L276.30,498.00 L276.40,502.95 L276.50,499.35 L276.60,501.42 L276.70,505.38 L276.80,505.00 L276.90,500.91 L277.00,502.62 L277.10,500.98 L277.20,502.84 L277.30,499.03 L277.40,503.65 L277.50,503.90 L277.60,500.41 L277.70,500.72 L277.80,500.81 L277.90,505.01 L278.00,497.03 L278.10,499.80 L278.20,504.21 L278.30,501.57 L278.40,502.02 L278.50,505.30 L278.60,502.72 L278.70,499.32 L278.80,498.26 L278.90,498.31 L279.00,509.32 L279.10,506.55 L279.20,503.70 L279.30,501.71 L279.40,503.59 L279.50,505.11 L279.60,501.60 L279.70,503.28 L279.80,500.73 L279.90,502.52 L280.00,504.25 L280.10,502.69 L280.20,501.92 L280.30,502.60 L280.40,502.47 L280.50,498.30 L280.60,499.23 L280.70,504.51 L280.80,503.52 L280.90,503.95 L281.00,502.65 L281.10,499.63 L281.20,508.06 L281.30,502.24 L281.40,502.75 L281.50,503.69 L281.60,505.79 L281.70,500.97 L281.80,501.98 L281.90,507.00 L282.00,504.35 L282.10,498.70 L282.20,507.14 L282.30,506.91 L282.40,504.77 L282.50,504.00 L282.60,503.17 L282.70,504.36 L282.80,501.24 L282.90,504.05 L283.00,503.06 L283.10,502.96 L283.20,504.75 L283.30,503.13 L283.40,503.95 L283.50,503.37 L283.60,507.42 L283.70,506.72 L283.80,499.11 L283.90,509.90 L284.00,504.20 L284.10,505.95 L284.20,505.37 L284.30,505.62 L284.40,503.18 L284.50,501.33 L284.60,504.56 L284.70,508.37 L284.80,505.48 L284.90,505.06 L285.00,509.06 L285.10,505.33 L285.20,500.64 L285.30,505.32 L285.40,504.87 L285.50,503.91 L285.60,503.98 L285.70,504.27 L285.80,503.33 L285.90,500.27 L286.00,504.50 L286.10,504.84 L286.20,505.70 L286.30,504.35 L286.40,504.60 L286.50,504.95 L286.60,497.98 L286.70,506.14 L286.80,504.05 L286.90,507.69 L287.00,504.08 L287.10,502.14 L287.20,502.99 L287.30,508.29 L287.40,507.13 L287.50,504.55 L287.60,507.37 L287.70,506.45 L287.80,506.91 L287.90,505.15 L288.00,504.01 L288.10,503.58 L288.20,509.38 L288.30,508.61 L288.40,503.72 L288.50,504.68 L288.60,506.08 L288.70,501.06 L288.80,506.75 L288.90,506.83 L289.00,508.82 L289.10,507.70 L289.20,506.85 L289.30,504.47 L289.40,502.36 L289.50,506.16 L289.60,501.90 L289.70,502.22 L289.80,504.15 L289.90,509.33 L290.00,506.41 L290.10,506.67 L290.20,507.33 L290.30,509.97 L290.40,505.33 L290.50,503.84 L290.60,502.97 L290.70,506.23 L290.80,507.92 L290.90,508.72 L291.00,505.50 L291.10,505.74 L291.20,508.62 L291.30,503.31 L291.40,506.75 L291.50,505.79 L291.60,506.90 L291.70,505.16 L291.80,505.53 L291.90,506.75 L292.00,506.82 L292.10,508.53 L292.20,505.90 L292.30,506.28 L292.40,506.28 L292.50,503.95 L292.60,507.88 L292.70,509.07 L292.80,507.10 L292.90,511.19 L293.00,507.32 L293.10,506.24 L293.20,506.52 L293.30,507.09 L293.40,510.11 L293.50,505.17 L293.60,509.05 L293.70,506.59 L293.80,503.12 L293.90,507.81 L294.00,508.09 L294.10,508.82 L294.20,507.71 L294.30,508.30 L294.40,511.09 L294.50,506.96 L294.60,502.71 L294.70,509.20 L294.80,505.05 L294.90,506.80 L295.00,506.37 L295.10,508.35 L295.20,510.07 L295.30,509.57 L295.40,510.42 L295.50,507.06 L295.60,507.09 L295.70,507.27 L295.80,508.46 L295.90,505.92 L296.00,505.20 L296.10,510.53 L296.20,507.95 L296.30,508.41 L296.40,508.24 L296.50,508.21 L296.60,508.28 L296.70,507.74 L296.80,507.80 L296.90,506.13 L297.00,505.76 L297.10,502.83 L297.20,510.07 L297.30,505.37 L297.40,507.75 L297.50,508.27 L297.60,504.59 L297.70,504.58 L297.80,507.55 L297.90,505.90 L298.00,507.37 L298.10,505.58 L298.20,507.63 L298.30,509.58 L298.40,511.96 L298.50,503.84 L298.60,507.21 L298.70,507.28 L298.80,507.73 L298.90,508.40 L299.00,509.79 L299.10,507.14 L299.20,506.98 L299.30,506.56 L299.40,503.86 L299.50,505.60 L299.60,507.63 L299.70,505.22 L299.80,508.95 L299.90,505.47 L300.00,506.49 L300.10,509.32 L300.20,511.55 L300.30,503.88 L300.40,505.74 L300.50,506.10 L300.60,510.05 L300.70,510.85 L300.80,504.16 L300.90,510.04 L301.00,507.33 L301.10,506.81 L301.20,508.99 L301.30,510.04 L301.40,509.24 L301.50,505.91 L301.60,508.78 L301.70,508.22 L301.80,506.58 L301.90,507.14 L302.00,509.46 L302.10,508.04 L302.20,508.35 L302.30,509.23 L302.40,510.64 L302.50,510.66 L302.60,510.68 L302.70,510.11 L302.80,507.12 L302.90,509.57 L303.00,506.76 L303.10,510.03 L303.20,505.06 L303.30,510.43 L303.40,508.25 L303.50,513.16 L303.60,507.35 L303.70,510.41 L303.80,504.51 L303.90,507.86 L304.00,504.38 L304.10,509.96 L304.20,507.17 L304.30,510.36 L304.40,512.69 L304.50,508.17 L304.60,509.32 L304.70,509.46 L304.80,506.41 L304.90,510.33 L305.00,507.94 L305.10,506.10 L305.20,509.04 L305.30,509.26 L305.40,506.81 L305.50,508.49 L305.60,505.14 L305.70,507.21 L305.80,511.01 L305.90,508.03 L306.00,506.38 L306.10,510.86 L306.20,507.75 L306.30,509.36 L306.40,510.74 L306.50,505.56 L306.60,507.37 L306.70,505.87 L306.80,508.40 L306.90,507.91 L307.00,510.58 L307.10,506.33 L307.20,509.95 L307.30,503.07 L307.40,505.60 L307.50,506.91 L307.60,507.85 L307.70,509.94 L307.80,508.98 L307.90,508.01 L308.00,510.69 L308.10,507.09 L308.20,508.05 L308.30,508.13 L308.40,508.97 L308.50,511.88 L308.60,509.24 L308.70,508.90 L308.80,509.87 L308.90,507.14 L309.00,506.51 L309.10,508.64 L309.20,509.06 L309.30,508.23 L309.40,508.47 L309.50,506.98 L309.60,504.49 L309.70,506.87 L309.80,506.51 L309.90,508.28 L310.00,507.80 L310.10,503.78 L310.20,507.34 L310.30,505.46 L310.40,512.04 L310.50,510.17 L310.60,510.87 L310.70,511.42 L310.80,512.83 L310.90,507.09 L311.00,512.81 L311.10,510.88 L311.20,511.20 L311.30,509.74 L311.40,506.79 L311.50,508.93 L311.60,509.17 L311.70,507.15 L311.80,510.21 L311.90,510.93 L312.00,508.89 L312.10,509.53 L312.20,507.69 L312.30,512.49 L312.40,512.52 L312.50,510.65 L312.60,507.21 L312.70,508.82 L312.80,508.12 L312.90,512.37 L313.00,511.53 L313.10,508.11 L313.20,511.08 L313.30,509.98 L313.40,509.65 L313.50,510.15 L313.60,508.27 L313.70,509.08 L313.80,506.39 L313.90,513.57 L314.00,511.12 L314.10,510.43 L314.20,513.58 L314.30,511.83 L314.40,508.81 L314.50,508.73 L314.60,510.88 L314.70,511.33 L314.80,511.99 L314.90,512.53 L315.00,508.28 L315.10,505.66 L315.20,512.25 L315.30,511.82 L315.40,508.84 L315.50,509.60 L315.60,508.82 L315.70,513.31 L315.80,506.76 L315.90,511.95 L316.00,511.64 L316.10,516.43 L316.20,510.02 L316.30,513.39 L316.40,509.27 L316.50,510.76 L316.60,510.07 L316.70,509.42 L316.80,511.14 L316.90,508.38 L317.00,509.42 L317.10,510.42 L317.20,513.08 L317.30,508.71 L317.40,511.22 L317.50,507.98 L317.60,507.57 L317.70,509.07 L317.80,509.87 L317.90,512.59 L318.00,515.01 L318.10,514.22 L318.20,510.95 L318.30,509.02 L318.40,511.80 L318.50,507.06 L318.60,510.80 L318.70,509.35 L318.80,507.59 L318.90,507.49 L319.00,508.40 L319.10,509.25 L319.20,510.98 L319.30,512.47 L319.40,507.98 L319.50,509.92 L319.60,512.82 L319.70,510.38 L319.80,513.92 L319.90,512.49 L320.00,511.80 L320.10,510.87 L320.20,508.26 L320.30,504.69 L320.40,508.15 L320.50,509.92 L320.60,510.95 L320.70,509.48 L320.80,507.36 L320.90,508.42 L321.00,510.62 L321.10,511.59 L321.20,508.34 L321.30,507.55 L321.40,509.37 L321.50,510.16 L321.60,513.18 L321.70,506.68 L321.80,513.64 L321.90,512.36 L322.00,509.12 L322.10,509.94 L322.20,512.03 L322.30,508.12 L322.40,510.55 L322.50,510.17 L322.60,512.38 L322.70,509.62 L322.80,511.08 L322.90,509.88 L323.00,511.93 L323.10,512.38 L323.20,509.04 L323.30,513.40 L323.40,509.78 L323.50,517.66 L323.60,510.68 L323.70,506.39 L323.80,512.69 L323.90,509.42 L324.00,509.99 L324.10,511.11 L324.20,511.29 L324.30,509.26 L324.40,513.42 L324.50,512.10 L324.60,509.55 L324.70,506.71 L324.80,512.60 L324.90,513.74 L325.00,513.46 L325.10,509.39 L325.20,508.62 L325.30,508.28 L325.40,509.69 L325.50,512.39 L325.60,513.41 L325.70,509.02 L325.80,509.71 L325.90,514.29 L326.00,511.68 L326.10,509.45 L326.20,510.79 L326.30,511.43 L326.40,514.08 L326.50,509.01 L326.60,514.10 L326.70,512.71 L326.80,511.35 L326.90,514.18 L327.00,513.28 L327.10,511.15 L327.20,513.58 L327.30,509.32 L327.40,511.45 L327.50,513.46 L327.60,513.52 L327.70,511.77 L327.80,506.25 L327.90,512.04 L328.00,507.25 L328.10,510.97 L328.20,508.95 L328.30,512.91 L328.40,510.14 L328.50,510.42 L328.60,509.25 L328.70,510.15 L328.80,508.90 L328.90,511.60 L329.00,509.81 L329.10,513.15 L329.20,511.84 L329.30,508.78 L329.40,510.30 L329.50,513.97 L329.60,506.89 L329.70,512.08 L329.80,507.14 L329.90,512.06 L330.00,510.38 L330.10,508.49 L330.20,507.76 L330.30,513.04 L330.40,512.71 L330.50,509.41 L330.60,511.67 L330.70,510.63 L330.80,513.61 L330.90,509.40 L331.00,510.02 L331.10,513.72 L331.20,507.50 L331.30,510.85 L331.40,512.46 L331.50,511.73 L331.60,506.58 L331.70,513.75 L331.80,513.95 L331.90,514.83 L332.00,511.15 L332.10,512.34 L332.20,506.56 L332.30,509.82 L332.40,513.48 L332.50,510.84 L332.60,514.94 L332.70,515.27 L332.80,509.58 L332.90,509.03 L333.00,513.44 L333.10,513.68 L333.20,513.55 L333.30,513.77 L333.40,512.20 L333.50,508.18 L333.60,513.50 L333.70,512.05 L333.80,512.01 L333.90,511.70 L334.00,511.03 L334.10,507.87 L334.20,513.02 L334.30,508.72 L334.40,513.79 L334.50,511.17 L334.60,511.83 L334.70,510.87 L334.80,513.30 L334.90,512.44" fill="none" stroke="#6fe03a" stroke-width="0.55" stroke-opacity="1"/>
<line x1="46.4" y1="555.6" x2="46.4" y2="652.2" stroke="#000" stroke-width="2" stroke-linecap="butt"/>
<line x1="42.4" y1="556.5" x2="46.4" y2="556.5" stroke="#000" stroke-width="2" stroke-linecap="butt"/>
<text x="40.6" y="560.28" font-size="10.5" text-anchor="end" fill="#000" font-weight="bold" >0</text>
<line x1="42.4" y1="580.3" x2="46.4" y2="580.3" stroke="#000" stroke-width="2" stroke-linecap="butt"/>
<text x="40.6" y="584.08" font-size="10.5" text-anchor="end" fill="#000" font-weight="bold" >-0.5</text>
<line x1="42.4" y1="604.4" x2="46.4" y2="604.4" stroke="#000" stroke-width="2" stroke-linecap="butt"/>
<text x="40.6" y="608.18" font-size="10.5" text-anchor="end" fill="#000" font-weight="bold" >-1.0</text>
<line x1="42.4" y1="628.2" x2="46.4" y2="628.2" stroke="#000" stroke-width="2" stroke-linecap="butt"/>
<text x="40.6" y="631.98" font-size="10.5" text-anchor="end" fill="#000" font-weight="bold" >-1.5</text>
<line x1="42.4" y1="651.5" x2="46.4" y2="651.5" stroke="#000" stroke-width="2" stroke-linecap="butt"/>
<text x="40.6" y="655.28" font-size="10.5" text-anchor="end" fill="#000" font-weight="bold" >-2.0</text>
<line x1="211.8" y1="556" x2="211.8" y2="652.6" stroke="#000" stroke-width="2" stroke-linecap="butt"/>
<line x1="207.8" y1="556.8" x2="211.8" y2="556.8" stroke="#000" stroke-width="2" stroke-linecap="butt"/>
<text x="206" y="560.58" font-size="10.5" text-anchor="end" fill="#000" font-weight="bold" >0</text>
<line x1="207.8" y1="580.9" x2="211.8" y2="580.9" stroke="#000" stroke-width="2" stroke-linecap="butt"/>
<text x="206" y="584.68" font-size="10.5" text-anchor="end" fill="#000" font-weight="bold" >-0.5</text>
<line x1="207.8" y1="605" x2="211.8" y2="605" stroke="#000" stroke-width="2" stroke-linecap="butt"/>
<text x="206" y="608.78" font-size="10.5" text-anchor="end" fill="#000" font-weight="bold" >-1.0</text>
<line x1="207.8" y1="628.8" x2="211.8" y2="628.8" stroke="#000" stroke-width="2" stroke-linecap="butt"/>
<text x="206" y="632.58" font-size="10.5" text-anchor="end" fill="#000" font-weight="bold" >-1.5</text>
<line x1="207.8" y1="652.1" x2="211.8" y2="652.1" stroke="#000" stroke-width="2" stroke-linecap="butt"/>
<text x="206" y="655.88" font-size="10.5" text-anchor="end" fill="#000" font-weight="bold" >-2.0</text>
<line x1="57.8" y1="649.8" x2="96.7" y2="649.8" stroke="#000" stroke-width="2.5" stroke-linecap="butt"/>
<text x="76.5" y="660.6" font-size="11" text-anchor="middle" fill="#000" font-weight="bold" >2s</text>
<line x1="223.4" y1="649.1" x2="262.4" y2="649.1" stroke="#000" stroke-width="2.5" stroke-linecap="butt"/>
<text x="242" y="660.3" font-size="11" text-anchor="middle" fill="#000" font-weight="bold" >2s</text>
<text transform="translate(11.7,604.6) rotate(-90)" font-size="13.5" text-anchor="middle" fill="#000" font-weight="bold" >I<tspan font-size="9" dy="3">NCX</tspan><tspan dy="-3"> (pA/pF)</tspan></text>
<polygon points="63.8,557.5 63.8,561.8 65,575 66.2,590 67.5,597.5 70,598.5 72.5,597.5 81.3,589 98.8,578 116.3,571.9 133.8,568 151.4,564.9 170.6,563.1 172.7,562.8 172.7,557.5" fill="#d6d6d6"/>
<polygon points="58.90,558.42 59.60,558.77 60.30,558.06 61.00,558.90 61.70,558.82 62.40,559.05 63.10,558.11 63.80,558.61 64.50,566.18 65.20,574.07 65.90,582.77 66.60,589.08 67.30,593.22 68.00,594.11 68.70,594.47 69.40,594.76 70.10,595.19 70.80,593.99 71.50,594.54 72.20,593.39 72.90,593.00 73.60,592.91 74.30,592.26 75.00,590.97 75.70,590.90 76.40,589.92 77.10,589.04 77.80,588.67 78.50,588.32 79.20,587.07 79.90,586.18 80.60,585.13 81.30,585.57 82.00,584.11 82.70,583.88 83.40,583.46 84.10,582.99 84.80,582.82 85.50,582.07 86.20,582.16 86.90,581.78 87.60,581.33 88.30,580.76 89.00,580.13 89.70,579.56 90.40,579.12 91.10,579.12 91.80,578.32 92.50,577.41 93.20,576.76 93.90,576.36 94.60,576.75 95.30,575.76 96.00,576.07 96.70,574.94 97.40,574.35 98.10,574.48 98.80,574.11 99.50,573.72 100.20,572.97 100.90,573.43 101.60,572.82 102.30,572.35 103.00,572.79 103.70,572.56 104.40,571.68 105.10,572.05 105.80,571.76 106.50,571.31 107.20,570.76 107.90,570.48 108.60,570.21 109.30,570.29 110.00,570.35 110.70,569.39 111.40,569.05 112.10,569.45 112.80,569.04 113.50,568.35 114.20,567.88 114.90,567.70 115.60,568.19 116.30,567.22 117.00,567.49 117.70,567.38 118.40,567.35 119.10,567.42 119.80,567.29 120.50,566.98 121.20,566.95 121.90,566.92 122.60,565.87 123.30,566.21 124.00,565.83 124.70,565.42 125.40,565.72 126.10,565.70 126.80,564.95 127.50,565.47 128.20,565.27 128.90,564.59 129.60,564.31 130.30,564.58 131.00,564.33 131.70,563.76 132.40,564.03 133.10,564.40 133.80,564.21 134.50,563.91 135.20,563.59 135.90,563.76 136.60,563.54 137.30,563.68 138.00,563.42 138.70,563.46 139.40,562.42 140.10,562.98 140.80,562.42 141.50,562.54 142.20,562.54 142.90,561.61 143.60,561.76 144.30,562.09 145.00,561.17 145.70,561.38 146.40,561.26 147.10,561.06 147.80,561.73 148.50,561.70 149.20,561.50 149.90,561.21 150.60,560.41 151.30,560.49 152.00,560.31 152.70,560.08 153.40,560.87 154.10,559.82 154.80,559.72 155.50,560.83 156.20,560.28 156.90,560.40 157.60,560.34 158.30,560.56 159.00,559.46 159.70,560.23 160.40,559.65 161.10,559.89 161.80,559.11 162.50,559.45 163.20,559.35 163.90,559.31 164.60,559.10 165.30,559.35 166.00,559.72 166.70,559.10 167.40,558.92 168.10,559.52 168.80,558.79 169.50,559.36 170.20,558.48 170.90,558.97 171.60,558.73 172.30,558.49 172.30,567.21 171.60,567.17 170.90,567.25 170.20,567.35 169.50,568.06 168.80,567.71 168.10,567.85 167.40,567.20 166.70,567.30 166.00,568.37 165.30,567.68 164.60,568.33 163.90,567.51 163.20,568.48 162.50,568.05 161.80,568.17 161.10,568.27 160.40,568.83 159.70,568.72 159.00,567.86 158.30,568.86 157.60,568.11 156.90,568.75 156.20,568.64 155.50,568.36 154.80,568.88 154.10,568.55 153.40,569.35 152.70,568.57 152.00,569.28 151.30,568.78 150.60,569.46 149.90,569.93 149.20,570.01 148.50,569.87 147.80,569.46 147.10,569.91 146.40,569.67 145.70,570.07 145.00,570.06 144.30,570.53 143.60,570.58 142.90,570.61 142.20,571.04 141.50,571.32 140.80,570.71 140.10,571.42 139.40,571.77 138.70,571.44 138.00,571.12 137.30,571.41 136.60,571.35 135.90,571.35 135.20,572.31 134.50,571.73 133.80,572.01 133.10,572.28 132.40,572.54 131.70,572.58 131.00,572.94 130.30,572.47 129.60,573.61 128.90,573.77 128.20,573.19 127.50,573.40 126.80,573.80 126.10,573.50 125.40,574.44 124.70,574.19 124.00,574.44 123.30,574.66 122.60,574.41 121.90,575.47 121.20,575.07 120.50,575.67 119.80,575.59 119.10,576.04 118.40,575.85 117.70,575.53 117.00,575.56 116.30,576.69 115.60,576.90 114.90,576.30 114.20,577.48 113.50,577.45 112.80,577.13 112.10,577.82 111.40,578.28 110.70,578.02 110.00,578.13 109.30,579.06 108.60,579.05 107.90,578.72 107.20,578.75 106.50,579.11 105.80,579.54 105.10,580.45 104.40,580.81 103.70,580.14 103.00,581.09 102.30,580.92 101.60,581.54 100.90,582.06 100.20,582.31 99.50,581.66 98.80,582.12 98.10,583.04 97.40,582.62 96.70,584.08 96.00,584.14 95.30,584.38 94.60,584.75 93.90,584.86 93.20,586.14 92.50,586.36 91.80,586.42 91.10,586.78 90.40,587.54 89.70,587.76 89.00,588.41 88.30,588.93 87.60,588.65 86.90,589.41 86.20,590.27 85.50,589.91 84.80,591.45 84.10,591.69 83.40,591.45 82.70,591.59 82.00,592.21 81.30,593.14 80.60,594.17 79.90,593.81 79.20,594.97 78.50,595.47 77.80,596.02 77.10,596.87 76.40,597.13 75.70,598.27 75.00,598.54 74.30,599.20 73.60,600.28 72.90,600.50 72.20,601.53 71.50,601.65 70.80,602.02 70.10,601.85 69.40,602.44 68.70,601.86 68.00,601.07 67.30,599.36 66.60,595.37 65.90,589.15 65.20,580.99 64.50,573.33 63.80,564.96 63.10,565.47 62.40,565.65 61.70,564.94 61.00,564.77 60.30,565.16 59.60,564.82 58.90,565.62" fill="#000" fill-opacity="1"/>
<path d="M58.90,562.51 L59.00,561.05 L59.10,564.31 L59.20,559.99 L59.30,562.11 L59.40,558.05 L59.50,567.10 L59.60,561.52 L59.70,558.84 L59.80,563.79 L59.90,562.36 L60.00,564.25 L60.10,559.76 L60.20,562.73 L60.30,559.56 L60.40,562.08 L60.50,563.76 L60.60,561.21 L60.70,561.38 L60.80,563.03 L60.90,557.54 L61.00,567.45 L61.10,562.72 L61.20,563.84 L61.30,563.41 L61.40,561.90 L61.50,560.32 L61.60,563.96 L61.70,564.21 L61.80,567.06 L61.90,563.38 L62.00,564.09 L62.10,565.01 L62.20,563.83 L62.30,562.96 L62.40,558.35 L62.50,560.66 L62.60,564.95 L62.70,556.12 L62.80,563.62 L62.90,561.20 L63.00,566.73 L63.10,563.30 L63.20,561.65 L63.30,564.89 L63.40,562.54 L63.50,560.31 L63.60,560.45 L63.70,563.62 L63.80,559.96 L63.90,560.62 L64.00,567.57 L64.10,562.61 L64.20,567.83 L64.30,565.13 L64.40,571.19 L64.50,570.55 L64.60,570.93 L64.70,570.43 L64.80,570.27 L64.90,573.19 L65.00,574.29 L65.10,576.70 L65.20,579.40 L65.30,579.07 L65.40,573.26 L65.50,576.81 L65.60,578.35 L65.70,582.13 L65.80,584.06 L65.90,587.29 L66.00,586.09 L66.10,589.37 L66.20,591.65 L66.30,592.57 L66.40,590.21 L66.50,589.03 L66.60,596.23 L66.70,596.65 L66.80,593.49 L66.90,593.75 L67.00,594.15 L67.10,593.89 L67.20,596.79 L67.30,592.54 L67.40,594.78 L67.50,597.50 L67.60,596.17 L67.70,590.73 L67.80,594.10 L67.90,595.31 L68.00,597.73 L68.10,595.09 L68.20,592.44 L68.30,595.16 L68.40,597.29 L68.50,598.73 L68.60,598.72 L68.70,599.31 L68.80,596.46 L68.90,600.98 L69.00,600.39 L69.10,598.71 L69.20,596.96 L69.30,594.39 L69.40,596.99 L69.50,594.72 L69.60,598.75 L69.70,601.59 L69.80,601.69 L69.90,598.57 L70.00,596.34 L70.10,597.40 L70.20,597.56 L70.30,599.97 L70.40,600.81 L70.50,598.72 L70.60,599.11 L70.70,594.53 L70.80,593.38 L70.90,597.14 L71.00,601.54 L71.10,597.40 L71.20,597.02 L71.30,599.54 L71.40,597.44 L71.50,597.64 L71.60,600.66 L71.70,599.65 L71.80,590.59 L71.90,596.58 L72.00,596.99 L72.10,599.69 L72.20,597.90 L72.30,598.71 L72.40,589.07 L72.50,596.92 L72.60,595.77 L72.70,601.97 L72.80,593.91 L72.90,597.92 L73.00,595.89 L73.10,599.70 L73.20,597.30 L73.30,596.35 L73.40,598.92 L73.50,597.44 L73.60,595.31 L73.70,601.01 L73.80,595.77 L73.90,594.94 L74.00,599.18 L74.10,592.92 L74.20,591.04 L74.30,595.96 L74.40,602.61 L74.50,596.61 L74.60,589.78 L74.70,596.93 L74.80,596.01 L74.90,595.17 L75.00,598.94 L75.10,594.05 L75.20,597.84 L75.30,593.03 L75.40,591.27 L75.50,585.75 L75.60,597.36 L75.70,589.13 L75.80,597.01 L75.90,596.55 L76.00,595.85 L76.10,592.42 L76.20,596.64 L76.30,587.19 L76.40,594.04 L76.50,588.28 L76.60,596.88 L76.70,589.57 L76.80,593.16 L76.90,592.12 L77.00,593.44 L77.10,589.05 L77.20,591.33 L77.30,592.84 L77.40,595.05 L77.50,599.04 L77.60,593.66 L77.70,594.65 L77.80,589.58 L77.90,599.54 L78.00,596.65 L78.10,590.60 L78.20,590.44 L78.30,592.89 L78.40,599.36 L78.50,588.62 L78.60,596.46 L78.70,591.51 L78.80,585.62 L78.90,589.20 L79.00,589.29 L79.10,591.98 L79.20,588.78 L79.30,588.35 L79.40,588.54 L79.50,586.84 L79.60,592.30 L79.70,584.82 L79.80,592.02 L79.90,588.57 L80.00,591.50 L80.10,593.49 L80.20,592.15 L80.30,587.46 L80.40,591.81 L80.50,584.58 L80.60,588.34 L80.70,593.87 L80.80,588.18 L80.90,586.28 L81.00,591.16 L81.10,595.09 L81.20,588.32 L81.30,591.66 L81.40,586.23 L81.50,589.74 L81.60,594.92 L81.70,590.52 L81.80,591.51 L81.90,587.61 L82.00,592.10 L82.10,587.17 L82.20,587.14 L82.30,591.49 L82.40,587.86 L82.50,582.40 L82.60,590.36 L82.70,589.72 L82.80,590.00 L82.90,593.16 L83.00,591.33 L83.10,589.36 L83.20,586.83 L83.30,585.74 L83.40,586.02 L83.50,588.99 L83.60,589.16 L83.70,585.59 L83.80,585.15 L83.90,585.94 L84.00,585.43 L84.10,589.43 L84.20,579.57 L84.30,587.43 L84.40,585.35 L84.50,588.27 L84.60,583.35 L84.70,587.15 L84.80,582.52 L84.90,589.86 L85.00,589.69 L85.10,580.93 L85.20,593.84 L85.30,581.78 L85.40,584.35 L85.50,586.15 L85.60,586.51 L85.70,587.35 L85.80,580.53 L85.90,585.23 L86.00,584.30 L86.10,588.90 L86.20,590.86 L86.30,583.90 L86.40,582.02 L86.50,585.68 L86.60,581.73 L86.70,579.68 L86.80,582.35 L86.90,585.29 L87.00,585.02 L87.10,586.35 L87.20,588.56 L87.30,582.15 L87.40,583.93 L87.50,582.53 L87.60,585.41 L87.70,588.73 L87.80,584.99 L87.90,585.73 L88.00,581.08 L88.10,581.24 L88.20,581.22 L88.30,586.25 L88.40,588.71 L88.50,582.86 L88.60,586.40 L88.70,590.98 L88.80,584.46 L88.90,588.16 L89.00,588.85 L89.10,587.62 L89.20,585.53 L89.30,579.88 L89.40,585.80 L89.50,585.78 L89.60,586.60 L89.70,581.24 L89.80,582.36 L89.90,587.00 L90.00,585.57 L90.10,583.93 L90.20,582.18 L90.30,584.38 L90.40,580.53 L90.50,582.40 L90.60,585.74 L90.70,583.81 L90.80,577.62 L90.90,586.44 L91.00,585.38 L91.10,587.83 L91.20,577.63 L91.30,582.55 L91.40,586.10 L91.50,581.43 L91.60,581.11 L91.70,582.34 L91.80,581.78 L91.90,579.41 L92.00,581.45 L92.10,576.63 L92.20,579.55 L92.30,583.77 L92.40,582.51 L92.50,576.52 L92.60,581.06 L92.70,581.17 L92.80,582.67 L92.90,582.62 L93.00,579.26 L93.10,583.87 L93.20,583.46 L93.30,581.23 L93.40,585.08 L93.50,578.91 L93.60,583.73 L93.70,572.84 L93.80,587.27 L93.90,581.53 L94.00,584.31 L94.10,577.48 L94.20,583.71 L94.30,580.03 L94.40,574.20 L94.50,586.28 L94.60,580.76 L94.70,581.43 L94.80,580.13 L94.90,577.52 L95.00,581.60 L95.10,577.83 L95.20,581.65 L95.30,576.82 L95.40,581.36 L95.50,576.26 L95.60,580.34 L95.70,586.24 L95.80,577.46 L95.90,574.04 L96.00,580.88 L96.10,577.51 L96.20,579.71 L96.30,575.47 L96.40,580.20 L96.50,580.98 L96.60,581.90 L96.70,577.72 L96.80,578.80 L96.90,577.91 L97.00,583.03 L97.10,582.46 L97.20,575.56 L97.30,577.61 L97.40,574.33 L97.50,581.90 L97.60,580.88 L97.70,580.36 L97.80,575.19 L97.90,577.61 L98.00,580.59 L98.10,584.92 L98.20,575.24 L98.30,576.87 L98.40,582.52 L98.50,577.75 L98.60,579.05 L98.70,578.73 L98.80,579.10 L98.90,581.01 L99.00,577.24 L99.10,574.14 L99.20,581.20 L99.30,581.36 L99.40,574.70 L99.50,576.72 L99.60,578.76 L99.70,578.35 L99.80,574.22 L99.90,581.42 L100.00,577.84 L100.10,579.70 L100.20,579.14 L100.30,576.02 L100.40,576.29 L100.50,573.99 L100.60,578.02 L100.70,581.26 L100.80,582.93 L100.90,573.27 L101.00,580.26 L101.10,577.41 L101.20,579.86 L101.30,579.70 L101.40,577.98 L101.50,574.14 L101.60,582.60 L101.70,579.25 L101.80,577.14 L101.90,579.15 L102.00,579.09 L102.10,575.87 L102.20,583.07 L102.30,573.88 L102.40,575.68 L102.50,569.86 L102.60,582.22 L102.70,579.50 L102.80,582.00 L102.90,571.98 L103.00,577.40 L103.10,571.74 L103.20,575.20 L103.30,578.67 L103.40,574.10 L103.50,578.02 L103.60,575.00 L103.70,574.00 L103.80,573.62 L103.90,576.91 L104.00,577.10 L104.10,574.10 L104.20,578.58 L104.30,575.15 L104.40,574.72 L104.50,581.05 L104.60,581.92 L104.70,576.97 L104.80,575.96 L104.90,574.30 L105.00,574.47 L105.10,572.69 L105.20,573.57 L105.30,578.82 L105.40,574.21 L105.50,571.80 L105.60,576.55 L105.70,575.91 L105.80,577.14 L105.90,573.76 L106.00,572.16 L106.10,570.63 L106.20,573.16 L106.30,570.55 L106.40,574.70 L106.50,571.81 L106.60,579.12 L106.70,569.11 L106.80,573.43 L106.90,577.74 L107.00,572.46 L107.10,576.71 L107.20,577.40 L107.30,575.49 L107.40,571.57 L107.50,570.40 L107.60,575.52 L107.70,574.87 L107.80,572.88 L107.90,572.27 L108.00,573.70 L108.10,577.36 L108.20,574.28 L108.30,572.76 L108.40,576.98 L108.50,569.08 L108.60,576.91 L108.70,574.74 L108.80,576.75 L108.90,574.23 L109.00,574.37 L109.10,573.94 L109.20,577.03 L109.30,579.82 L109.40,576.90 L109.50,571.80 L109.60,571.80 L109.70,574.29 L109.80,574.68 L109.90,567.56 L110.00,570.74 L110.10,572.92 L110.20,579.12 L110.30,574.22 L110.40,575.67 L110.50,572.00 L110.60,573.02 L110.70,572.88 L110.80,571.70 L110.90,575.55 L111.00,572.38 L111.10,568.28 L111.20,570.86 L111.30,566.50 L111.40,577.52 L111.50,572.45 L111.60,574.80 L111.70,576.49 L111.80,570.69 L111.90,572.31 L112.00,574.74 L112.10,576.07 L112.20,568.41 L112.30,576.83 L112.40,577.14 L112.50,575.23 L112.60,573.28 L112.70,575.41 L112.80,576.24 L112.90,571.62 L113.00,572.70 L113.10,568.18 L113.20,565.77 L113.30,573.38 L113.40,570.21 L113.50,576.55 L113.60,568.79 L113.70,573.22 L113.80,572.73 L113.90,575.36 L114.00,569.39 L114.10,576.34 L114.20,575.03 L114.30,573.88 L114.40,571.65 L114.50,575.03 L114.60,574.92 L114.70,565.78 L114.80,572.87 L114.90,576.57 L115.00,574.46 L115.10,570.24 L115.20,569.76 L115.30,575.31 L115.40,570.98 L115.50,571.18 L115.60,571.44 L115.70,570.34 L115.80,568.46 L115.90,571.55 L116.00,572.52 L116.10,568.94 L116.20,570.81 L116.30,568.36 L116.40,571.15 L116.50,568.70 L116.60,570.85 L116.70,573.89 L116.80,579.93 L116.90,576.54 L117.00,573.03 L117.10,573.04 L117.20,567.22 L117.30,570.27 L117.40,573.46 L117.50,566.54 L117.60,573.58 L117.70,577.87 L117.80,571.66 L117.90,573.48 L118.00,577.34 L118.10,569.35 L118.20,568.16 L118.30,571.42 L118.40,574.34 L118.50,568.19 L118.60,568.15 L118.70,575.92 L118.80,574.84 L118.90,570.95 L119.00,570.24 L119.10,574.69 L119.20,569.34 L119.30,576.51 L119.40,568.71 L119.50,569.95 L119.60,567.55 L119.70,567.99 L119.80,575.04 L119.90,572.23 L120.00,567.91 L120.10,571.08 L120.20,567.64 L120.30,570.66 L120.40,578.65 L120.50,567.50 L120.60,568.66 L120.70,564.30 L120.80,572.32 L120.90,567.00 L121.00,564.88 L121.10,570.03 L121.20,574.53 L121.30,571.04 L121.40,569.33 L121.50,567.00 L121.60,570.32 L121.70,572.62 L121.80,571.63 L121.90,573.14 L122.00,570.00 L122.10,568.19 L122.20,567.48 L122.30,570.62 L122.40,578.81 L122.50,572.60 L122.60,573.28 L122.70,570.10 L122.80,566.65 L122.90,573.21 L123.00,571.48 L123.10,575.83 L123.20,569.83 L123.30,566.13 L123.40,571.72 L123.50,573.49 L123.60,571.37 L123.70,564.25 L123.80,574.31 L123.90,574.49 L124.00,565.83 L124.10,567.64 L124.20,567.62 L124.30,568.36 L124.40,568.58 L124.50,570.54 L124.60,566.91 L124.70,569.71 L124.80,575.30 L124.90,571.44 L125.00,567.03 L125.10,565.27 L125.20,566.40 L125.30,567.78 L125.40,567.08 L125.50,566.80 L125.60,571.98 L125.70,569.66 L125.80,564.92 L125.90,571.87 L126.00,568.32 L126.10,573.46 L126.20,569.54 L126.30,570.14 L126.40,573.57 L126.50,567.28 L126.60,568.09 L126.70,571.11 L126.80,567.69 L126.90,569.63 L127.00,571.31 L127.10,566.51 L127.20,566.10 L127.30,567.32 L127.40,573.20 L127.50,570.73 L127.60,569.05 L127.70,571.44 L127.80,568.86 L127.90,572.35 L128.00,572.01 L128.10,564.41 L128.20,571.56 L128.30,568.15 L128.40,567.30 L128.50,574.55 L128.60,570.40 L128.70,570.73 L128.80,562.93 L128.90,570.82 L129.00,567.30 L129.10,567.45 L129.20,565.89 L129.30,565.44 L129.40,571.52 L129.50,567.90 L129.60,575.49 L129.70,564.11 L129.80,567.72 L129.90,570.59 L130.00,566.95 L130.10,561.80 L130.20,556.78 L130.30,570.35 L130.40,566.78 L130.50,566.03 L130.60,562.34 L130.70,573.93 L130.80,567.90 L130.90,565.87 L131.00,576.49 L131.10,572.68 L131.20,571.86 L131.30,569.03 L131.40,573.73 L131.50,566.57 L131.60,569.70 L131.70,573.46 L131.80,565.55 L131.90,572.46 L132.00,567.02 L132.10,569.58 L132.20,576.45 L132.30,570.18 L132.40,570.00 L132.50,564.33 L132.60,562.71 L132.70,570.26 L132.80,570.01 L132.90,568.16 L133.00,571.25 L133.10,574.24 L133.20,573.50 L133.30,566.81 L133.40,567.18 L133.50,561.03 L133.60,569.51 L133.70,570.85 L133.80,559.92 L133.90,571.82 L134.00,565.48 L134.10,566.05 L134.20,574.62 L134.30,569.18 L134.40,568.23 L134.50,566.40 L134.60,570.56 L134.70,564.46 L134.80,570.69 L134.90,566.50 L135.00,569.41 L135.10,569.59 L135.20,567.83 L135.30,567.90 L135.40,564.98 L135.50,564.56 L135.60,575.57 L135.70,567.20 L135.80,569.76 L135.90,566.58 L136.00,565.65 L136.10,571.47 L136.20,564.34 L136.30,558.80 L136.40,574.12 L136.50,568.71 L136.60,567.23 L136.70,571.98 L136.80,562.64 L136.90,566.67 L137.00,557.39 L137.10,561.14 L137.20,571.67 L137.30,558.01 L137.40,571.31 L137.50,564.20 L137.60,565.60 L137.70,572.89 L137.80,565.74 L137.90,568.39 L138.00,575.24 L138.10,564.47 L138.20,564.97 L138.30,564.89 L138.40,564.98 L138.50,566.66 L138.60,573.07 L138.70,564.95 L138.80,568.75 L138.90,570.47 L139.00,566.08 L139.10,565.85 L139.20,564.45 L139.30,566.40 L139.40,567.19 L139.50,575.33 L139.60,568.68 L139.70,566.77 L139.80,562.48 L139.90,565.26 L140.00,572.74 L140.10,567.42 L140.20,567.62 L140.30,565.38 L140.40,562.92 L140.50,569.33 L140.60,570.69 L140.70,569.93 L140.80,562.66 L140.90,567.23 L141.00,562.33 L141.10,568.46 L141.20,561.28 L141.30,565.24 L141.40,569.70 L141.50,565.45 L141.60,568.22 L141.70,563.98 L141.80,564.84 L141.90,566.57 L142.00,568.51 L142.10,570.60 L142.20,567.62 L142.30,565.12 L142.40,568.49 L142.50,564.82 L142.60,563.87 L142.70,561.47 L142.80,562.12 L142.90,563.58 L143.00,565.37 L143.10,565.35 L143.20,565.17 L143.30,563.67 L143.40,565.78 L143.50,567.42 L143.60,564.49 L143.70,566.22 L143.80,565.32 L143.90,566.62 L144.00,564.84 L144.10,565.43 L144.20,570.05 L144.30,566.20 L144.40,564.33 L144.50,565.78 L144.60,566.64 L144.70,570.43 L144.80,563.03 L144.90,569.41 L145.00,562.02 L145.10,570.91 L145.20,566.21 L145.30,562.80 L145.40,566.18 L145.50,565.75 L145.60,562.33 L145.70,573.86 L145.80,571.52 L145.90,558.30 L146.00,568.24 L146.10,568.83 L146.20,564.72 L146.30,565.56 L146.40,570.20 L146.50,559.99 L146.60,564.11 L146.70,570.64 L146.80,570.17 L146.90,563.11 L147.00,564.38 L147.10,567.96 L147.20,561.91 L147.30,564.19 L147.40,564.50 L147.50,566.15 L147.60,562.52 L147.70,569.60 L147.80,567.16 L147.90,568.65 L148.00,567.00 L148.10,565.68 L148.20,567.69 L148.30,568.81 L148.40,563.10 L148.50,566.57 L148.60,568.02 L148.70,562.32 L148.80,564.21 L148.90,560.98 L149.00,563.04 L149.10,564.21 L149.20,564.41 L149.30,569.10 L149.40,569.74 L149.50,564.53 L149.60,567.24 L149.70,567.12 L149.80,566.91 L149.90,566.65 L150.00,561.45 L150.10,566.46 L150.20,563.23 L150.30,561.48 L150.40,570.68 L150.50,567.01 L150.60,568.42 L150.70,563.70 L150.80,568.53 L150.90,569.73 L151.00,561.97 L151.10,564.38 L151.20,567.11 L151.30,566.26 L151.40,565.26 L151.50,563.16 L151.60,569.05 L151.70,565.48 L151.80,565.02 L151.90,563.44 L152.00,563.90 L152.10,565.93 L152.20,568.49 L152.30,564.73 L152.40,566.81 L152.50,567.47 L152.60,564.81 L152.70,570.01 L152.80,564.54 L152.90,565.82 L153.00,566.38 L153.10,564.49 L153.20,563.54 L153.30,567.75 L153.40,567.91 L153.50,563.93 L153.60,567.76 L153.70,562.49 L153.80,565.05 L153.90,568.26 L154.00,565.01 L154.10,565.36 L154.20,566.36 L154.30,570.55 L154.40,567.16 L154.50,565.86 L154.60,567.06 L154.70,562.75 L154.80,562.07 L154.90,561.44 L155.00,564.86 L155.10,567.19 L155.20,561.84 L155.30,567.23 L155.40,562.12 L155.50,568.01 L155.60,563.37 L155.70,563.30 L155.80,562.84 L155.90,557.59 L156.00,562.49 L156.10,562.81 L156.20,563.30 L156.30,566.43 L156.40,563.08 L156.50,568.09 L156.60,563.70 L156.70,570.72 L156.80,562.78 L156.90,560.31 L157.00,561.16 L157.10,564.78 L157.20,564.72 L157.30,563.64 L157.40,568.86 L157.50,568.02 L157.60,564.77 L157.70,569.89 L157.80,559.14 L157.90,562.06 L158.00,569.66 L158.10,560.03 L158.20,559.94 L158.30,565.47 L158.40,557.72 L158.50,560.91 L158.60,561.69 L158.70,570.88 L158.80,563.28 L158.90,568.34 L159.00,559.41 L159.10,564.68 L159.20,562.16 L159.30,564.60 L159.40,565.38 L159.50,562.46 L159.60,565.27 L159.70,565.46 L159.80,560.50 L159.90,560.78 L160.00,566.43 L160.10,563.12 L160.20,568.09 L160.30,566.42 L160.40,566.57 L160.50,566.87 L160.60,562.84 L160.70,558.43 L160.80,565.62 L160.90,566.21 L161.00,563.59 L161.10,563.70 L161.20,568.51 L161.30,562.69 L161.40,569.12 L161.50,569.48 L161.60,564.53 L161.70,558.54 L161.80,561.48 L161.90,566.67 L162.00,563.90 L162.10,566.73 L162.20,564.53 L162.30,562.64 L162.40,565.43 L162.50,567.47 L162.60,558.53 L162.70,559.33 L162.80,561.61 L162.90,568.20 L163.00,563.49 L163.10,561.17 L163.20,565.94 L163.30,562.17 L163.40,560.21 L163.50,566.11 L163.60,557.34 L163.70,565.89 L163.80,569.69 L163.90,564.15 L164.00,564.48 L164.10,564.90 L164.20,562.65 L164.30,569.90 L164.40,559.79 L164.50,561.62 L164.60,561.95 L164.70,562.45 L164.80,561.00 L164.90,562.59 L165.00,560.94 L165.10,566.09 L165.20,561.80 L165.30,571.69 L165.40,564.49 L165.50,556.74 L165.60,562.60 L165.70,570.70 L165.80,558.47 L165.90,564.77 L166.00,568.10 L166.10,564.31 L166.20,570.04 L166.30,554.78 L166.40,568.17 L166.50,565.43 L166.60,564.02 L166.70,565.32 L166.80,561.91 L166.90,558.64 L167.00,563.92 L167.10,564.69 L167.20,562.24 L167.30,563.00 L167.40,562.96 L167.50,564.63 L167.60,563.02 L167.70,558.26 L167.80,563.54 L167.90,561.99 L168.00,563.72 L168.10,564.31 L168.20,557.35 L168.30,563.29 L168.40,563.73 L168.50,566.03 L168.60,562.55 L168.70,567.04 L168.80,564.17 L168.90,558.08 L169.00,559.43 L169.10,561.08 L169.20,565.56 L169.30,560.13 L169.40,562.11 L169.50,567.43 L169.60,557.21 L169.70,568.61 L169.80,561.75 L169.90,559.77 L170.00,559.65 L170.10,562.62 L170.20,553.88 L170.30,559.93 L170.40,562.16 L170.50,564.44 L170.60,563.28 L170.70,562.78 L170.80,555.77 L170.90,569.90 L171.00,560.89 L171.10,562.65 L171.20,560.61 L171.30,557.72 L171.40,563.37 L171.50,563.42 L171.60,561.65 L171.70,558.71 L171.80,561.43 L171.90,563.42 L172.00,557.00 L172.10,559.34 L172.20,564.59 L172.30,562.12 L172.40,561.27 L172.50,562.32 L172.60,561.13 L172.70,555.48" fill="none" stroke="#000" stroke-width="0.55" stroke-opacity="1"/>
<line x1="67.5" y1="597.5" x2="67.5" y2="635" stroke="#333" stroke-width="0.8" stroke-linecap="butt"/>
<line x1="76.5" y1="593.64" x2="76.5" y2="641" stroke="#333" stroke-width="0.8" stroke-linecap="butt"/>
<line x1="81.8" y1="588.69" x2="81.8" y2="623.8" stroke="#333" stroke-width="0.8" stroke-linecap="butt"/>
<line x1="90.6" y1="583.15" x2="90.6" y2="623.8" stroke="#333" stroke-width="0.8" stroke-linecap="butt"/>
<line x1="93.2" y1="581.52" x2="93.2" y2="611" stroke="#333" stroke-width="0.8" stroke-linecap="butt"/>
<line x1="95" y1="580.39" x2="95" y2="629.7" stroke="#333" stroke-width="0.8" stroke-linecap="butt"/>
<line x1="98.3" y1="578.31" x2="98.3" y2="616.5" stroke="#333" stroke-width="0.8" stroke-linecap="butt"/>
<line x1="100.5" y1="577.41" x2="100.5" y2="608.6" stroke="#333" stroke-width="0.8" stroke-linecap="butt"/>
<line x1="102.5" y1="576.71" x2="102.5" y2="606.6" stroke="#333" stroke-width="0.8" stroke-linecap="butt"/>
<line x1="106.2" y1="575.42" x2="106.2" y2="600" stroke="#333" stroke-width="0.8" stroke-linecap="butt"/>
<line x1="109.3" y1="574.34" x2="109.3" y2="598.7" stroke="#333" stroke-width="0.8" stroke-linecap="butt"/>
<line x1="112.4" y1="573.26" x2="112.4" y2="618.5" stroke="#333" stroke-width="0.8" stroke-linecap="butt"/>
<line x1="115.5" y1="572.18" x2="115.5" y2="627.1" stroke="#333" stroke-width="0.8" stroke-linecap="butt"/>
<line x1="119" y1="571.3" x2="119" y2="614.6" stroke="#333" stroke-width="0.8" stroke-linecap="butt"/>
<line x1="119.4" y1="571.21" x2="119.4" y2="604.7" stroke="#333" stroke-width="0.8" stroke-linecap="butt"/>
<line x1="122" y1="570.63" x2="122" y2="595.4" stroke="#333" stroke-width="0.8" stroke-linecap="butt"/>
<line x1="126" y1="569.74" x2="126" y2="625.8" stroke="#333" stroke-width="0.8" stroke-linecap="butt"/>
<line x1="128.7" y1="569.14" x2="128.7" y2="597.4" stroke="#333" stroke-width="0.8" stroke-linecap="butt"/>
<line x1="134.3" y1="567.91" x2="134.3" y2="621.2" stroke="#333" stroke-width="0.8" stroke-linecap="butt"/>
<line x1="138.6" y1="567.15" x2="138.6" y2="621.2" stroke="#333" stroke-width="0.8" stroke-linecap="butt"/>
<line x1="140.5" y1="566.82" x2="140.5" y2="618.5" stroke="#333" stroke-width="0.8" stroke-linecap="butt"/>
<line x1="143.2" y1="566.34" x2="143.2" y2="622.5" stroke="#333" stroke-width="0.8" stroke-linecap="butt"/>
<line x1="145.4" y1="565.96" x2="145.4" y2="586.2" stroke="#333" stroke-width="0.8" stroke-linecap="butt"/>
<line x1="148.8" y1="565.36" x2="148.8" y2="623.4" stroke="#333" stroke-width="0.8" stroke-linecap="butt"/>
<line x1="152" y1="564.84" x2="152" y2="593.5" stroke="#333" stroke-width="0.8" stroke-linecap="butt"/>
<line x1="154.4" y1="564.62" x2="154.4" y2="604.7" stroke="#333" stroke-width="0.8" stroke-linecap="butt"/>
<line x1="157" y1="564.38" x2="157" y2="621.8" stroke="#333" stroke-width="0.8" stroke-linecap="butt"/>
<line x1="170.2" y1="563.14" x2="170.2" y2="590.8" stroke="#333" stroke-width="0.8" stroke-linecap="butt"/>
<line x1="172.6" y1="562.81" x2="172.6" y2="598" stroke="#333" stroke-width="0.8" stroke-linecap="butt"/>
<polygon points="228,556.1 229,578 230.5,592 233,598.5 239.3,599 246.3,592.5 263.8,581.5 281.3,573.2 298.8,568.4 316.4,565 334.8,562.7 335.6,562.6 335.6,556.1" fill="#d6d6d6"/>
<polygon points="225.30,558.81 226.00,559.80 226.70,560.09 227.40,560.60 228.10,563.32 228.80,570.41 229.50,577.66 230.20,583.86 230.90,587.37 231.60,588.95 232.30,590.61 233.00,592.27 233.70,592.01 234.40,592.56 235.10,592.99 235.80,592.51 236.50,592.73 237.20,593.35 237.90,593.41 238.60,593.09 239.30,593.27 240.00,592.41 240.70,591.71 241.40,591.50 242.10,590.72 242.80,589.76 243.50,588.87 244.20,587.87 244.90,587.60 245.60,587.25 246.30,586.02 247.00,586.62 247.70,585.30 248.40,585.23 249.10,585.30 249.80,584.40 250.50,584.63 251.20,583.62 251.90,583.43 252.60,583.19 253.30,582.70 254.00,582.47 254.70,581.00 255.40,581.40 256.10,580.80 256.80,579.80 257.50,580.25 258.20,579.85 258.90,579.07 259.60,578.93 260.30,577.86 261.00,578.22 261.70,577.63 262.40,576.76 263.10,577.22 263.80,576.43 264.50,575.89 265.20,575.43 265.90,575.65 266.60,575.56 267.30,575.22 268.00,574.38 268.70,573.48 269.40,573.23 270.10,573.05 270.80,573.22 271.50,573.16 272.20,572.06 272.90,572.29 273.60,571.64 274.30,571.97 275.00,571.26 275.70,570.29 276.40,570.90 277.10,570.58 277.80,570.24 278.50,569.59 279.20,568.74 279.90,568.70 280.60,568.73 281.30,568.77 282.00,568.31 282.70,567.36 283.40,568.17 284.10,567.54 284.80,567.49 285.50,567.13 286.20,566.41 286.90,566.28 287.60,566.23 288.30,565.91 289.00,566.82 289.70,566.00 290.40,565.73 291.10,565.59 291.80,565.10 292.50,565.71 293.20,565.40 293.90,565.58 294.60,565.12 295.30,564.82 296.00,563.92 296.70,564.57 297.40,564.13 298.10,564.12 298.80,564.11 299.50,563.28 300.20,563.87 300.90,563.27 301.60,563.80 302.30,562.96 303.00,562.39 303.70,562.77 304.40,562.39 305.10,562.89 305.80,562.00 306.50,562.83 307.20,562.44 307.90,561.82 308.60,561.37 309.30,561.46 310.00,561.98 310.70,561.37 311.40,561.63 312.10,561.82 312.80,561.15 313.50,561.37 314.20,560.40 314.90,560.32 315.60,560.83 316.30,560.82 317.00,560.94 317.70,559.84 318.40,560.05 319.10,560.06 319.80,559.91 320.50,560.62 321.20,559.46 321.90,560.37 322.60,560.14 323.30,559.57 324.00,559.30 324.70,560.21 325.40,560.08 326.10,559.03 326.80,559.78 327.50,559.13 328.20,559.37 328.90,559.60 329.60,558.72 330.30,558.99 331.00,559.30 331.70,558.46 332.40,558.45 333.10,558.44 333.80,558.61 334.50,558.69 335.20,559.04 335.20,566.83 334.50,566.80 333.80,566.58 333.10,567.00 332.40,566.75 331.70,567.60 331.00,567.65 330.30,567.74 329.60,567.76 328.90,567.29 328.20,567.69 327.50,568.35 326.80,567.80 326.10,567.84 325.40,567.92 324.70,568.30 324.00,568.56 323.30,568.23 322.60,568.10 321.90,568.24 321.20,569.12 320.50,568.92 319.80,569.44 319.10,569.48 318.40,569.41 317.70,569.10 317.00,569.22 316.30,569.98 315.60,569.30 314.90,570.13 314.20,569.70 313.50,570.34 312.80,569.67 312.10,569.95 311.40,570.68 310.70,570.95 310.00,570.69 309.30,570.43 308.60,570.83 307.90,571.26 307.20,571.56 306.50,571.80 305.80,572.14 305.10,571.60 304.40,572.35 303.70,571.56 303.00,572.07 302.30,571.85 301.60,572.60 300.90,573.22 300.20,573.08 299.50,572.62 298.80,573.57 298.10,573.13 297.40,573.86 296.70,573.17 296.00,574.02 295.30,574.65 294.60,574.68 293.90,573.96 293.20,574.76 292.50,574.85 291.80,575.50 291.10,575.89 290.40,575.18 289.70,575.49 289.00,575.50 288.30,576.04 287.60,575.82 286.90,576.57 286.20,576.99 285.50,577.43 284.80,576.67 284.10,577.44 283.40,577.80 282.70,577.27 282.00,577.50 281.30,577.71 280.60,579.06 279.90,578.77 279.20,578.69 278.50,579.68 277.80,579.68 277.10,580.04 276.40,580.38 275.70,581.17 275.00,581.64 274.30,582.14 273.60,582.31 272.90,582.76 272.20,582.48 271.50,583.19 270.80,582.78 270.10,584.17 269.40,584.16 268.70,584.34 268.00,584.22 267.30,585.21 266.60,585.03 265.90,585.74 265.20,585.65 264.50,586.16 263.80,587.06 263.10,586.94 262.40,588.29 261.70,588.28 261.00,588.94 260.30,589.33 259.60,589.75 258.90,590.27 258.20,590.37 257.50,590.80 256.80,591.63 256.10,591.40 255.40,592.72 254.70,593.10 254.00,592.90 253.30,593.40 252.60,594.78 251.90,594.25 251.20,595.52 250.50,595.21 249.80,596.07 249.10,596.71 248.40,597.53 247.70,597.62 247.00,597.58 246.30,598.15 245.60,599.41 244.90,600.02 244.20,600.03 243.50,601.00 242.80,601.78 242.10,602.11 241.40,603.08 240.70,603.57 240.00,604.03 239.30,604.72 238.60,604.51 237.90,604.89 237.20,605.10 236.50,605.27 235.80,604.41 235.10,604.13 234.40,604.75 233.70,604.36 233.00,604.41 232.30,602.63 231.60,600.56 230.90,599.13 230.20,594.55 229.50,587.92 228.80,580.41 228.10,573.11 227.40,570.30 226.70,569.88 226.00,569.53 225.30,569.48" fill="#6fe03a" fill-opacity="1"/>
<path d="M225.30,567.15 L225.40,558.47 L225.50,570.80 L225.60,568.19 L225.70,566.44 L225.80,565.58 L225.90,564.40 L226.00,566.12 L226.10,561.23 L226.20,570.38 L226.30,566.51 L226.40,562.84 L226.50,575.12 L226.60,565.24 L226.70,566.07 L226.80,561.35 L226.90,567.96 L227.00,562.38 L227.10,561.70 L227.20,574.26 L227.30,564.68 L227.40,564.46 L227.50,569.64 L227.60,566.44 L227.70,560.07 L227.80,567.82 L227.90,562.30 L228.00,565.11 L228.10,566.89 L228.20,567.23 L228.30,567.36 L228.40,566.16 L228.50,577.46 L228.60,576.77 L228.70,568.86 L228.80,578.12 L228.90,575.91 L229.00,579.36 L229.10,580.43 L229.20,574.47 L229.30,583.63 L229.40,590.76 L229.50,583.59 L229.60,581.02 L229.70,592.29 L229.80,593.59 L229.90,591.21 L230.00,586.30 L230.10,592.42 L230.20,586.20 L230.30,589.12 L230.40,594.27 L230.50,587.64 L230.60,587.78 L230.70,592.84 L230.80,591.24 L230.90,603.36 L231.00,594.43 L231.10,594.57 L231.20,593.69 L231.30,592.22 L231.40,600.25 L231.50,588.80 L231.60,598.51 L231.70,598.08 L231.80,592.27 L231.90,600.80 L232.00,599.35 L232.10,592.59 L232.20,601.92 L232.30,593.47 L232.40,589.29 L232.50,598.19 L232.60,601.05 L232.70,595.75 L232.80,600.30 L232.90,594.97 L233.00,601.27 L233.10,598.01 L233.20,597.45 L233.30,598.79 L233.40,595.80 L233.50,600.54 L233.60,601.54 L233.70,591.53 L233.80,594.97 L233.90,608.21 L234.00,600.32 L234.10,601.11 L234.20,595.12 L234.30,601.70 L234.40,589.92 L234.50,592.97 L234.60,598.47 L234.70,596.44 L234.80,596.31 L234.90,599.65 L235.00,597.02 L235.10,596.74 L235.20,600.24 L235.30,602.48 L235.40,599.42 L235.50,592.10 L235.60,600.54 L235.70,595.83 L235.80,593.64 L235.90,592.73 L236.00,606.45 L236.10,596.70 L236.20,599.13 L236.30,598.54 L236.40,598.46 L236.50,602.08 L236.60,610.54 L236.70,598.31 L236.80,599.12 L236.90,601.26 L237.00,599.18 L237.10,598.05 L237.20,599.55 L237.30,597.60 L237.40,604.64 L237.50,599.49 L237.60,609.33 L237.70,593.30 L237.80,596.41 L237.90,596.11 L238.00,599.11 L238.10,599.54 L238.20,596.05 L238.30,602.79 L238.40,600.56 L238.50,594.38 L238.60,598.39 L238.70,598.07 L238.80,600.35 L238.90,592.62 L239.00,600.24 L239.10,598.77 L239.20,595.85 L239.30,607.04 L239.40,597.14 L239.50,595.21 L239.60,600.04 L239.70,601.51 L239.80,599.21 L239.90,603.76 L240.00,594.74 L240.10,600.60 L240.20,595.60 L240.30,590.11 L240.40,606.76 L240.50,596.61 L240.60,603.99 L240.70,598.84 L240.80,589.64 L240.90,605.32 L241.00,596.70 L241.10,601.73 L241.20,600.34 L241.30,600.08 L241.40,595.68 L241.50,588.57 L241.60,594.98 L241.70,589.15 L241.80,600.95 L241.90,595.33 L242.00,598.09 L242.10,599.08 L242.20,594.48 L242.30,586.74 L242.40,597.45 L242.50,591.14 L242.60,594.63 L242.70,592.75 L242.80,590.32 L242.90,596.17 L243.00,597.56 L243.10,601.47 L243.20,600.81 L243.30,596.16 L243.40,591.78 L243.50,593.86 L243.60,592.80 L243.70,591.82 L243.80,592.31 L243.90,597.40 L244.00,594.44 L244.10,595.91 L244.20,596.91 L244.30,592.67 L244.40,593.22 L244.50,597.12 L244.60,596.53 L244.70,596.90 L244.80,598.74 L244.90,598.05 L245.00,598.62 L245.10,590.93 L245.20,598.81 L245.30,592.83 L245.40,594.64 L245.50,592.50 L245.60,591.56 L245.70,594.19 L245.80,594.66 L245.90,596.73 L246.00,588.51 L246.10,594.55 L246.20,591.27 L246.30,590.99 L246.40,602.74 L246.50,588.81 L246.60,599.81 L246.70,587.83 L246.80,591.36 L246.90,590.55 L247.00,593.30 L247.10,587.92 L247.20,601.09 L247.30,594.23 L247.40,590.58 L247.50,596.96 L247.60,596.11 L247.70,597.87 L247.80,589.38 L247.90,590.04 L248.00,584.66 L248.10,588.24 L248.20,595.46 L248.30,588.40 L248.40,591.70 L248.50,588.25 L248.60,580.20 L248.70,588.29 L248.80,589.46 L248.90,593.30 L249.00,596.52 L249.10,595.06 L249.20,587.86 L249.30,590.50 L249.40,593.46 L249.50,590.32 L249.60,588.34 L249.70,593.29 L249.80,581.34 L249.90,586.95 L250.00,583.94 L250.10,586.44 L250.20,590.56 L250.30,582.94 L250.40,596.13 L250.50,600.59 L250.60,589.95 L250.70,600.88 L250.80,589.42 L250.90,592.78 L251.00,596.33 L251.10,590.19 L251.20,583.31 L251.30,592.67 L251.40,580.78 L251.50,589.63 L251.60,593.24 L251.70,587.04 L251.80,588.39 L251.90,594.46 L252.00,577.58 L252.10,586.75 L252.20,599.51 L252.30,583.52 L252.40,586.21 L252.50,589.74 L252.60,587.77 L252.70,585.07 L252.80,584.43 L252.90,587.85 L253.00,590.19 L253.10,589.01 L253.20,591.80 L253.30,582.44 L253.40,580.52 L253.50,588.89 L253.60,596.27 L253.70,591.97 L253.80,588.20 L253.90,591.54 L254.00,593.95 L254.10,585.71 L254.20,587.57 L254.30,577.76 L254.40,590.77 L254.50,596.03 L254.60,595.14 L254.70,584.34 L254.80,592.85 L254.90,586.37 L255.00,587.63 L255.10,581.90 L255.20,578.34 L255.30,586.07 L255.40,586.41 L255.50,578.57 L255.60,584.55 L255.70,591.94 L255.80,586.03 L255.90,585.37 L256.00,590.20 L256.10,584.75 L256.20,576.92 L256.30,579.37 L256.40,582.06 L256.50,590.93 L256.60,588.32 L256.70,586.33 L256.80,590.65 L256.90,589.92 L257.00,583.55 L257.10,588.25 L257.20,594.09 L257.30,588.98 L257.40,589.91 L257.50,585.96 L257.60,586.36 L257.70,588.15 L257.80,586.64 L257.90,585.63 L258.00,580.41 L258.10,583.11 L258.20,583.92 L258.30,591.45 L258.40,583.01 L258.50,587.14 L258.60,578.45 L258.70,579.23 L258.80,590.22 L258.90,584.63 L259.00,581.92 L259.10,587.33 L259.20,584.06 L259.30,584.46 L259.40,584.48 L259.50,582.41 L259.60,585.16 L259.70,583.08 L259.80,583.02 L259.90,575.43 L260.00,583.76 L260.10,587.50 L260.20,588.03 L260.30,585.39 L260.40,584.04 L260.50,583.05 L260.60,584.61 L260.70,583.07 L260.80,581.73 L260.90,587.33 L261.00,583.47 L261.10,582.46 L261.20,579.09 L261.30,580.82 L261.40,584.54 L261.50,580.28 L261.60,583.22 L261.70,586.68 L261.80,576.03 L261.90,581.73 L262.00,582.26 L262.10,583.14 L262.20,580.16 L262.30,578.57 L262.40,581.93 L262.50,579.33 L262.60,580.66 L262.70,580.54 L262.80,587.29 L262.90,588.90 L263.00,577.05 L263.10,580.03 L263.20,574.47 L263.30,584.93 L263.40,584.74 L263.50,584.68 L263.60,588.04 L263.70,575.10 L263.80,577.50 L263.90,579.24 L264.00,583.56 L264.10,579.73 L264.20,584.70 L264.30,586.21 L264.40,582.47 L264.50,581.35 L264.60,587.49 L264.70,581.47 L264.80,573.08 L264.90,586.16 L265.00,588.27 L265.10,579.61 L265.20,581.93 L265.30,583.44 L265.40,584.33 L265.50,583.60 L265.60,577.86 L265.70,577.17 L265.80,579.03 L265.90,579.44 L266.00,585.54 L266.10,580.51 L266.20,579.54 L266.30,586.55 L266.40,581.26 L266.50,573.73 L266.60,572.48 L266.70,578.86 L266.80,579.84 L266.90,578.62 L267.00,572.39 L267.10,576.89 L267.20,580.21 L267.30,588.16 L267.40,582.19 L267.50,588.55 L267.60,581.82 L267.70,578.38 L267.80,575.65 L267.90,584.27 L268.00,574.86 L268.10,572.09 L268.20,582.73 L268.30,582.37 L268.40,575.95 L268.50,576.80 L268.60,587.99 L268.70,580.97 L268.80,579.26 L268.90,575.61 L269.00,577.60 L269.10,578.32 L269.20,580.09 L269.30,586.60 L269.40,577.16 L269.50,586.81 L269.60,574.75 L269.70,582.17 L269.80,579.85 L269.90,574.98 L270.00,583.93 L270.10,575.08 L270.20,576.13 L270.30,577.70 L270.40,581.04 L270.50,570.74 L270.60,578.76 L270.70,575.16 L270.80,577.99 L270.90,583.71 L271.00,571.96 L271.10,583.40 L271.20,579.00 L271.30,578.10 L271.40,583.68 L271.50,576.36 L271.60,580.61 L271.70,580.98 L271.80,578.07 L271.90,568.96 L272.00,581.57 L272.10,578.57 L272.20,572.63 L272.30,577.16 L272.40,577.45 L272.50,580.24 L272.60,575.15 L272.70,571.41 L272.80,572.06 L272.90,577.46 L273.00,581.13 L273.10,576.22 L273.20,572.33 L273.30,574.63 L273.40,576.95 L273.50,573.37 L273.60,579.20 L273.70,577.92 L273.80,580.70 L273.90,572.75 L274.00,574.38 L274.10,576.69 L274.20,575.06 L274.30,571.51 L274.40,570.95 L274.50,579.12 L274.60,576.64 L274.70,575.47 L274.80,568.83 L274.90,578.18 L275.00,575.39 L275.10,578.55 L275.20,578.08 L275.30,577.82 L275.40,578.76 L275.50,581.91 L275.60,562.61 L275.70,578.80 L275.80,570.02 L275.90,574.65 L276.00,572.72 L276.10,571.28 L276.20,575.35 L276.30,581.36 L276.40,577.96 L276.50,578.11 L276.60,572.47 L276.70,570.85 L276.80,574.10 L276.90,579.45 L277.00,573.43 L277.10,567.34 L277.20,571.47 L277.30,573.37 L277.40,569.79 L277.50,572.66 L277.60,574.49 L277.70,573.55 L277.80,576.36 L277.90,575.43 L278.00,576.42 L278.10,572.90 L278.20,575.35 L278.30,574.99 L278.40,583.40 L278.50,577.10 L278.60,569.12 L278.70,569.21 L278.80,572.14 L278.90,574.94 L279.00,575.00 L279.10,574.08 L279.20,568.07 L279.30,571.64 L279.40,574.26 L279.50,576.93 L279.60,577.90 L279.70,573.99 L279.80,575.52 L279.90,574.03 L280.00,570.78 L280.10,572.42 L280.20,573.37 L280.30,573.56 L280.40,572.16 L280.50,575.56 L280.60,572.58 L280.70,569.72 L280.80,573.59 L280.90,567.12 L281.00,576.72 L281.10,578.87 L281.20,575.83 L281.30,572.78 L281.40,571.81 L281.50,571.36 L281.60,571.69 L281.70,571.80 L281.80,571.36 L281.90,573.50 L282.00,573.11 L282.10,573.49 L282.20,578.54 L282.30,579.96 L282.40,571.13 L282.50,572.39 L282.60,569.44 L282.70,579.22 L282.80,567.66 L282.90,567.54 L283.00,563.17 L283.10,566.34 L283.20,567.59 L283.30,569.58 L283.40,572.02 L283.50,575.34 L283.60,571.96 L283.70,566.25 L283.80,575.89 L283.90,565.03 L284.00,572.06 L284.10,579.22 L284.20,572.33 L284.30,570.63 L284.40,573.06 L284.50,567.46 L284.60,567.28 L284.70,566.18 L284.80,568.06 L284.90,571.98 L285.00,569.35 L285.10,571.50 L285.20,572.80 L285.30,576.01 L285.40,574.35 L285.50,576.76 L285.60,567.50 L285.70,566.05 L285.80,568.34 L285.90,570.73 L286.00,569.30 L286.10,569.03 L286.20,571.66 L286.30,567.91 L286.40,573.11 L286.50,570.21 L286.60,570.38 L286.70,574.85 L286.80,570.57 L286.90,569.96 L287.00,580.04 L287.10,565.50 L287.20,571.51 L287.30,571.14 L287.40,572.98 L287.50,570.57 L287.60,576.36 L287.70,567.91 L287.80,570.86 L287.90,572.56 L288.00,573.93 L288.10,571.95 L288.20,571.12 L288.30,574.72 L288.40,574.13 L288.50,564.44 L288.60,572.22 L288.70,573.61 L288.80,581.35 L288.90,569.80 L289.00,573.73 L289.10,572.91 L289.20,568.39 L289.30,569.82 L289.40,568.44 L289.50,571.32 L289.60,574.03 L289.70,567.74 L289.80,570.86 L289.90,569.46 L290.00,573.84 L290.10,568.24 L290.20,573.54 L290.30,573.22 L290.40,567.85 L290.50,573.53 L290.60,566.52 L290.70,568.45 L290.80,574.65 L290.90,568.87 L291.00,567.90 L291.10,570.71 L291.20,570.37 L291.30,569.25 L291.40,573.17 L291.50,571.52 L291.60,567.25 L291.70,571.65 L291.80,572.01 L291.90,569.93 L292.00,581.64 L292.10,561.19 L292.20,576.18 L292.30,570.12 L292.40,573.67 L292.50,562.42 L292.60,573.88 L292.70,568.39 L292.80,569.76 L292.90,569.64 L293.00,571.87 L293.10,576.04 L293.20,570.75 L293.30,571.43 L293.40,569.70 L293.50,573.35 L293.60,574.30 L293.70,572.22 L293.80,565.10 L293.90,562.77 L294.00,575.85 L294.10,565.77 L294.20,571.39 L294.30,570.76 L294.40,574.49 L294.50,576.79 L294.60,568.91 L294.70,570.29 L294.80,572.46 L294.90,570.55 L295.00,575.59 L295.10,568.68 L295.20,567.42 L295.30,564.02 L295.40,571.60 L295.50,568.03 L295.60,569.21 L295.70,572.71 L295.80,564.95 L295.90,567.80 L296.00,569.00 L296.10,571.61 L296.20,570.62 L296.30,568.78 L296.40,568.21 L296.50,569.23 L296.60,570.32 L296.70,567.11 L296.80,569.38 L296.90,569.65 L297.00,569.09 L297.10,568.68 L297.20,571.54 L297.30,567.31 L297.40,567.44 L297.50,572.61 L297.60,564.11 L297.70,575.32 L297.80,570.91 L297.90,567.74 L298.00,569.69 L298.10,565.38 L298.20,569.31 L298.30,566.99 L298.40,571.44 L298.50,568.25 L298.60,567.54 L298.70,571.11 L298.80,566.96 L298.90,566.87 L299.00,574.49 L299.10,567.50 L299.20,572.13 L299.30,560.12 L299.40,563.83 L299.50,565.90 L299.60,569.06 L299.70,563.78 L299.80,568.97 L299.90,572.65 L300.00,566.74 L300.10,572.43 L300.20,573.26 L300.30,571.45 L300.40,569.09 L300.50,565.64 L300.60,571.84 L300.70,568.19 L300.80,568.94 L300.90,569.64 L301.00,568.43 L301.10,574.39 L301.20,569.88 L301.30,565.91 L301.40,565.46 L301.50,567.59 L301.60,563.98 L301.70,574.13 L301.80,570.46 L301.90,567.45 L302.00,564.44 L302.10,565.66 L302.20,569.03 L302.30,572.40 L302.40,566.21 L302.50,566.01 L302.60,566.71 L302.70,566.04 L302.80,564.13 L302.90,570.27 L303.00,570.77 L303.10,565.31 L303.20,572.57 L303.30,563.30 L303.40,566.00 L303.50,565.12 L303.60,567.64 L303.70,570.50 L303.80,569.92 L303.90,566.05 L304.00,565.22 L304.10,574.86 L304.20,565.52 L304.30,563.03 L304.40,568.48 L304.50,564.41 L304.60,567.41 L304.70,566.87 L304.80,565.94 L304.90,567.66 L305.00,564.97 L305.10,567.14 L305.20,565.56 L305.30,569.46 L305.40,566.96 L305.50,562.55 L305.60,567.04 L305.70,565.32 L305.80,565.32 L305.90,565.23 L306.00,566.42 L306.10,564.67 L306.20,568.31 L306.30,562.53 L306.40,572.56 L306.50,565.59 L306.60,568.72 L306.70,566.34 L306.80,566.41 L306.90,565.24 L307.00,565.08 L307.10,569.23 L307.20,564.90 L307.30,566.96 L307.40,563.46 L307.50,564.67 L307.60,567.60 L307.70,563.80 L307.80,566.26 L307.90,569.00 L308.00,562.27 L308.10,567.18 L308.20,561.13 L308.30,564.17 L308.40,567.31 L308.50,565.75 L308.60,565.78 L308.70,565.91 L308.80,562.59 L308.90,562.45 L309.00,567.07 L309.10,570.10 L309.20,564.67 L309.30,565.86 L309.40,562.52 L309.50,568.04 L309.60,560.28 L309.70,566.14 L309.80,560.33 L309.90,569.02 L310.00,568.33 L310.10,566.15 L310.20,565.15 L310.30,566.57 L310.40,568.15 L310.50,563.78 L310.60,566.08 L310.70,568.11 L310.80,566.71 L310.90,563.79 L311.00,563.21 L311.10,567.27 L311.20,566.99 L311.30,566.33 L311.40,561.05 L311.50,568.86 L311.60,565.35 L311.70,564.47 L311.80,571.49 L311.90,560.99 L312.00,569.03 L312.10,569.14 L312.20,566.17 L312.30,565.47 L312.40,562.89 L312.50,569.02 L312.60,565.91 L312.70,566.88 L312.80,565.29 L312.90,566.06 L313.00,567.17 L313.10,562.93 L313.20,571.55 L313.30,566.44 L313.40,560.45 L313.50,564.57 L313.60,564.78 L313.70,569.49 L313.80,561.90 L313.90,565.08 L314.00,567.73 L314.10,564.79 L314.20,567.55 L314.30,571.62 L314.40,571.75 L314.50,562.41 L314.60,559.18 L314.70,561.99 L314.80,562.45 L314.90,571.59 L315.00,567.77 L315.10,570.63 L315.20,567.31 L315.30,563.77 L315.40,569.66 L315.50,564.82 L315.60,565.37 L315.70,567.10 L315.80,564.58 L315.90,569.79 L316.00,567.62 L316.10,565.97 L316.20,565.70 L316.30,564.92 L316.40,564.42 L316.50,565.92 L316.60,567.98 L316.70,564.64 L316.80,570.05 L316.90,567.07 L317.00,566.23 L317.10,562.37 L317.20,564.57 L317.30,560.42 L317.40,565.47 L317.50,560.57 L317.60,564.74 L317.70,559.78 L317.80,567.95 L317.90,567.02 L318.00,557.17 L318.10,568.12 L318.20,566.98 L318.30,557.65 L318.40,564.44 L318.50,562.56 L318.60,568.46 L318.70,562.03 L318.80,568.61 L318.90,563.55 L319.00,565.46 L319.10,567.36 L319.20,565.83 L319.30,570.41 L319.40,565.44 L319.50,564.28 L319.60,561.48 L319.70,566.21 L319.80,566.83 L319.90,562.71 L320.00,561.42 L320.10,563.85 L320.20,565.17 L320.30,565.82 L320.40,566.78 L320.50,562.94 L320.60,565.39 L320.70,559.92 L320.80,559.74 L320.90,565.00 L321.00,560.98 L321.10,566.31 L321.20,557.17 L321.30,564.26 L321.40,565.18 L321.50,565.24 L321.60,560.62 L321.70,563.06 L321.80,562.18 L321.90,565.14 L322.00,566.55 L322.10,561.70 L322.20,566.72 L322.30,567.50 L322.40,564.65 L322.50,567.93 L322.60,564.64 L322.70,563.54 L322.80,569.89 L322.90,562.10 L323.00,564.63 L323.10,566.76 L323.20,567.79 L323.30,561.50 L323.40,560.62 L323.50,568.22 L323.60,560.98 L323.70,565.85 L323.80,565.09 L323.90,563.42 L324.00,563.37 L324.10,565.64 L324.20,562.85 L324.30,563.14 L324.40,561.70 L324.50,561.20 L324.60,566.14 L324.70,562.61 L324.80,564.21 L324.90,564.82 L325.00,563.29 L325.10,567.70 L325.20,563.96 L325.30,568.24 L325.40,562.00 L325.50,562.37 L325.60,563.95 L325.70,564.30 L325.80,563.42 L325.90,567.81 L326.00,565.82 L326.10,562.83 L326.20,566.58 L326.30,557.90 L326.40,561.97 L326.50,566.10 L326.60,566.45 L326.70,560.80 L326.80,567.14 L326.90,559.01 L327.00,561.78 L327.10,562.74 L327.20,564.96 L327.30,557.32 L327.40,565.53 L327.50,563.23 L327.60,560.83 L327.70,563.46 L327.80,565.71 L327.90,569.71 L328.00,566.47 L328.10,564.50 L328.20,558.59 L328.30,564.28 L328.40,559.70 L328.50,562.64 L328.60,565.76 L328.70,563.93 L328.80,564.32 L328.90,558.73 L329.00,563.11 L329.10,565.27 L329.20,560.67 L329.30,564.94 L329.40,563.54 L329.50,566.96 L329.60,561.38 L329.70,560.29 L329.80,563.37 L329.90,563.89 L330.00,564.54 L330.10,565.82 L330.20,568.87 L330.30,560.74 L330.40,567.79 L330.50,562.87 L330.60,558.01 L330.70,555.86 L330.80,561.96 L330.90,560.57 L331.00,560.94 L331.10,565.28 L331.20,559.37 L331.30,555.67 L331.40,567.43 L331.50,563.80 L331.60,563.40 L331.70,562.28 L331.80,562.77 L331.90,564.56 L332.00,565.92 L332.10,563.29 L332.20,565.16 L332.30,563.89 L332.40,560.36 L332.50,562.12 L332.60,563.95 L332.70,560.48 L332.80,563.26 L332.90,567.49 L333.00,562.62 L333.10,565.25 L333.20,560.68 L333.30,566.12 L333.40,555.25 L333.50,566.41 L333.60,569.04 L333.70,564.24 L333.80,563.37 L333.90,562.39 L334.00,558.98 L334.10,564.63 L334.20,560.03 L334.30,554.07 L334.40,564.32 L334.50,565.81 L334.60,562.93 L334.70,565.61 L334.80,563.54 L334.90,560.60 L335.00,567.03 L335.10,564.16 L335.20,556.78 L335.30,566.41 L335.40,563.55 L335.50,565.06" fill="none" stroke="#6fe03a" stroke-width="0.55" stroke-opacity="1"/>
<line x1="229" y1="578" x2="229" y2="625" stroke="#7fe050" stroke-width="0.9" stroke-linecap="butt"/>
<line x1="231.5" y1="594.6" x2="231.5" y2="620" stroke="#a8ea8a" stroke-width="0.9" stroke-linecap="butt"/>
<line x1="233" y1="598.5" x2="233" y2="628" stroke="#7fe050" stroke-width="0.9" stroke-linecap="butt"/>
<line x1="236" y1="598.74" x2="236" y2="615" stroke="#a8ea8a" stroke-width="0.9" stroke-linecap="butt"/>
<line x1="238" y1="598.9" x2="238" y2="621" stroke="#7fe050" stroke-width="0.9" stroke-linecap="butt"/>
<line x1="240.5" y1="597.89" x2="240.5" y2="618" stroke="#a8ea8a" stroke-width="0.9" stroke-linecap="butt"/>
<line x1="243" y1="595.56" x2="243" y2="610" stroke="#7fe050" stroke-width="0.9" stroke-linecap="butt"/>
<line x1="246.5" y1="592.37" x2="246.5" y2="632" stroke="#a8ea8a" stroke-width="0.9" stroke-linecap="butt"/>
<line x1="249" y1="590.8" x2="249" y2="627" stroke="#7fe050" stroke-width="0.9" stroke-linecap="butt"/>
<line x1="251" y1="589.55" x2="251" y2="635" stroke="#a8ea8a" stroke-width="0.9" stroke-linecap="butt"/>
<line x1="253" y1="588.29" x2="253" y2="623" stroke="#7fe050" stroke-width="0.9" stroke-linecap="butt"/>
<line x1="255.5" y1="586.72" x2="255.5" y2="618" stroke="#a8ea8a" stroke-width="0.9" stroke-linecap="butt"/>
<line x1="258" y1="585.15" x2="258" y2="607" stroke="#7fe050" stroke-width="0.9" stroke-linecap="butt"/>
<line x1="262" y1="582.63" x2="262" y2="605" stroke="#a8ea8a" stroke-width="0.9" stroke-linecap="butt"/>
<line x1="265" y1="580.93" x2="265" y2="610" stroke="#7fe050" stroke-width="0.9" stroke-linecap="butt"/>
<line x1="268" y1="579.51" x2="268" y2="604" stroke="#a8ea8a" stroke-width="0.9" stroke-linecap="butt"/>
<line x1="271" y1="578.09" x2="271" y2="600" stroke="#7fe050" stroke-width="0.9" stroke-linecap="butt"/>
<line x1="274" y1="576.66" x2="274" y2="608" stroke="#a8ea8a" stroke-width="0.9" stroke-linecap="butt"/>
<line x1="277" y1="575.24" x2="277" y2="598" stroke="#7fe050" stroke-width="0.9" stroke-linecap="butt"/>
<line x1="282" y1="573.01" x2="282" y2="594" stroke="#a8ea8a" stroke-width="0.9" stroke-linecap="butt"/>
<line x1="286" y1="571.91" x2="286" y2="600" stroke="#7fe050" stroke-width="0.9" stroke-linecap="butt"/>
<line x1="289.5" y1="570.95" x2="289.5" y2="610" stroke="#a8ea8a" stroke-width="0.9" stroke-linecap="butt"/>
<line x1="293" y1="569.99" x2="293" y2="588" stroke="#7fe050" stroke-width="0.9" stroke-linecap="butt"/>
<line x1="297" y1="568.89" x2="297" y2="592" stroke="#a8ea8a" stroke-width="0.9" stroke-linecap="butt"/>
<line x1="300" y1="568.17" x2="300" y2="588" stroke="#7fe050" stroke-width="0.9" stroke-linecap="butt"/>
<line x1="306" y1="567.01" x2="306" y2="584" stroke="#a8ea8a" stroke-width="0.9" stroke-linecap="butt"/>
<line x1="313" y1="565.66" x2="313" y2="605" stroke="#7fe050" stroke-width="0.9" stroke-linecap="butt"/>
<line x1="318" y1="564.8" x2="318" y2="580" stroke="#a8ea8a" stroke-width="0.9" stroke-linecap="butt"/>
<line x1="324" y1="564.05" x2="324" y2="583" stroke="#7fe050" stroke-width="0.9" stroke-linecap="butt"/>
<line x1="329" y1="563.43" x2="329" y2="571" stroke="#a8ea8a" stroke-width="0.9" stroke-linecap="butt"/>
<line x1="239.5" y1="598.81" x2="239.5" y2="622" stroke="#7fe050" stroke-width="0.9" stroke-linecap="butt"/>
<line x1="241.7" y1="596.77" x2="241.7" y2="630" stroke="#a8ea8a" stroke-width="0.9" stroke-linecap="butt"/>
<line x1="244.5" y1="594.17" x2="244.5" y2="626" stroke="#7fe050" stroke-width="0.9" stroke-linecap="butt"/>
<line x1="247.8" y1="591.56" x2="247.8" y2="612" stroke="#a8ea8a" stroke-width="0.9" stroke-linecap="butt"/>
<line x1="252.2" y1="588.79" x2="252.2" y2="616" stroke="#7fe050" stroke-width="0.9" stroke-linecap="butt"/>
<line x1="256.8" y1="585.9" x2="256.8" y2="620" stroke="#a8ea8a" stroke-width="0.9" stroke-linecap="butt"/>
<line x1="47.1" y1="681" x2="47.1" y2="768" stroke="#000" stroke-width="2" stroke-linecap="butt"/>
<line x1="43.1" y1="681.5" x2="47.1" y2="681.5" stroke="#000" stroke-width="2" stroke-linecap="butt"/>
<text x="41.3" y="685.28" font-size="10.5" text-anchor="end" fill="#000" font-weight="bold" >150</text>
<line x1="43.1" y1="710.6" x2="47.1" y2="710.6" stroke="#000" stroke-width="2" stroke-linecap="butt"/>
<text x="41.3" y="714.38" font-size="10.5" text-anchor="end" fill="#000" font-weight="bold" >100</text>
<line x1="43.1" y1="739" x2="47.1" y2="739" stroke="#000" stroke-width="2" stroke-linecap="butt"/>
<text x="41.3" y="742.78" font-size="10.5" text-anchor="end" fill="#000" font-weight="bold" >50</text>
<line x1="43.1" y1="768" x2="47.1" y2="768" stroke="#000" stroke-width="2" stroke-linecap="butt"/>
<text x="41.3" y="771.78" font-size="10.5" text-anchor="end" fill="#000" font-weight="bold" >0</text>
<line x1="58.5" y1="780.5" x2="170.4" y2="780.5" stroke="#000" stroke-width="2" stroke-linecap="butt"/>
<line x1="58.5" y1="780.5" x2="58.5" y2="785" stroke="#000" stroke-width="2" stroke-linecap="butt"/>
<line x1="114.4" y1="780.5" x2="114.4" y2="785" stroke="#000" stroke-width="2" stroke-linecap="butt"/>
<line x1="170.4" y1="780.5" x2="170.4" y2="785" stroke="#000" stroke-width="2" stroke-linecap="butt"/>
<text x="58.9" y="801" font-size="13" text-anchor="middle" fill="#000" font-weight="bold" >0.00</text>
<text x="114.8" y="801" font-size="13" text-anchor="middle" fill="#000" font-weight="bold" >0.25</text>
<text x="169.6" y="801" font-size="13" text-anchor="middle" fill="#000" font-weight="bold" >0.50</text>
<text x="115.05" y="815" font-size="13.3" text-anchor="middle" fill="#000" font-weight="bold" ><tspan font-weight="normal">Δ</tspan> Free [Ca<tspan font-size="9.3" dy="-4.8">2+</tspan><tspan dy="4.8">]</tspan><tspan font-size="9.3" dy="3">i</tspan><tspan dy="-3"> (μM)</tspan></text>
<line x1="212.3" y1="681.9" x2="212.3" y2="768.7" stroke="#000" stroke-width="2" stroke-linecap="butt"/>
<line x1="208.3" y1="682.4" x2="212.3" y2="682.4" stroke="#000" stroke-width="2" stroke-linecap="butt"/>
<text x="206.5" y="686.18" font-size="10.5" text-anchor="end" fill="#000" font-weight="bold" >150</text>
<line x1="208.3" y1="710.9" x2="212.3" y2="710.9" stroke="#000" stroke-width="2" stroke-linecap="butt"/>
<text x="206.5" y="714.68" font-size="10.5" text-anchor="end" fill="#000" font-weight="bold" >100</text>
<line x1="208.3" y1="739.9" x2="212.3" y2="739.9" stroke="#000" stroke-width="2" stroke-linecap="butt"/>
<text x="206.5" y="743.68" font-size="10.5" text-anchor="end" fill="#000" font-weight="bold" >50</text>
<line x1="208.3" y1="768.7" x2="212.3" y2="768.7" stroke="#000" stroke-width="2" stroke-linecap="butt"/>
<text x="206.5" y="772.48" font-size="10.5" text-anchor="end" fill="#000" font-weight="bold" >0</text>
<line x1="225.2" y1="780.4" x2="335.8" y2="780.4" stroke="#000" stroke-width="2" stroke-linecap="butt"/>
<line x1="225.2" y1="780.4" x2="225.2" y2="784.9" stroke="#000" stroke-width="2" stroke-linecap="butt"/>
<line x1="280.5" y1="780.4" x2="280.5" y2="784.9" stroke="#000" stroke-width="2" stroke-linecap="butt"/>
<line x1="335.8" y1="780.4" x2="335.8" y2="784.9" stroke="#000" stroke-width="2" stroke-linecap="butt"/>
<text x="225.6" y="801" font-size="13" text-anchor="middle" fill="#000" font-weight="bold" >0.00</text>
<text x="280.9" y="801" font-size="13" text-anchor="middle" fill="#000" font-weight="bold" >0.25</text>
<text x="335" y="801" font-size="13" text-anchor="middle" fill="#000" font-weight="bold" >0.50</text>
<text x="278.9" y="815" font-size="13.3" text-anchor="middle" fill="#000" font-weight="bold" ><tspan font-weight="normal">Δ</tspan> Free [Ca<tspan font-size="9.3" dy="-4.8">2+</tspan><tspan dy="4.8">]</tspan><tspan font-size="9.3" dy="3">i</tspan><tspan dy="-3"> (μM)</tspan></text>
<text transform="translate(17.3,723.6) rotate(-90)" font-size="13.5" text-anchor="middle" fill="#000" font-weight="bold" >Integr. I<tspan font-size="9" dy="3">NCX</tspan><tspan dy="-3"> (μM)</tspan></text>
<rect x="66.20" y="738.74" width="3.85" height="1.1" fill="#000"/>
<rect x="58.50" y="751.19" width="1.61" height="1.1" fill="#000"/>
<rect x="59.88" y="747.19" width="4.31" height="1.1" fill="#000"/>
<rect x="116.42" y="695.80" width="3.16" height="1.1" fill="#000"/>
<rect x="58.50" y="761.90" width="1.00" height="1.1" fill="#000"/>
<rect x="58.50" y="758.84" width="1.00" height="1.1" fill="#000"/>
<rect x="78.28" y="727.61" width="2.62" height="1.1" fill="#000"/>
<rect x="71.55" y="733.01" width="3.43" height="1.1" fill="#000"/>
<rect x="119.16" y="694.65" width="2.54" height="1.1" fill="#000"/>
<rect x="90.40" y="713.91" width="4.29" height="1.1" fill="#000"/>
<rect x="59.55" y="749.06" width="2.40" height="1.1" fill="#000"/>
<rect x="58.50" y="751.33" width="1.49" height="1.1" fill="#000"/>
<rect x="90.32" y="741.71" width="2.38" height="1.1" fill="#000"/>
<rect x="145.44" y="702.61" width="4.61" height="1.1" fill="#000"/>
<rect x="122.65" y="715.80" width="2.65" height="1.1" fill="#000"/>
<rect x="71.07" y="764.88" width="4.62" height="1.1" fill="#000"/>
<rect x="115.54" y="720.87" width="4.88" height="1.1" fill="#000"/>
<rect x="95.53" y="736.74" width="4.03" height="1.1" fill="#000"/>
<rect x="123.11" y="715.50" width="4.82" height="1.1" fill="#000"/>
<rect x="85.76" y="746.36" width="4.90" height="1.1" fill="#000"/>
<rect x="74.61" y="759.25" width="2.90" height="1.1" fill="#000"/>
<rect x="109.44" y="725.44" width="2.50" height="1.1" fill="#000"/>
<rect x="128.81" y="711.75" width="2.20" height="1.1" fill="#000"/>
<rect x="114.50" y="721.64" width="3.81" height="1.1" fill="#000"/>
<polygon points="58.5,767.89 58.5,767.89 58.5,752.04 61,752.04 61,750.02 63.3,750.02 63.3,747.02 65.15,747.02 65.15,744.07 67,744.07 67,741.21 68.95,741.21 68.95,738.09 70.9,738.09 70.9,736.73 74,736.73 74,733.31 76.25,733.31 76.25,732.2 78.5,732.2 78.5,729.03 80.25,729.03 80.25,726.53 82,726.53 82,723.02 85.1,723.02 85.1,721.24 87.05,721.24 87.05,719.21 89,719.21 89,715.9 91.35,715.9 91.35,716.61 93.7,716.61 93.7,715.02 95.47,715.02 95.47,712.64 97.23,712.64 97.23,710.91 99,710.91 99,708.18 101,708.18 101,706.3 103,706.3 103,706 105,706 105,703.34 106.67,703.34 106.67,702.52 108.33,702.52 108.33,701.51 110,701.51 110,699.87 112.25,699.87 112.25,699.76 114.5,699.76 114.5,698.56 116.75,698.56 116.75,697.92 119,697.92 119,695.55 120.67,695.55 120.67,695 122.33,695 122.33,693.83 124,693.83 124,693.39 126,693.39 126,692.56 128,692.56 128,691.8 130,691.8 130,693.19 131.8,693.19 131.8,693.09 133.6,693.09 133.6,692.62 135.4,692.62 135.4,692.2 137.09,692.2 137.09,691.26 138.78,691.26 138.78,691.05 140.47,691.05 140.47,691.19 142.16,691.19 142.16,690.67 143.84,690.67 143.84,692.34 145.53,692.34 145.53,691.46 147.22,691.46 147.22,692.53 148.91,692.53 148.91,691.43 150.6,691.43 150.6,692.8 152.5,692.8 152.5,692.97 154.4,692.97 154.4,691.37 156.3,691.37 156.3,692.3 158.15,692.3 158.15,695.48 160,695.48 160,695.93 160,695.93 160,699.7 158,701.65 156.14,701.65 156.14,700.47 154.28,700.47 154.28,699.92 152.42,699.92 152.42,701.47 150.56,701.47 150.56,702.05 148.7,702.05 148.7,701.05 146.96,701.05 146.96,701.39 145.22,701.39 145.22,702.76 143.48,702.76 143.48,705.05 141.74,705.05 141.74,705.34 140,705.34 140,704.58 138.38,704.58 138.38,705.82 136.75,705.82 136.75,706.39 135.12,706.39 135.12,707.22 133.5,707.22 133.5,709.91 131.67,709.91 131.67,709.69 129.83,709.69 129.83,711.88 128,711.88 128,712.87 126.03,712.87 126.03,713.52 124.07,713.52 124.07,716.09 122.1,716.09 122.1,715.91 120.32,715.91 120.32,718.44 118.55,718.44 118.55,718.48 116.78,718.48 116.78,720.51 115,720.51 115,721.31 113.38,721.31 113.38,722.67 111.76,722.67 111.76,725.57 110.14,725.57 110.14,726.39 108.52,726.39 108.52,726.41 106.9,726.41 106.9,729.02 104.93,729.02 104.93,729.04 102.97,729.04 102.97,731.11 101,731.11 101,733.85 99.17,733.85 99.17,734.87 97.33,734.87 97.33,735.11 95.5,735.11 95.5,738.77 93.67,738.77 93.67,738.71 91.83,738.71 91.83,740.62 90,740.62 90,743.65 88.07,743.65 88.07,744.59 86.13,744.59 86.13,746.51 84.2,746.51 84.2,747.98 82.47,747.98 82.47,750.02 80.73,750.02 80.73,753.2 79,753.2 79,754.38 76.85,754.38 76.85,757.94 74.7,757.94 74.7,760.09 72,760.09 72,764.89 70.9,764.89 70.9,768" fill="#000"/>
<polyline points="58.5,768 60.33,765.65 62.15,763.35 63.98,761.09 65.8,758.89 67.63,756.73 69.45,754.62 71.28,752.56 73.1,750.53 74.93,748.55 76.75,746.6 78.58,744.7 80.4,742.83 82.23,741 84.05,739.2 85.88,737.44 87.7,735.71 89.53,734.01 91.35,732.35 93.18,730.71 95,729.11 96.83,727.53 98.65,725.99 100.48,724.47 102.3,722.98 104.13,721.51 105.95,720.07 107.78,718.65 109.6,717.26 111.43,715.89 113.25,714.55 115.08,713.22 116.9,711.92 118.73,710.64 120.55,709.38 122.38,708.14 124.2,706.92 126.03,705.72 127.85,704.54 129.68,703.38 131.5,702.23 133.33,701.1 135.15,699.99 136.98,698.9 138.8,697.82 140.63,696.76 142.45,695.71 144.28,694.68 146.1,693.67 147.93,692.67 149.75,691.68 151.58,690.71 153.4,689.75 155.23,688.8 157.05,687.87 158.88,686.95 160.7,686.05 162.53,685.15 164.36,684.27 166.18,683.4 168.01,682.54" fill="none" stroke="#cdcdcd" stroke-width="1.9" stroke-linecap="round"/>
<rect x="232.37" y="734.16" width="2.93" height="1.1" fill="#6fe03a"/>
<rect x="251.31" y="714.08" width="4.17" height="1.1" fill="#6fe03a"/>
<rect x="259.23" y="705.90" width="3.26" height="1.1" fill="#6fe03a"/>
<rect x="225.30" y="761.10" width="1.00" height="1.1" fill="#6fe03a"/>
<rect x="228.28" y="739.81" width="3.54" height="1.1" fill="#6fe03a"/>
<rect x="257.24" y="708.03" width="2.95" height="1.1" fill="#6fe03a"/>
<rect x="225.30" y="749.05" width="2.12" height="1.1" fill="#6fe03a"/>
<rect x="225.30" y="750.38" width="1.74" height="1.1" fill="#6fe03a"/>
<rect x="261.72" y="724.65" width="2.33" height="1.1" fill="#6fe03a"/>
<rect x="249.33" y="739.70" width="4.77" height="1.1" fill="#6fe03a"/>
<rect x="246.00" y="744.42" width="4.32" height="1.1" fill="#6fe03a"/>
<rect x="254.55" y="732.82" width="4.24" height="1.1" fill="#6fe03a"/>
<rect x="272.15" y="717.00" width="2.87" height="1.1" fill="#6fe03a"/>
<rect x="242.35" y="749.12" width="4.18" height="1.1" fill="#6fe03a"/>
<rect x="252.85" y="734.96" width="2.26" height="1.1" fill="#6fe03a"/>
<rect x="259.98" y="726.26" width="2.63" height="1.1" fill="#6fe03a"/>
<polygon points="225.3,770.5 225.3,770.5 225.3,752.96 227,752.96 227,747.18 229,747.18 229,743.48 232,743.48 232,737.24 235,737.24 235,732.17 236.7,732.17 236.7,732.33 238.4,732.33 238.4,730.46 241,730.46 241,726.9 244.2,726.9 244.2,724.26 246.1,724.26 246.1,723.57 248,723.57 248,722.06 250.2,722.06 250.2,718.22 252.4,718.22 252.4,717.98 254.2,717.98 254.2,715.37 256,715.37 256,712.25 258.25,712.25 258.25,709.01 260.5,709.01 260.5,705.45 262.85,705.45 262.85,704.09 265.2,704.09 265.2,705.11 266.8,705.11 266.8,703.21 268.4,703.21 268.4,704.16 270,704.16 270,702.92 271.74,702.92 271.74,704.35 273.49,704.35 273.49,703.87 275.23,703.87 275.23,703.22 276.97,703.22 276.97,703.01 278.71,703.01 278.71,704.39 280.46,704.39 280.46,702.89 282.2,702.89 282.2,703.35 282.2,703.35 282.2,706 281,709.44 279.33,709.44 279.33,711.71 277.67,711.71 277.67,712.71 276,712.71 276,713.47 274.1,713.47 274.1,717 272.2,717 272.2,717.29 270.47,717.29 270.47,718.01 268.73,718.01 268.73,719.78 267,719.78 267,721.37 265.23,721.37 265.23,721.75 263.47,721.75 263.47,723.32 261.7,723.32 261.7,725.09 259.35,725.09 259.35,728.37 257,728.37 257,730.12 255.25,730.12 255.25,732.87 253.5,732.87 253.5,736.34 251.25,736.34 251.25,739.6 249,739.6 249,741.88 247.15,741.88 247.15,744.66 245.3,744.66 245.3,747.1 243.63,747.1 243.63,747.94 241.97,747.94 241.97,749.58 240.3,749.58 240.3,751.44 238.55,751.44 238.55,757.48 236.8,757.48 236.8,760.88 235,760.88 235,767.11 234.2,767.11 234.2,769.4" fill="#6fe03a"/>
<polyline points="225.2,768.7 226.98,764.37 228.75,760.32 230.53,756.53 232.31,752.97 234.08,749.63 235.86,746.48 237.64,743.51 239.42,740.71 241.19,738.05 242.97,735.54 244.75,733.15 246.52,730.88 248.3,728.72 250.08,726.66 251.85,724.69 253.63,722.82 255.41,721.03 257.19,719.31 258.96,717.67 260.74,716.1 262.52,714.59 264.29,713.14 266.07,711.74 267.85,710.4 269.62,709.11 271.4,707.87 273.18,706.67 274.96,705.52 276.73,704.4 278.51,703.33 280.29,702.29 282.06,701.28 283.84,700.31 285.62,699.37 287.39,698.45 289.17,697.57 290.95,696.71 292.72,695.88 294.5,695.08 296.28,694.29 298.06,693.53 299.83,692.8 301.61,692.08 303.39,691.38 305.16,690.7 306.94,690.04 308.72,689.4 310.49,688.77 312.27,688.16 314.05,687.57 315.83,686.99 317.6,686.42 319.38,685.87 321.16,685.33 322.93,684.81 324.71,684.3 326.49,683.8 328.26,683.31 330.04,682.83 331.82,682.36" fill="none" stroke="#cdcdcd" stroke-width="1.9" stroke-linecap="round"/>
<polyline points="61.7,863.6 65.5,863.6 71.6,854.8 72.8,854.8 72.8,844.9 78.4,844.9 78.4,863.6 175,863.6" fill="none" stroke="#000" stroke-width="2" stroke-linejoin="miter"/>
<line x1="60.6" y1="872" x2="88.3" y2="872" stroke="#000" stroke-width="2.5" stroke-linecap="butt"/>
<text x="74.3" y="886.8" font-size="11.5" text-anchor="middle" fill="#000" font-weight="bold" >500 ms</text>
<line x1="47.5" y1="871.5" x2="47.5" y2="974.3" stroke="#000" stroke-width="2" stroke-linecap="butt"/>
<line x1="43.5" y1="871.5" x2="47.5" y2="871.5" stroke="#000" stroke-width="2" stroke-linecap="butt"/>
<text x="41.7" y="875.28" font-size="10.5" text-anchor="end" fill="#000" font-weight="bold" >150</text>
<line x1="43.5" y1="901.7" x2="47.5" y2="901.7" stroke="#000" stroke-width="2" stroke-linecap="butt"/>
<text x="41.7" y="905.48" font-size="10.5" text-anchor="end" fill="#000" font-weight="bold" >100</text>
<line x1="43.5" y1="931.7" x2="47.5" y2="931.7" stroke="#000" stroke-width="2" stroke-linecap="butt"/>
<text x="41.7" y="935.48" font-size="10.5" text-anchor="end" fill="#000" font-weight="bold" >50</text>
<line x1="43.5" y1="961.7" x2="47.5" y2="961.7" stroke="#000" stroke-width="2" stroke-linecap="butt"/>
<text x="41.7" y="965.48" font-size="10.5" text-anchor="end" fill="#000" font-weight="bold" >0</text>
<text transform="translate(18,924) rotate(-90)" font-size="13.5" text-anchor="middle" fill="#000" font-weight="bold" >[Ca<tspan font-size="9.5" dy="-4.8">2+</tspan><tspan dy="4.8">]</tspan><tspan font-size="9" dy="3">T</tspan><tspan dy="-3"> (μM)</tspan></text>
<polygon points="61.70,953.55 62.40,954.10 63.10,953.90 63.80,953.61 64.50,954.40 65.20,954.40 65.90,954.47 66.60,953.94 67.30,954.60 68.00,954.02 68.70,954.56 69.40,954.27 70.10,954.22 70.80,953.62 71.50,954.71 72.20,954.39 72.90,954.40 73.60,944.09 74.30,927.48 75.00,918.85 75.70,913.17 76.40,913.06 77.10,912.57 77.80,911.75 78.50,911.42 79.20,911.12 79.90,912.29 80.60,912.05 81.30,912.24 82.00,912.41 82.70,913.46 83.40,913.87 84.10,914.20 84.80,914.42 85.50,916.01 86.20,916.60 86.90,916.83 87.60,917.79 88.30,918.25 89.00,919.50 89.70,919.87 90.40,921.42 91.10,921.08 91.80,922.79 92.50,923.34 93.20,923.50 93.90,923.52 94.60,924.41 95.30,925.23 96.00,924.76 96.70,925.72 97.40,926.08 98.10,926.66 98.80,926.88 99.50,927.00 100.20,926.80 100.90,927.99 101.60,927.81 102.30,928.67 103.00,928.92 103.70,929.01 104.40,929.97 105.10,930.36 105.80,929.74 106.50,930.69 107.20,930.74 107.90,931.69 108.60,932.12 109.30,932.12 110.00,932.55 110.70,932.81 111.40,932.64 112.10,933.90 112.80,933.64 113.50,933.65 114.20,934.56 114.90,933.90 115.60,934.73 116.30,934.92 117.00,935.58 117.70,935.83 118.40,935.55 119.10,935.58 119.80,936.30 120.50,936.96 121.20,937.35 121.90,937.63 122.60,937.02 123.30,937.37 124.00,938.06 124.70,938.58 125.40,938.21 126.10,939.12 126.80,938.62 127.50,939.80 128.20,939.60 128.90,939.82 129.60,940.17 130.30,940.88 131.00,940.46 131.70,940.84 132.40,941.17 133.10,941.17 133.80,941.85 134.50,941.21 135.20,941.22 135.90,942.23 136.60,942.00 137.30,941.84 138.00,942.90 138.70,942.90 139.40,942.38 140.10,943.15 140.80,942.94 141.50,942.82 142.20,943.02 142.90,943.35 143.60,943.87 144.30,943.86 145.00,944.23 145.70,944.02 146.40,944.72 147.10,945.15 147.80,945.34 148.50,945.38 149.20,945.76 149.90,945.23 150.60,945.29 151.30,946.26 152.00,945.65 152.70,945.85 153.40,946.71 154.10,946.83 154.80,946.53 155.50,946.24 156.20,947.21 156.90,947.72 157.60,947.34 158.30,947.50 159.00,947.30 159.70,947.37 160.40,948.07 161.10,948.26 161.80,947.97 162.50,948.93 163.20,949.20 163.90,948.34 164.60,948.99 165.30,949.00 166.00,949.39 166.70,949.66 167.40,949.96 168.10,949.50 168.80,950.34 169.50,949.86 170.20,950.41 170.90,951.03 171.60,950.97 172.30,951.05 173.00,951.18 173.70,951.81 174.40,951.11 175.10,951.86 175.80,952.11 176.50,952.37 177.20,952.30 177.90,952.55 177.90,963.46 177.20,963.72 176.50,963.68 175.80,962.93 175.10,963.20 174.40,963.19 173.70,962.89 173.00,962.35 172.30,962.06 171.60,962.43 170.90,962.18 170.20,961.06 169.50,961.07 168.80,961.18 168.10,961.06 167.40,961.35 166.70,960.18 166.00,960.50 165.30,960.37 164.60,960.55 163.90,960.59 163.20,959.39 162.50,960.28 161.80,959.16 161.10,958.92 160.40,959.18 159.70,958.43 159.00,958.29 158.30,958.85 157.60,958.76 156.90,957.81 156.20,958.59 155.50,957.56 154.80,957.96 154.10,957.11 153.40,957.29 152.70,956.72 152.00,957.30 151.30,956.41 150.60,957.27 149.90,957.00 149.20,956.08 148.50,956.49 147.80,955.61 147.10,955.87 146.40,955.59 145.70,955.52 145.00,954.77 144.30,954.88 143.60,954.72 142.90,954.25 142.20,954.44 141.50,954.51 140.80,954.19 140.10,953.65 139.40,953.35 138.70,952.91 138.00,952.85 137.30,953.25 136.60,952.70 135.90,953.21 135.20,952.47 134.50,952.32 133.80,952.68 133.10,951.88 132.40,951.27 131.70,951.59 131.00,951.78 130.30,951.16 129.60,950.30 128.90,950.59 128.20,949.95 127.50,950.06 126.80,950.18 126.10,949.96 125.40,949.06 124.70,949.00 124.00,948.68 123.30,948.65 122.60,948.13 121.90,947.33 121.20,947.54 120.50,947.50 119.80,947.26 119.10,946.30 118.40,946.79 117.70,945.77 117.00,945.37 116.30,945.05 115.60,945.66 114.90,944.99 114.20,944.60 113.50,945.00 112.80,944.58 112.10,944.53 111.40,944.09 110.70,943.51 110.00,943.28 109.30,942.18 108.60,942.13 107.90,942.18 107.20,941.55 106.50,941.60 105.80,940.69 105.10,940.66 104.40,939.54 103.70,940.03 103.00,939.63 102.30,938.99 101.60,938.42 100.90,937.86 100.20,937.86 99.50,937.16 98.80,936.84 98.10,937.41 97.40,936.70 96.70,936.11 96.00,935.29 95.30,935.18 94.60,934.58 93.90,934.37 93.20,934.82 92.50,933.94 91.80,932.58 91.10,931.84 90.40,931.62 89.70,931.36 89.00,930.22 88.30,929.40 87.60,928.51 86.90,927.66 86.20,927.87 85.50,927.03 84.80,925.88 84.10,924.94 83.40,924.36 82.70,924.69 82.00,923.82 81.30,923.80 80.60,923.77 79.90,923.19 79.20,922.31 78.50,923.13 77.80,922.74 77.10,924.24 76.40,924.15 75.70,924.25 75.00,931.02 74.30,939.86 73.60,956.24 72.90,965.98 72.20,965.75 71.50,966.34 70.80,966.05 70.10,966.01 69.40,965.74 68.70,965.97 68.00,966.23 67.30,966.33 66.60,966.10 65.90,966.38 65.20,966.12 64.50,966.36 63.80,965.94 63.10,966.48 62.40,966.16 61.70,966.04" fill="#000" fill-opacity="1"/>
<path d="M61.70,959.62 L61.80,957.78 L61.90,965.50 L62.00,960.37 L62.10,961.59 L62.20,974.06 L62.30,955.90 L62.40,953.56 L62.50,968.43 L62.60,959.99 L62.70,961.25 L62.80,959.84 L62.90,959.75 L63.00,965.95 L63.10,958.10 L63.20,961.88 L63.30,953.34 L63.40,957.83 L63.50,968.38 L63.60,959.74 L63.70,951.88 L63.80,954.29 L63.90,963.56 L64.00,965.61 L64.10,958.44 L64.20,958.69 L64.30,952.18 L64.40,958.67 L64.50,955.77 L64.60,953.76 L64.70,959.72 L64.80,960.95 L64.90,965.46 L65.00,968.21 L65.10,959.98 L65.20,958.11 L65.30,971.44 L65.40,965.69 L65.50,964.33 L65.60,959.26 L65.70,958.87 L65.80,953.49 L65.90,957.69 L66.00,958.24 L66.10,960.55 L66.20,961.84 L66.30,951.83 L66.40,963.07 L66.50,954.67 L66.60,956.97 L66.70,974.52 L66.80,959.78 L66.90,969.38 L67.00,968.15 L67.10,957.04 L67.20,963.62 L67.30,953.02 L67.40,955.46 L67.50,960.11 L67.60,976.42 L67.70,962.02 L67.80,960.51 L67.90,958.05 L68.00,958.09 L68.10,967.56 L68.20,964.56 L68.30,955.31 L68.40,964.80 L68.50,959.64 L68.60,948.78 L68.70,962.99 L68.80,952.34 L68.90,955.96 L69.00,962.08 L69.10,949.93 L69.20,945.45 L69.30,959.68 L69.40,946.76 L69.50,969.83 L69.60,966.87 L69.70,953.77 L69.80,957.34 L69.90,960.37 L70.00,957.69 L70.10,964.36 L70.20,962.46 L70.30,959.33 L70.40,963.20 L70.50,958.04 L70.60,962.19 L70.70,972.16 L70.80,953.17 L70.90,961.64 L71.00,955.26 L71.10,971.44 L71.20,955.02 L71.30,956.29 L71.40,964.18 L71.50,962.57 L71.60,967.13 L71.70,963.91 L71.80,953.52 L71.90,963.50 L72.00,956.75 L72.10,952.68 L72.20,957.92 L72.30,960.72 L72.40,957.98 L72.50,962.10 L72.60,961.22 L72.70,967.19 L72.80,964.23 L72.90,957.38 L73.00,956.45 L73.10,950.10 L73.20,958.65 L73.30,966.08 L73.40,953.27 L73.50,950.83 L73.60,940.99 L73.70,951.48 L73.80,937.34 L73.90,948.63 L74.00,929.48 L74.10,928.47 L74.20,933.64 L74.30,930.91 L74.40,934.10 L74.50,928.83 L74.60,932.54 L74.70,924.87 L74.80,942.31 L74.90,932.62 L75.00,930.63 L75.10,929.79 L75.20,925.11 L75.30,924.13 L75.40,920.85 L75.50,919.83 L75.60,927.96 L75.70,920.72 L75.80,923.07 L75.90,916.06 L76.00,925.33 L76.10,917.88 L76.20,930.42 L76.30,904.96 L76.40,914.32 L76.50,931.51 L76.60,922.59 L76.70,911.60 L76.80,917.08 L76.90,917.32 L77.00,914.66 L77.10,920.67 L77.20,909.48 L77.30,920.72 L77.40,922.06 L77.50,909.86 L77.60,916.99 L77.70,914.60 L77.80,928.04 L77.90,923.58 L78.00,908.96 L78.10,916.98 L78.20,914.97 L78.30,924.59 L78.40,915.28 L78.50,918.72 L78.60,911.56 L78.70,918.95 L78.80,913.70 L78.90,922.88 L79.00,925.87 L79.10,921.30 L79.20,919.29 L79.30,911.69 L79.40,923.78 L79.50,903.00 L79.60,920.75 L79.70,922.75 L79.80,917.78 L79.90,933.14 L80.00,915.01 L80.10,919.57 L80.20,924.99 L80.30,913.02 L80.40,916.46 L80.50,915.52 L80.60,913.98 L80.70,911.32 L80.80,929.62 L80.90,912.71 L81.00,927.00 L81.10,924.90 L81.20,922.67 L81.30,909.34 L81.40,924.18 L81.50,918.59 L81.60,921.38 L81.70,929.45 L81.80,923.77 L81.90,912.57 L82.00,910.75 L82.10,915.57 L82.20,923.42 L82.30,913.59 L82.40,903.54 L82.50,917.72 L82.60,917.92 L82.70,917.11 L82.80,916.55 L82.90,921.22 L83.00,908.72 L83.10,920.06 L83.20,906.96 L83.30,915.85 L83.40,918.95 L83.50,910.26 L83.60,918.22 L83.70,926.52 L83.80,916.68 L83.90,919.67 L84.00,926.77 L84.10,924.35 L84.20,917.48 L84.30,922.78 L84.40,919.45 L84.50,913.48 L84.60,917.52 L84.70,930.43 L84.80,919.87 L84.90,922.53 L85.00,916.52 L85.10,911.39 L85.20,916.16 L85.30,922.14 L85.40,921.65 L85.50,928.59 L85.60,918.22 L85.70,920.90 L85.80,916.05 L85.90,925.17 L86.00,922.01 L86.10,916.35 L86.20,926.51 L86.30,921.34 L86.40,929.14 L86.50,930.11 L86.60,924.19 L86.70,917.37 L86.80,918.84 L86.90,919.14 L87.00,914.12 L87.10,933.24 L87.20,922.54 L87.30,916.53 L87.40,925.95 L87.50,917.46 L87.60,922.41 L87.70,931.70 L87.80,926.49 L87.90,916.17 L88.00,918.49 L88.10,926.39 L88.20,925.14 L88.30,922.63 L88.40,925.23 L88.50,924.58 L88.60,929.02 L88.70,935.37 L88.80,929.58 L88.90,928.49 L89.00,920.55 L89.10,924.75 L89.20,917.97 L89.30,925.84 L89.40,922.51 L89.50,929.38 L89.60,925.44 L89.70,936.18 L89.80,930.05 L89.90,921.27 L90.00,931.49 L90.10,929.69 L90.20,923.28 L90.30,932.23 L90.40,925.39 L90.50,936.58 L90.60,921.08 L90.70,922.85 L90.80,931.54 L90.90,930.42 L91.00,926.79 L91.10,928.26 L91.20,925.92 L91.30,922.74 L91.40,938.02 L91.50,932.94 L91.60,933.77 L91.70,931.00 L91.80,929.56 L91.90,928.97 L92.00,931.16 L92.10,929.36 L92.20,923.12 L92.30,924.98 L92.40,926.29 L92.50,926.32 L92.60,924.82 L92.70,934.45 L92.80,928.17 L92.90,935.87 L93.00,931.04 L93.10,929.80 L93.20,926.94 L93.30,929.26 L93.40,933.54 L93.50,941.95 L93.60,919.71 L93.70,929.37 L93.80,924.12 L93.90,932.37 L94.00,935.68 L94.10,924.46 L94.20,921.76 L94.30,934.24 L94.40,923.00 L94.50,934.04 L94.60,938.06 L94.70,930.39 L94.80,935.64 L94.90,930.96 L95.00,926.22 L95.10,924.57 L95.20,927.09 L95.30,928.63 L95.40,923.43 L95.50,930.85 L95.60,931.14 L95.70,926.48 L95.80,931.90 L95.90,936.23 L96.00,926.72 L96.10,930.79 L96.20,933.60 L96.30,927.75 L96.40,937.52 L96.50,928.83 L96.60,929.61 L96.70,930.77 L96.80,934.05 L96.90,931.40 L97.00,929.19 L97.10,934.03 L97.20,944.88 L97.30,932.27 L97.40,915.76 L97.50,931.23 L97.60,929.83 L97.70,934.70 L97.80,935.53 L97.90,932.71 L98.00,932.17 L98.10,931.20 L98.20,927.83 L98.30,931.98 L98.40,937.59 L98.50,924.04 L98.60,944.53 L98.70,925.62 L98.80,936.30 L98.90,928.39 L99.00,922.13 L99.10,926.97 L99.20,933.36 L99.30,932.90 L99.40,928.64 L99.50,929.29 L99.60,931.37 L99.70,927.96 L99.80,933.35 L99.90,927.98 L100.00,923.09 L100.10,939.81 L100.20,936.19 L100.30,936.00 L100.40,933.13 L100.50,940.17 L100.60,928.99 L100.70,939.92 L100.80,943.08 L100.90,931.09 L101.00,921.75 L101.10,931.46 L101.20,934.60 L101.30,934.02 L101.40,926.93 L101.50,933.41 L101.60,934.86 L101.70,937.86 L101.80,934.35 L101.90,938.91 L102.00,939.76 L102.10,932.11 L102.20,931.08 L102.30,932.46 L102.40,928.53 L102.50,934.46 L102.60,938.18 L102.70,935.04 L102.80,934.25 L102.90,939.18 L103.00,920.67 L103.10,937.31 L103.20,932.36 L103.30,944.39 L103.40,931.30 L103.50,939.01 L103.60,937.34 L103.70,930.91 L103.80,937.60 L103.90,937.41 L104.00,939.05 L104.10,932.63 L104.20,931.30 L104.30,932.05 L104.40,936.17 L104.50,927.08 L104.60,932.18 L104.70,933.66 L104.80,936.39 L104.90,928.01 L105.00,935.26 L105.10,935.09 L105.20,936.32 L105.30,931.45 L105.40,933.61 L105.50,928.15 L105.60,936.77 L105.70,924.22 L105.80,929.66 L105.90,931.58 L106.00,931.83 L106.10,940.83 L106.20,926.13 L106.30,938.49 L106.40,936.45 L106.50,926.54 L106.60,947.03 L106.70,937.00 L106.80,937.30 L106.90,932.95 L107.00,938.49 L107.10,929.06 L107.20,933.97 L107.30,940.90 L107.40,935.35 L107.50,933.07 L107.60,944.11 L107.70,946.04 L107.80,934.26 L107.90,929.72 L108.00,936.98 L108.10,936.59 L108.20,930.14 L108.30,935.23 L108.40,939.73 L108.50,938.67 L108.60,937.66 L108.70,941.34 L108.80,940.76 L108.90,942.58 L109.00,946.15 L109.10,936.98 L109.20,943.49 L109.30,936.38 L109.40,933.34 L109.50,932.84 L109.60,945.12 L109.70,932.39 L109.80,935.21 L109.90,942.18 L110.00,929.26 L110.10,935.77 L110.20,934.33 L110.30,926.90 L110.40,931.33 L110.50,935.73 L110.60,932.78 L110.70,952.48 L110.80,931.53 L110.90,939.19 L111.00,939.15 L111.10,940.83 L111.20,938.09 L111.30,932.36 L111.40,936.68 L111.50,941.51 L111.60,928.76 L111.70,931.77 L111.80,932.40 L111.90,936.25 L112.00,932.33 L112.10,939.79 L112.20,940.93 L112.30,936.03 L112.40,938.95 L112.50,936.08 L112.60,937.64 L112.70,939.73 L112.80,944.95 L112.90,940.79 L113.00,939.60 L113.10,942.00 L113.20,940.67 L113.30,942.27 L113.40,949.36 L113.50,941.06 L113.60,934.22 L113.70,935.16 L113.80,933.10 L113.90,950.63 L114.00,926.51 L114.10,938.90 L114.20,936.19 L114.30,941.04 L114.40,940.96 L114.50,930.75 L114.60,945.57 L114.70,946.16 L114.80,940.14 L114.90,939.24 L115.00,934.41 L115.10,941.54 L115.20,924.37 L115.30,933.07 L115.40,944.73 L115.50,946.88 L115.60,941.03 L115.70,934.72 L115.80,945.79 L115.90,936.89 L116.00,936.35 L116.10,939.16 L116.20,942.37 L116.30,942.39 L116.40,948.86 L116.50,941.47 L116.60,942.66 L116.70,939.76 L116.80,940.78 L116.90,937.63 L117.00,946.52 L117.10,944.02 L117.20,937.42 L117.30,946.31 L117.40,940.26 L117.50,933.73 L117.60,945.34 L117.70,935.09 L117.80,929.21 L117.90,930.83 L118.00,953.55 L118.10,935.44 L118.20,946.34 L118.30,949.07 L118.40,934.26 L118.50,938.73 L118.60,940.08 L118.70,933.63 L118.80,943.54 L118.90,942.20 L119.00,948.52 L119.10,948.73 L119.20,942.92 L119.30,931.17 L119.40,934.54 L119.50,950.28 L119.60,941.17 L119.70,947.02 L119.80,941.28 L119.90,947.89 L120.00,941.33 L120.10,934.28 L120.20,931.62 L120.30,924.82 L120.40,940.63 L120.50,940.94 L120.60,937.99 L120.70,931.53 L120.80,939.60 L120.90,940.77 L121.00,940.46 L121.10,938.16 L121.20,942.41 L121.30,943.10 L121.40,935.55 L121.50,945.26 L121.60,946.52 L121.70,936.30 L121.80,951.27 L121.90,944.67 L122.00,947.34 L122.10,944.23 L122.20,941.37 L122.30,935.05 L122.40,934.68 L122.50,939.89 L122.60,937.76 L122.70,939.75 L122.80,949.75 L122.90,941.69 L123.00,939.69 L123.10,940.16 L123.20,943.55 L123.30,939.11 L123.40,939.82 L123.50,939.93 L123.60,934.92 L123.70,940.62 L123.80,944.84 L123.90,945.59 L124.00,938.28 L124.10,947.94 L124.20,941.57 L124.30,939.52 L124.40,941.32 L124.50,948.40 L124.60,937.10 L124.70,936.79 L124.80,949.35 L124.90,948.79 L125.00,945.87 L125.10,948.00 L125.20,942.48 L125.30,943.96 L125.40,949.36 L125.50,943.80 L125.60,949.53 L125.70,948.18 L125.80,938.15 L125.90,945.86 L126.00,942.65 L126.10,942.74 L126.20,936.23 L126.30,945.28 L126.40,943.84 L126.50,940.35 L126.60,948.89 L126.70,933.05 L126.80,935.55 L126.90,936.39 L127.00,950.65 L127.10,946.48 L127.20,944.49 L127.30,942.45 L127.40,941.45 L127.50,942.59 L127.60,946.86 L127.70,947.54 L127.80,946.39 L127.90,944.59 L128.00,940.71 L128.10,945.31 L128.20,942.22 L128.30,953.21 L128.40,934.96 L128.50,941.05 L128.60,950.45 L128.70,946.22 L128.80,940.70 L128.90,942.59 L129.00,944.04 L129.10,942.70 L129.20,954.32 L129.30,948.91 L129.40,946.64 L129.50,935.21 L129.60,948.12 L129.70,953.57 L129.80,957.39 L129.90,937.34 L130.00,938.61 L130.10,948.77 L130.20,945.90 L130.30,944.99 L130.40,942.69 L130.50,949.33 L130.60,948.77 L130.70,946.84 L130.80,944.56 L130.90,945.78 L131.00,948.63 L131.10,938.15 L131.20,946.60 L131.30,940.26 L131.40,943.46 L131.50,943.42 L131.60,954.62 L131.70,940.61 L131.80,948.86 L131.90,944.59 L132.00,946.79 L132.10,939.56 L132.20,945.13 L132.30,950.59 L132.40,949.42 L132.50,947.51 L132.60,943.53 L132.70,947.08 L132.80,946.34 L132.90,941.63 L133.00,952.00 L133.10,940.95 L133.20,941.99 L133.30,937.56 L133.40,945.71 L133.50,946.60 L133.60,950.99 L133.70,950.22 L133.80,942.49 L133.90,960.20 L134.00,954.79 L134.10,942.69 L134.20,956.01 L134.30,955.52 L134.40,950.12 L134.50,935.13 L134.60,942.95 L134.70,955.30 L134.80,954.36 L134.90,939.88 L135.00,951.08 L135.10,955.53 L135.20,951.41 L135.30,942.87 L135.40,951.27 L135.50,943.41 L135.60,955.23 L135.70,951.30 L135.80,940.30 L135.90,950.74 L136.00,950.49 L136.10,950.65 L136.20,945.61 L136.30,948.88 L136.40,945.05 L136.50,953.13 L136.60,948.61 L136.70,953.22 L136.80,944.75 L136.90,948.01 L137.00,945.05 L137.10,944.46 L137.20,945.75 L137.30,943.38 L137.40,953.59 L137.50,938.35 L137.60,943.02 L137.70,932.57 L137.80,949.66 L137.90,948.25 L138.00,952.06 L138.10,947.78 L138.20,949.88 L138.30,946.71 L138.40,942.27 L138.50,959.80 L138.60,946.18 L138.70,949.10 L138.80,957.12 L138.90,948.92 L139.00,946.91 L139.10,943.47 L139.20,946.59 L139.30,949.10 L139.40,938.36 L139.50,948.95 L139.60,951.83 L139.70,955.03 L139.80,954.71 L139.90,955.76 L140.00,944.53 L140.10,947.51 L140.20,943.98 L140.30,948.07 L140.40,952.60 L140.50,948.40 L140.60,953.08 L140.70,944.21 L140.80,948.99 L140.90,937.49 L141.00,947.99 L141.10,953.25 L141.20,942.75 L141.30,940.86 L141.40,947.01 L141.50,948.65 L141.60,950.62 L141.70,949.74 L141.80,944.96 L141.90,947.16 L142.00,935.87 L142.10,946.61 L142.20,952.19 L142.30,956.43 L142.40,946.07 L142.50,954.70 L142.60,953.28 L142.70,945.03 L142.80,959.46 L142.90,950.36 L143.00,949.71 L143.10,944.91 L143.20,939.31 L143.30,955.17 L143.40,952.39 L143.50,945.36 L143.60,954.43 L143.70,943.85 L143.80,952.51 L143.90,935.64 L144.00,944.21 L144.10,947.91 L144.20,954.19 L144.30,962.78 L144.40,947.51 L144.50,950.57 L144.60,949.14 L144.70,946.63 L144.80,942.68 L144.90,955.35 L145.00,953.12 L145.10,958.17 L145.20,956.89 L145.30,959.89 L145.40,951.85 L145.50,941.71 L145.60,936.27 L145.70,953.97 L145.80,935.50 L145.90,947.32 L146.00,954.31 L146.10,949.41 L146.20,957.28 L146.30,947.27 L146.40,944.66 L146.50,951.49 L146.60,952.91 L146.70,951.17 L146.80,945.32 L146.90,949.75 L147.00,956.89 L147.10,951.84 L147.20,953.93 L147.30,949.07 L147.40,942.16 L147.50,958.57 L147.60,954.80 L147.70,936.07 L147.80,958.97 L147.90,964.69 L148.00,941.56 L148.10,952.87 L148.20,941.20 L148.30,947.26 L148.40,953.69 L148.50,940.54 L148.60,952.17 L148.70,949.18 L148.80,952.07 L148.90,953.83 L149.00,961.61 L149.10,943.81 L149.20,961.47 L149.30,954.22 L149.40,949.63 L149.50,957.44 L149.60,944.92 L149.70,948.98 L149.80,952.95 L149.90,954.15 L150.00,952.54 L150.10,949.80 L150.20,954.34 L150.30,944.15 L150.40,949.31 L150.50,953.28 L150.60,950.41 L150.70,947.77 L150.80,959.90 L150.90,953.87 L151.00,955.43 L151.10,955.21 L151.20,937.01 L151.30,954.83 L151.40,946.26 L151.50,952.59 L151.60,951.23 L151.70,954.55 L151.80,952.50 L151.90,951.74 L152.00,952.57 L152.10,943.48 L152.20,951.59 L152.30,956.26 L152.40,952.05 L152.50,947.72 L152.60,948.04 L152.70,949.54 L152.80,956.44 L152.90,945.74 L153.00,955.18 L153.10,955.23 L153.20,949.71 L153.30,954.25 L153.40,949.62 L153.50,951.05 L153.60,955.19 L153.70,949.11 L153.80,950.32 L153.90,958.90 L154.00,956.83 L154.10,939.49 L154.20,952.26 L154.30,958.56 L154.40,952.16 L154.50,947.95 L154.60,947.59 L154.70,944.28 L154.80,953.10 L154.90,950.04 L155.00,953.06 L155.10,957.00 L155.20,943.57 L155.30,946.47 L155.40,952.20 L155.50,946.01 L155.60,952.80 L155.70,947.34 L155.80,952.35 L155.90,957.52 L156.00,943.85 L156.10,948.58 L156.20,943.43 L156.30,953.66 L156.40,949.31 L156.50,953.08 L156.60,965.10 L156.70,947.23 L156.80,960.89 L156.90,960.00 L157.00,949.45 L157.10,964.96 L157.20,962.80 L157.30,956.17 L157.40,960.71 L157.50,950.80 L157.60,950.88 L157.70,959.33 L157.80,945.91 L157.90,940.87 L158.00,947.38 L158.10,949.13 L158.20,956.49 L158.30,954.20 L158.40,949.24 L158.50,950.82 L158.60,946.84 L158.70,956.25 L158.80,960.62 L158.90,947.03 L159.00,964.38 L159.10,960.65 L159.20,950.99 L159.30,951.06 L159.40,957.24 L159.50,964.19 L159.60,955.84 L159.70,953.27 L159.80,949.22 L159.90,953.73 L160.00,958.44 L160.10,949.32 L160.20,958.92 L160.30,948.67 L160.40,956.50 L160.50,956.36 L160.60,952.91 L160.70,954.21 L160.80,946.61 L160.90,957.18 L161.00,951.30 L161.10,950.20 L161.20,953.16 L161.30,957.95 L161.40,959.56 L161.50,953.15 L161.60,949.04 L161.70,952.23 L161.80,948.00 L161.90,940.24 L162.00,956.17 L162.10,958.00 L162.20,955.94 L162.30,958.14 L162.40,958.32 L162.50,947.47 L162.60,958.76 L162.70,962.58 L162.80,956.71 L162.90,953.19 L163.00,954.40 L163.10,951.67 L163.20,954.80 L163.30,946.89 L163.40,954.96 L163.50,957.83 L163.60,957.64 L163.70,948.67 L163.80,954.11 L163.90,954.00 L164.00,964.37 L164.10,950.52 L164.20,959.01 L164.30,950.45 L164.40,950.54 L164.50,948.52 L164.60,956.39 L164.70,946.14 L164.80,963.09 L164.90,947.90 L165.00,959.58 L165.10,952.53 L165.20,941.26 L165.30,947.32 L165.40,958.06 L165.50,939.66 L165.60,951.06 L165.70,960.69 L165.80,955.54 L165.90,951.96 L166.00,952.39 L166.10,959.08 L166.20,966.72 L166.30,959.68 L166.40,945.45 L166.50,952.86 L166.60,945.90 L166.70,955.07 L166.80,963.95 L166.90,958.23 L167.00,954.98 L167.10,953.24 L167.20,941.67 L167.30,948.84 L167.40,954.17 L167.50,961.85 L167.60,950.24 L167.70,952.65 L167.80,956.94 L167.90,938.48 L168.00,952.26 L168.10,949.81 L168.20,963.10 L168.30,952.48 L168.40,947.54 L168.50,954.82 L168.60,960.86 L168.70,949.85 L168.80,961.51 L168.90,964.82 L169.00,946.33 L169.10,957.51 L169.20,957.38 L169.30,955.21 L169.40,962.31 L169.50,960.52 L169.60,945.75 L169.70,954.30 L169.80,951.08 L169.90,951.13 L170.00,956.77 L170.10,949.01 L170.20,952.73 L170.30,957.38 L170.40,963.78 L170.50,952.80 L170.60,961.21 L170.70,963.44 L170.80,951.87 L170.90,955.13 L171.00,952.43 L171.10,957.03 L171.20,961.57 L171.30,964.60 L171.40,958.85 L171.50,949.15 L171.60,954.36 L171.70,946.55 L171.80,969.41 L171.90,958.85 L172.00,957.46 L172.10,958.49 L172.20,960.53 L172.30,953.75 L172.40,962.24 L172.50,953.29 L172.60,960.80 L172.70,956.56 L172.80,957.67 L172.90,956.36 L173.00,959.45 L173.10,951.86 L173.20,956.39 L173.30,950.83 L173.40,951.03 L173.50,952.03 L173.60,959.76 L173.70,950.02 L173.80,955.64 L173.90,957.12 L174.00,958.13 L174.10,959.23 L174.20,949.47 L174.30,964.31 L174.40,949.15 L174.50,956.86 L174.60,950.87 L174.70,969.85 L174.80,945.25 L174.90,960.97 L175.00,959.11 L175.10,952.37 L175.20,956.79 L175.30,959.50 L175.40,957.15 L175.50,960.67 L175.60,961.85 L175.70,944.99 L175.80,952.27 L175.90,951.15 L176.00,953.36 L176.10,964.33 L176.20,952.52 L176.30,952.57 L176.40,956.15 L176.50,961.53 L176.60,958.03 L176.70,966.22 L176.80,961.87 L176.90,955.22 L177.00,956.74 L177.10,961.29 L177.20,949.37 L177.30,967.65 L177.40,959.94 L177.50,961.13 L177.60,958.46 L177.70,955.95 L177.80,961.84 L177.90,952.73 L178.00,952.04 L178.10,952.81 L178.20,955.82 L178.30,957.21" fill="none" stroke="#000" stroke-width="0.55" stroke-opacity="1"/>
<polyline points="228.4,863.5 232.9,863.5 239.1,854.8 239.8,854.8 239.8,844.9 245,844.9 245,863.5 341.8,863.5" fill="none" stroke="#000" stroke-width="2" stroke-linejoin="miter"/>
<line x1="227.6" y1="872.7" x2="255.2" y2="872.7" stroke="#000" stroke-width="2.5" stroke-linecap="butt"/>
<text x="241.2" y="886.6" font-size="11.5" text-anchor="middle" fill="#000" font-weight="bold" >500 ms</text>
<line x1="212.3" y1="872.7" x2="212.3" y2="974.4" stroke="#000" stroke-width="2" stroke-linecap="butt"/>
<line x1="208.3" y1="872.7" x2="212.3" y2="872.7" stroke="#000" stroke-width="2" stroke-linecap="butt"/>
<text x="206.5" y="876.48" font-size="10.5" text-anchor="end" fill="#000" font-weight="bold" >150</text>
<line x1="208.3" y1="902.5" x2="212.3" y2="902.5" stroke="#000" stroke-width="2" stroke-linecap="butt"/>
<text x="206.5" y="906.28" font-size="10.5" text-anchor="end" fill="#000" font-weight="bold" >100</text>
<line x1="208.3" y1="932.2" x2="212.3" y2="932.2" stroke="#000" stroke-width="2" stroke-linecap="butt"/>
<text x="206.5" y="935.98" font-size="10.5" text-anchor="end" fill="#000" font-weight="bold" >50</text>
<line x1="208.3" y1="962" x2="212.3" y2="962" stroke="#000" stroke-width="2" stroke-linecap="butt"/>
<text x="206.5" y="965.78" font-size="10.5" text-anchor="end" fill="#000" font-weight="bold" >0</text>
<polygon points="225.90,953.44 226.60,952.61 227.30,953.08 228.00,952.50 228.70,952.62 229.40,953.12 230.10,953.08 230.80,952.73 231.50,952.87 232.20,952.87 232.90,952.91 233.60,952.31 234.30,952.72 235.00,952.45 235.70,953.37 236.40,952.91 237.10,945.18 237.80,933.20 238.50,919.83 239.20,913.99 239.90,907.16 240.60,906.43 241.30,905.55 242.00,904.76 242.70,904.12 243.40,903.09 244.10,903.09 244.80,903.67 245.50,903.40 246.20,904.17 246.90,903.60 247.60,904.01 248.30,903.91 249.00,904.66 249.70,904.44 250.40,905.37 251.10,906.27 251.80,906.73 252.50,906.99 253.20,907.85 253.90,908.30 254.60,909.67 255.30,910.29 256.00,910.48 256.70,911.85 257.40,912.52 258.10,912.35 258.80,913.00 259.50,913.94 260.20,914.46 260.90,914.17 261.60,914.97 262.30,915.58 263.00,915.79 263.70,915.83 264.40,916.53 265.10,916.87 265.80,917.16 266.50,917.65 267.20,917.33 267.90,917.36 268.60,917.62 269.30,918.24 270.00,918.98 270.70,919.13 271.40,920.13 272.10,919.73 272.80,919.86 273.50,920.22 274.20,920.73 274.90,920.67 275.60,921.41 276.30,922.55 277.00,921.79 277.70,922.36 278.40,923.33 279.10,923.97 279.80,923.60 280.50,923.98 281.20,924.54 281.90,924.54 282.60,925.90 283.30,925.86 284.00,925.54 284.70,926.09 285.40,926.94 286.10,927.79 286.80,927.13 287.50,927.94 288.20,928.59 288.90,929.17 289.60,928.66 290.30,928.94 291.00,929.32 291.70,929.74 292.40,930.20 293.10,931.41 293.80,930.94 294.50,932.05 295.20,932.22 295.90,932.97 296.60,933.46 297.30,933.56 298.00,933.54 298.70,933.89 299.40,934.39 300.10,934.63 300.80,934.52 301.50,935.52 302.20,936.00 302.90,935.94 303.60,936.71 304.30,937.19 305.00,936.91 305.70,937.21 306.40,937.18 307.10,937.57 307.80,938.00 308.50,938.67 309.20,939.42 309.90,939.21 310.60,940.27 311.30,939.56 312.00,940.47 312.70,940.40 313.40,941.48 314.10,941.74 314.80,941.81 315.50,941.63 316.20,942.25 316.90,943.06 317.60,942.45 318.30,943.24 319.00,943.91 319.70,943.29 320.40,944.08 321.10,944.89 321.80,944.84 322.50,945.45 323.20,945.36 323.90,945.77 324.60,946.13 325.30,946.06 326.00,946.38 326.70,947.04 327.40,946.94 328.10,946.76 328.80,947.75 329.50,947.62 330.20,948.26 330.90,947.81 331.60,948.15 332.30,948.82 333.00,948.94 333.70,948.99 334.40,949.67 335.10,949.92 335.80,949.94 336.50,950.06 337.20,950.62 337.90,950.37 338.60,950.21 339.30,950.62 340.00,950.40 340.70,951.06 341.40,951.24 342.10,951.13 342.80,950.87 342.80,961.41 342.10,961.45 341.40,961.47 340.70,961.69 340.00,961.75 339.30,961.02 338.60,960.90 337.90,960.78 337.20,960.68 336.50,961.10 335.80,960.84 335.10,960.50 334.40,959.80 333.70,960.63 333.00,959.62 332.30,959.66 331.60,959.60 330.90,958.43 330.20,958.59 329.50,958.58 328.80,957.87 328.10,958.07 327.40,957.27 326.70,956.90 326.00,957.46 325.30,956.20 324.60,955.80 323.90,956.55 323.20,955.56 322.50,956.03 321.80,954.69 321.10,954.57 320.40,954.39 319.70,954.47 319.00,953.71 318.30,954.26 317.60,953.67 316.90,952.73 316.20,952.49 315.50,953.15 314.80,952.45 314.10,951.63 313.40,951.09 312.70,951.73 312.00,950.47 311.30,951.02 310.60,949.86 309.90,949.69 309.20,949.43 308.50,949.26 307.80,948.36 307.10,948.64 306.40,947.95 305.70,948.32 305.00,947.34 304.30,946.99 303.60,946.53 302.90,946.31 302.20,945.70 301.50,946.18 300.80,945.37 300.10,944.36 299.40,944.54 298.70,943.89 298.00,943.24 297.30,943.63 296.60,942.86 295.90,942.97 295.20,942.47 294.50,942.44 293.80,941.80 293.10,941.02 292.40,940.94 291.70,940.47 291.00,939.64 290.30,939.33 289.60,939.44 288.90,938.73 288.20,938.55 287.50,938.49 286.80,937.16 286.10,936.80 285.40,937.15 284.70,936.83 284.00,936.06 283.30,935.37 282.60,935.04 281.90,935.34 281.20,934.84 280.50,934.52 279.80,933.72 279.10,933.36 278.40,933.50 277.70,932.66 277.00,932.55 276.30,932.10 275.60,931.31 274.90,930.63 274.20,930.28 273.50,930.59 272.80,930.59 272.10,930.05 271.40,929.17 270.70,929.53 270.00,928.38 269.30,928.19 268.60,928.20 267.90,928.04 267.20,927.43 266.50,926.57 265.80,926.84 265.10,926.90 264.40,926.04 263.70,926.15 263.00,925.08 262.30,925.19 261.60,924.09 260.90,924.62 260.20,923.47 259.50,923.74 258.80,923.45 258.10,922.54 257.40,922.66 256.70,921.34 256.00,920.68 255.30,920.67 254.60,919.34 253.90,919.26 253.20,917.92 252.50,917.58 251.80,916.74 251.10,916.10 250.40,914.99 249.70,914.78 249.00,913.99 248.30,913.92 247.60,913.80 246.90,913.59 246.20,914.45 245.50,914.26 244.80,913.25 244.10,914.14 243.40,913.08 242.70,913.55 242.00,914.30 241.30,916.02 240.60,916.72 239.90,918.16 239.20,923.76 238.50,929.93 237.80,944.12 237.10,956.02 236.40,964.09 235.70,963.74 235.00,964.24 234.30,963.92 233.60,964.70 232.90,963.58 232.20,963.99 231.50,963.60 230.80,964.39 230.10,964.28 229.40,964.70 228.70,964.54 228.00,963.81 227.30,963.60 226.60,964.63 225.90,963.81" fill="#6fe03a" fill-opacity="1"/>
<path d="M225.90,955.22 L226.00,962.42 L226.10,956.38 L226.20,963.19 L226.30,964.33 L226.40,958.24 L226.50,967.35 L226.60,954.92 L226.70,963.25 L226.80,954.73 L226.90,960.44 L227.00,952.42 L227.10,951.26 L227.20,960.04 L227.30,959.94 L227.40,964.24 L227.50,959.05 L227.60,963.86 L227.70,959.69 L227.80,950.95 L227.90,967.66 L228.00,965.20 L228.10,965.28 L228.20,960.40 L228.30,959.83 L228.40,965.39 L228.50,958.15 L228.60,958.88 L228.70,950.95 L228.80,957.01 L228.90,955.81 L229.00,950.24 L229.10,957.69 L229.20,960.87 L229.30,948.98 L229.40,961.47 L229.50,959.41 L229.60,953.05 L229.70,960.70 L229.80,959.34 L229.90,953.86 L230.00,965.11 L230.10,958.55 L230.20,962.25 L230.30,960.25 L230.40,955.80 L230.50,953.80 L230.60,954.56 L230.70,959.45 L230.80,960.76 L230.90,961.15 L231.00,973.99 L231.10,958.79 L231.20,963.82 L231.30,966.75 L231.40,958.87 L231.50,948.82 L231.60,960.79 L231.70,960.66 L231.80,963.52 L231.90,955.31 L232.00,958.92 L232.10,966.08 L232.20,953.15 L232.30,960.74 L232.40,950.83 L232.50,960.72 L232.60,955.82 L232.70,957.30 L232.80,957.64 L232.90,959.54 L233.00,967.86 L233.10,954.95 L233.20,955.42 L233.30,961.83 L233.40,961.23 L233.50,954.14 L233.60,967.40 L233.70,959.35 L233.80,959.06 L233.90,956.38 L234.00,959.52 L234.10,949.98 L234.20,954.86 L234.30,963.18 L234.40,962.88 L234.50,947.54 L234.60,961.48 L234.70,957.28 L234.80,959.40 L234.90,955.99 L235.00,962.72 L235.10,951.78 L235.20,962.66 L235.30,953.81 L235.40,957.06 L235.50,963.78 L235.60,959.36 L235.70,956.67 L235.80,956.47 L235.90,961.68 L236.00,952.88 L236.10,961.95 L236.20,958.25 L236.30,959.43 L236.40,953.42 L236.50,958.77 L236.60,955.89 L236.70,959.99 L236.80,953.43 L236.90,953.22 L237.00,945.81 L237.10,952.59 L237.20,950.50 L237.30,941.28 L237.40,946.40 L237.50,938.91 L237.60,949.50 L237.70,935.89 L237.80,932.41 L237.90,935.60 L238.00,936.05 L238.10,931.70 L238.20,921.92 L238.30,922.55 L238.40,918.23 L238.50,933.72 L238.60,929.36 L238.70,929.94 L238.80,914.45 L238.90,931.33 L239.00,926.99 L239.10,913.78 L239.20,916.87 L239.30,910.19 L239.40,915.91 L239.50,916.11 L239.60,923.71 L239.70,920.93 L239.80,909.98 L239.90,914.20 L240.00,909.44 L240.10,916.30 L240.20,902.08 L240.30,904.98 L240.40,913.23 L240.50,908.29 L240.60,907.12 L240.70,905.92 L240.80,910.70 L240.90,911.85 L241.00,909.71 L241.10,901.40 L241.20,911.01 L241.30,919.05 L241.40,920.54 L241.50,917.87 L241.60,902.20 L241.70,911.39 L241.80,909.11 L241.90,915.63 L242.00,907.92 L242.10,907.46 L242.20,911.25 L242.30,921.40 L242.40,914.26 L242.50,901.25 L242.60,915.90 L242.70,912.34 L242.80,910.37 L242.90,909.07 L243.00,919.93 L243.10,899.51 L243.20,904.82 L243.30,902.27 L243.40,917.81 L243.50,912.77 L243.60,905.49 L243.70,909.36 L243.80,905.88 L243.90,907.97 L244.00,909.14 L244.10,911.95 L244.20,914.69 L244.30,905.06 L244.40,902.86 L244.50,903.96 L244.60,907.80 L244.70,910.28 L244.80,904.50 L244.90,899.56 L245.00,912.99 L245.10,897.89 L245.20,908.08 L245.30,909.06 L245.40,913.02 L245.50,917.62 L245.60,899.40 L245.70,899.45 L245.80,910.91 L245.90,894.94 L246.00,908.42 L246.10,909.40 L246.20,913.63 L246.30,908.79 L246.40,912.26 L246.50,911.31 L246.60,905.11 L246.70,906.28 L246.80,912.11 L246.90,908.68 L247.00,913.02 L247.10,909.49 L247.20,903.54 L247.30,909.58 L247.40,913.11 L247.50,910.91 L247.60,910.12 L247.70,902.11 L247.80,909.16 L247.90,907.71 L248.00,916.73 L248.10,897.54 L248.20,903.41 L248.30,906.68 L248.40,914.76 L248.50,908.27 L248.60,908.06 L248.70,910.56 L248.80,910.19 L248.90,913.27 L249.00,904.31 L249.10,900.83 L249.20,912.58 L249.30,907.81 L249.40,907.91 L249.50,908.70 L249.60,914.82 L249.70,917.53 L249.80,918.83 L249.90,913.57 L250.00,909.04 L250.10,910.54 L250.20,899.89 L250.30,908.65 L250.40,909.16 L250.50,903.50 L250.60,906.46 L250.70,908.49 L250.80,908.61 L250.90,920.37 L251.00,923.28 L251.10,913.37 L251.20,917.36 L251.30,910.63 L251.40,917.49 L251.50,913.46 L251.60,910.66 L251.70,914.95 L251.80,917.12 L251.90,912.88 L252.00,915.83 L252.10,910.90 L252.20,913.11 L252.30,912.98 L252.40,919.23 L252.50,914.73 L252.60,916.30 L252.70,906.23 L252.80,922.84 L252.90,910.77 L253.00,917.18 L253.10,914.48 L253.20,912.79 L253.30,914.57 L253.40,917.13 L253.50,915.60 L253.60,908.51 L253.70,909.14 L253.80,918.43 L253.90,915.57 L254.00,915.46 L254.10,910.93 L254.20,920.00 L254.30,914.36 L254.40,921.06 L254.50,912.13 L254.60,910.79 L254.70,915.04 L254.80,913.06 L254.90,910.31 L255.00,923.16 L255.10,911.44 L255.20,917.90 L255.30,914.92 L255.40,915.40 L255.50,915.80 L255.60,917.57 L255.70,909.63 L255.80,914.11 L255.90,913.82 L256.00,910.72 L256.10,909.46 L256.20,915.21 L256.30,918.59 L256.40,920.96 L256.50,911.19 L256.60,923.91 L256.70,911.95 L256.80,917.54 L256.90,920.89 L257.00,903.48 L257.10,919.18 L257.20,925.16 L257.30,908.07 L257.40,920.48 L257.50,915.62 L257.60,912.34 L257.70,907.30 L257.80,916.07 L257.90,916.99 L258.00,910.40 L258.10,922.08 L258.20,913.09 L258.30,919.27 L258.40,913.72 L258.50,916.04 L258.60,920.26 L258.70,919.05 L258.80,923.83 L258.90,924.83 L259.00,915.73 L259.10,917.45 L259.20,912.67 L259.30,915.06 L259.40,920.02 L259.50,923.22 L259.60,915.59 L259.70,916.71 L259.80,909.72 L259.90,924.52 L260.00,919.91 L260.10,918.96 L260.20,919.36 L260.30,919.62 L260.40,911.34 L260.50,912.34 L260.60,916.11 L260.70,916.78 L260.80,923.94 L260.90,914.16 L261.00,925.15 L261.10,917.62 L261.20,918.56 L261.30,921.55 L261.40,919.61 L261.50,921.67 L261.60,919.71 L261.70,915.96 L261.80,923.86 L261.90,912.03 L262.00,925.72 L262.10,917.30 L262.20,915.55 L262.30,924.08 L262.40,924.84 L262.50,914.49 L262.60,916.80 L262.70,923.81 L262.80,913.94 L262.90,919.54 L263.00,914.82 L263.10,918.27 L263.20,911.45 L263.30,924.02 L263.40,915.52 L263.50,918.02 L263.60,921.08 L263.70,918.76 L263.80,921.58 L263.90,923.65 L264.00,923.92 L264.10,926.70 L264.20,914.59 L264.30,921.73 L264.40,919.79 L264.50,918.07 L264.60,927.41 L264.70,920.14 L264.80,920.13 L264.90,925.58 L265.00,920.73 L265.10,918.45 L265.20,906.22 L265.30,921.88 L265.40,922.24 L265.50,922.00 L265.60,915.57 L265.70,916.28 L265.80,916.50 L265.90,917.77 L266.00,919.93 L266.10,921.11 L266.20,910.90 L266.30,927.30 L266.40,917.66 L266.50,921.74 L266.60,925.32 L266.70,928.69 L266.80,924.19 L266.90,934.86 L267.00,926.53 L267.10,919.61 L267.20,924.63 L267.30,926.16 L267.40,926.84 L267.50,926.33 L267.60,924.24 L267.70,916.62 L267.80,919.71 L267.90,920.61 L268.00,929.19 L268.10,924.77 L268.20,924.71 L268.30,925.78 L268.40,920.05 L268.50,920.87 L268.60,925.46 L268.70,915.14 L268.80,919.20 L268.90,922.05 L269.00,916.84 L269.10,926.06 L269.20,922.55 L269.30,932.75 L269.40,918.53 L269.50,920.92 L269.60,930.84 L269.70,921.30 L269.80,925.21 L269.90,923.90 L270.00,926.63 L270.10,924.38 L270.20,926.66 L270.30,924.30 L270.40,921.86 L270.50,928.98 L270.60,927.88 L270.70,919.26 L270.80,924.48 L270.90,928.70 L271.00,929.02 L271.10,921.91 L271.20,925.66 L271.30,920.97 L271.40,924.66 L271.50,927.53 L271.60,925.60 L271.70,931.65 L271.80,928.87 L271.90,924.64 L272.00,921.91 L272.10,924.67 L272.20,925.88 L272.30,925.69 L272.40,926.21 L272.50,928.47 L272.60,929.31 L272.70,930.73 L272.80,919.78 L272.90,927.20 L273.00,926.08 L273.10,921.93 L273.20,929.22 L273.30,929.43 L273.40,923.15 L273.50,936.42 L273.60,930.39 L273.70,923.92 L273.80,923.77 L273.90,927.16 L274.00,924.26 L274.10,922.10 L274.20,925.41 L274.30,931.00 L274.40,930.54 L274.50,932.07 L274.60,926.19 L274.70,932.42 L274.80,918.95 L274.90,929.93 L275.00,922.75 L275.10,926.53 L275.20,918.84 L275.30,927.41 L275.40,928.92 L275.50,928.78 L275.60,936.64 L275.70,920.04 L275.80,926.01 L275.90,919.92 L276.00,929.89 L276.10,928.25 L276.20,927.45 L276.30,932.47 L276.40,924.06 L276.50,926.58 L276.60,920.90 L276.70,926.19 L276.80,921.02 L276.90,924.62 L277.00,917.88 L277.10,925.46 L277.20,928.40 L277.30,920.40 L277.40,933.01 L277.50,931.69 L277.60,921.56 L277.70,925.74 L277.80,925.35 L277.90,934.59 L278.00,925.86 L278.10,932.59 L278.20,928.25 L278.30,920.04 L278.40,933.08 L278.50,927.22 L278.60,924.75 L278.70,936.32 L278.80,922.37 L278.90,927.79 L279.00,930.81 L279.10,927.68 L279.20,929.47 L279.30,924.90 L279.40,932.19 L279.50,930.31 L279.60,932.68 L279.70,920.86 L279.80,932.62 L279.90,931.44 L280.00,927.25 L280.10,935.72 L280.20,934.81 L280.30,931.33 L280.40,919.53 L280.50,934.53 L280.60,931.33 L280.70,927.22 L280.80,919.91 L280.90,922.61 L281.00,934.43 L281.10,927.74 L281.20,923.23 L281.30,923.02 L281.40,924.55 L281.50,930.73 L281.60,931.94 L281.70,932.76 L281.80,922.36 L281.90,928.77 L282.00,924.70 L282.10,925.76 L282.20,924.92 L282.30,937.60 L282.40,929.05 L282.50,927.63 L282.60,926.92 L282.70,933.44 L282.80,933.00 L282.90,934.55 L283.00,926.09 L283.10,936.53 L283.20,936.03 L283.30,925.71 L283.40,935.20 L283.50,928.80 L283.60,928.15 L283.70,937.79 L283.80,935.42 L283.90,933.30 L284.00,929.34 L284.10,929.22 L284.20,927.64 L284.30,928.04 L284.40,930.80 L284.50,935.42 L284.60,931.72 L284.70,937.33 L284.80,935.26 L284.90,933.64 L285.00,929.13 L285.10,925.16 L285.20,933.56 L285.30,935.44 L285.40,932.71 L285.50,932.67 L285.60,933.14 L285.70,933.83 L285.80,935.60 L285.90,936.39 L286.00,926.49 L286.10,932.06 L286.20,934.35 L286.30,928.16 L286.40,927.10 L286.50,934.93 L286.60,942.79 L286.70,928.22 L286.80,931.97 L286.90,926.36 L287.00,929.57 L287.10,928.85 L287.20,932.25 L287.30,935.16 L287.40,931.14 L287.50,941.07 L287.60,932.88 L287.70,933.34 L287.80,942.63 L287.90,930.96 L288.00,926.39 L288.10,931.62 L288.20,929.72 L288.30,930.37 L288.40,931.72 L288.50,930.93 L288.60,932.08 L288.70,933.44 L288.80,936.47 L288.90,938.46 L289.00,933.05 L289.10,925.85 L289.20,927.69 L289.30,938.87 L289.40,933.28 L289.50,940.12 L289.60,926.94 L289.70,933.94 L289.80,940.22 L289.90,931.56 L290.00,931.89 L290.10,936.04 L290.20,933.21 L290.30,934.45 L290.40,932.90 L290.50,932.26 L290.60,929.49 L290.70,934.52 L290.80,935.97 L290.90,937.55 L291.00,933.15 L291.10,931.89 L291.20,924.62 L291.30,938.07 L291.40,935.03 L291.50,927.45 L291.60,934.41 L291.70,927.52 L291.80,935.30 L291.90,932.51 L292.00,934.29 L292.10,934.15 L292.20,936.64 L292.30,936.53 L292.40,933.38 L292.50,933.29 L292.60,939.90 L292.70,929.72 L292.80,938.87 L292.90,936.18 L293.00,938.80 L293.10,936.74 L293.20,935.95 L293.30,938.10 L293.40,941.44 L293.50,932.99 L293.60,931.08 L293.70,929.20 L293.80,941.73 L293.90,935.78 L294.00,938.11 L294.10,930.51 L294.20,944.49 L294.30,930.85 L294.40,931.50 L294.50,932.94 L294.60,935.63 L294.70,929.06 L294.80,933.96 L294.90,938.35 L295.00,936.57 L295.10,931.20 L295.20,939.12 L295.30,929.56 L295.40,940.94 L295.50,938.93 L295.60,938.92 L295.70,934.65 L295.80,938.68 L295.90,938.00 L296.00,935.94 L296.10,937.27 L296.20,936.66 L296.30,941.04 L296.40,933.66 L296.50,942.65 L296.60,935.12 L296.70,935.75 L296.80,931.64 L296.90,933.79 L297.00,950.09 L297.10,930.91 L297.20,937.60 L297.30,945.02 L297.40,944.15 L297.50,942.33 L297.60,940.55 L297.70,933.03 L297.80,940.79 L297.90,939.40 L298.00,952.07 L298.10,939.44 L298.20,926.77 L298.30,942.50 L298.40,938.26 L298.50,938.10 L298.60,938.15 L298.70,937.31 L298.80,941.85 L298.90,928.06 L299.00,946.17 L299.10,943.75 L299.20,935.18 L299.30,934.73 L299.40,943.84 L299.50,941.95 L299.60,947.21 L299.70,941.99 L299.80,942.59 L299.90,938.08 L300.00,936.11 L300.10,942.38 L300.20,935.30 L300.30,944.53 L300.40,935.93 L300.50,942.02 L300.60,941.74 L300.70,945.07 L300.80,942.47 L300.90,941.26 L301.00,941.67 L301.10,946.43 L301.20,949.02 L301.30,943.33 L301.40,938.68 L301.50,946.98 L301.60,941.39 L301.70,945.41 L301.80,943.60 L301.90,939.91 L302.00,939.00 L302.10,938.69 L302.20,940.88 L302.30,941.99 L302.40,944.17 L302.50,932.08 L302.60,935.62 L302.70,937.14 L302.80,941.46 L302.90,944.68 L303.00,939.42 L303.10,940.25 L303.20,948.88 L303.30,938.14 L303.40,938.74 L303.50,944.62 L303.60,946.72 L303.70,942.12 L303.80,950.52 L303.90,937.05 L304.00,936.83 L304.10,948.16 L304.20,941.53 L304.30,937.38 L304.40,947.69 L304.50,946.97 L304.60,944.35 L304.70,935.98 L304.80,939.30 L304.90,934.74 L305.00,936.33 L305.10,938.28 L305.20,946.10 L305.30,940.88 L305.40,939.52 L305.50,934.42 L305.60,938.95 L305.70,939.25 L305.80,948.25 L305.90,947.40 L306.00,937.74 L306.10,938.31 L306.20,928.26 L306.30,942.24 L306.40,945.67 L306.50,936.34 L306.60,946.01 L306.70,944.50 L306.80,946.18 L306.90,941.56 L307.00,942.09 L307.10,936.92 L307.20,953.86 L307.30,950.15 L307.40,943.48 L307.50,939.42 L307.60,946.90 L307.70,930.74 L307.80,942.81 L307.90,931.57 L308.00,946.10 L308.10,945.52 L308.20,942.59 L308.30,946.31 L308.40,944.88 L308.50,941.67 L308.60,940.16 L308.70,948.64 L308.80,949.94 L308.90,938.17 L309.00,932.71 L309.10,944.85 L309.20,936.68 L309.30,935.13 L309.40,936.12 L309.50,946.58 L309.60,947.56 L309.70,945.58 L309.80,946.38 L309.90,945.80 L310.00,943.22 L310.10,947.32 L310.20,951.39 L310.30,942.87 L310.40,941.45 L310.50,941.87 L310.60,936.88 L310.70,937.99 L310.80,943.20 L310.90,945.93 L311.00,955.97 L311.10,940.93 L311.20,944.62 L311.30,951.20 L311.40,944.89 L311.50,943.08 L311.60,943.39 L311.70,945.14 L311.80,938.79 L311.90,943.70 L312.00,943.74 L312.10,948.44 L312.20,946.55 L312.30,948.94 L312.40,937.65 L312.50,949.34 L312.60,945.83 L312.70,951.04 L312.80,942.54 L312.90,947.21 L313.00,948.24 L313.10,952.29 L313.20,946.04 L313.30,949.42 L313.40,948.38 L313.50,944.76 L313.60,937.28 L313.70,946.06 L313.80,947.74 L313.90,946.77 L314.00,951.22 L314.10,946.93 L314.20,947.85 L314.30,950.99 L314.40,950.89 L314.50,950.36 L314.60,954.71 L314.70,946.79 L314.80,959.62 L314.90,945.36 L315.00,953.04 L315.10,949.08 L315.20,956.27 L315.30,947.23 L315.40,946.33 L315.50,946.52 L315.60,949.71 L315.70,939.79 L315.80,951.31 L315.90,945.97 L316.00,941.65 L316.10,948.08 L316.20,940.15 L316.30,953.61 L316.40,947.11 L316.50,960.89 L316.60,950.15 L316.70,942.80 L316.80,948.50 L316.90,943.93 L317.00,945.76 L317.10,946.84 L317.20,947.92 L317.30,943.13 L317.40,948.17 L317.50,946.22 L317.60,952.42 L317.70,956.25 L317.80,957.47 L317.90,940.04 L318.00,947.23 L318.10,942.22 L318.20,951.93 L318.30,940.69 L318.40,941.64 L318.50,945.34 L318.60,955.35 L318.70,943.39 L318.80,940.43 L318.90,952.16 L319.00,947.36 L319.10,943.58 L319.20,951.29 L319.30,946.78 L319.40,940.75 L319.50,949.09 L319.60,957.10 L319.70,938.42 L319.80,953.35 L319.90,951.88 L320.00,953.07 L320.10,946.50 L320.20,944.96 L320.30,948.31 L320.40,946.77 L320.50,950.64 L320.60,945.08 L320.70,945.78 L320.80,950.91 L320.90,948.65 L321.00,947.85 L321.10,953.70 L321.20,949.82 L321.30,947.53 L321.40,945.37 L321.50,956.43 L321.60,953.29 L321.70,952.47 L321.80,948.62 L321.90,950.28 L322.00,949.56 L322.10,953.39 L322.20,951.64 L322.30,951.29 L322.40,951.06 L322.50,943.71 L322.60,949.70 L322.70,955.09 L322.80,945.94 L322.90,945.00 L323.00,948.71 L323.10,953.59 L323.20,942.22 L323.30,942.65 L323.40,943.12 L323.50,958.58 L323.60,952.54 L323.70,954.91 L323.80,949.92 L323.90,944.16 L324.00,941.73 L324.10,961.83 L324.20,957.48 L324.30,950.91 L324.40,947.48 L324.50,947.59 L324.60,952.14 L324.70,958.62 L324.80,936.20 L324.90,950.52 L325.00,951.04 L325.10,947.91 L325.20,950.05 L325.30,951.18 L325.40,948.22 L325.50,956.05 L325.60,960.20 L325.70,959.87 L325.80,953.71 L325.90,954.09 L326.00,955.87 L326.10,957.42 L326.20,954.12 L326.30,948.16 L326.40,962.40 L326.50,944.08 L326.60,950.32 L326.70,946.95 L326.80,950.93 L326.90,951.50 L327.00,950.58 L327.10,946.57 L327.20,953.34 L327.30,964.51 L327.40,943.44 L327.50,956.22 L327.60,951.12 L327.70,955.58 L327.80,945.95 L327.90,943.60 L328.00,945.28 L328.10,957.58 L328.20,956.75 L328.30,948.18 L328.40,945.17 L328.50,951.68 L328.60,953.34 L328.70,953.73 L328.80,956.34 L328.90,961.77 L329.00,956.91 L329.10,958.88 L329.20,955.80 L329.30,951.06 L329.40,958.58 L329.50,958.34 L329.60,948.27 L329.70,954.88 L329.80,948.49 L329.90,963.07 L330.00,961.14 L330.10,954.22 L330.20,949.00 L330.30,950.57 L330.40,944.46 L330.50,953.79 L330.60,954.62 L330.70,962.59 L330.80,950.02 L330.90,957.01 L331.00,954.16 L331.10,961.84 L331.20,952.69 L331.30,952.15 L331.40,947.67 L331.50,955.43 L331.60,944.62 L331.70,952.77 L331.80,956.52 L331.90,957.01 L332.00,963.38 L332.10,945.22 L332.20,953.93 L332.30,948.28 L332.40,949.24 L332.50,948.52 L332.60,949.49 L332.70,952.12 L332.80,955.65 L332.90,959.01 L333.00,949.00 L333.10,954.81 L333.20,958.25 L333.30,949.99 L333.40,958.95 L333.50,957.17 L333.60,960.77 L333.70,953.88 L333.80,952.19 L333.90,949.37 L334.00,948.49 L334.10,958.87 L334.20,951.07 L334.30,954.98 L334.40,955.78 L334.50,942.05 L334.60,952.49 L334.70,954.84 L334.80,950.16 L334.90,959.53 L335.00,942.17 L335.10,951.18 L335.20,952.16 L335.30,960.93 L335.40,960.09 L335.50,953.11 L335.60,951.39 L335.70,953.82 L335.80,960.70 L335.90,958.00 L336.00,957.98 L336.10,948.94 L336.20,957.99 L336.30,959.91 L336.40,964.19 L336.50,954.25 L336.60,945.83 L336.70,960.72 L336.80,961.49 L336.90,951.01 L337.00,948.61 L337.10,959.05 L337.20,964.68 L337.30,950.42 L337.40,953.84 L337.50,948.23 L337.60,954.17 L337.70,962.64 L337.80,955.49 L337.90,959.62 L338.00,951.01 L338.10,950.00 L338.20,949.07 L338.30,958.82 L338.40,964.75 L338.50,950.75 L338.60,956.12 L338.70,958.32 L338.80,958.68 L338.90,961.95 L339.00,948.84 L339.10,955.29 L339.20,953.23 L339.30,946.77 L339.40,957.42 L339.50,957.21 L339.60,957.10 L339.70,968.55 L339.80,942.83 L339.90,958.55 L340.00,952.79 L340.10,952.42 L340.20,960.70 L340.30,953.31 L340.40,958.22 L340.50,955.12 L340.60,951.70 L340.70,955.21 L340.80,956.76 L340.90,955.09 L341.00,955.19 L341.10,957.19 L341.20,951.32 L341.30,955.36 L341.40,953.08 L341.50,956.86 L341.60,948.87 L341.70,952.60 L341.80,958.66 L341.90,955.43 L342.00,953.38 L342.10,958.16 L342.20,949.77 L342.30,954.38 L342.40,960.64 L342.50,961.09 L342.60,958.74 L342.70,955.55 L342.80,947.97 L342.90,965.12 L343.00,961.09 L343.10,958.59 L343.20,946.60 L343.30,956.88" fill="none" stroke="#6fe03a" stroke-width="0.55" stroke-opacity="1"/>
<line x1="404.7" y1="137.3" x2="404.7" y2="234.3" stroke="#000" stroke-width="2" stroke-linecap="butt"/>
<line x1="400.7" y1="137.3" x2="404.7" y2="137.3" stroke="#000" stroke-width="2" stroke-linecap="butt"/>
<text x="398.9" y="141.08" font-size="10.5" text-anchor="end" fill="#000" font-weight="bold" >-60</text>
<line x1="400.7" y1="169.3" x2="404.7" y2="169.3" stroke="#000" stroke-width="2" stroke-linecap="butt"/>
<text x="398.9" y="173.08" font-size="10.5" text-anchor="end" fill="#000" font-weight="bold" >-40</text>
<line x1="400.7" y1="201.5" x2="404.7" y2="201.5" stroke="#000" stroke-width="2" stroke-linecap="butt"/>
<text x="398.9" y="205.28" font-size="10.5" text-anchor="end" fill="#000" font-weight="bold" >-20</text>
<line x1="400.7" y1="233.3" x2="404.7" y2="233.3" stroke="#000" stroke-width="2" stroke-linecap="butt"/>
<text x="398.9" y="237.08" font-size="10.5" text-anchor="end" fill="#000" font-weight="bold" >0</text>
<line x1="403.7" y1="233.3" x2="483.1" y2="233.3" stroke="#000" stroke-width="2" stroke-linecap="butt"/>
<line x1="425.6" y1="189.2" x2="425.6" y2="185.6" stroke="#000" stroke-width="1.6" stroke-linecap="butt"/>
<line x1="418.55" y1="185.6" x2="432.65" y2="185.6" stroke="#000" stroke-width="1.6" stroke-linecap="butt"/>
<rect x="412.25" y="189.95" width="26.7" height="43.35" fill="#fff" stroke="#000" stroke-width="1.4"/>
<text x="425.6" y="226.5" font-size="11" text-anchor="middle" fill="#000" font-weight="bold" >24</text>
<line x1="461.45" y1="191.9" x2="461.45" y2="186.9" stroke="#000" stroke-width="1.6" stroke-linecap="butt"/>
<line x1="454.32" y1="186.9" x2="468.57" y2="186.9" stroke="#000" stroke-width="1.6" stroke-linecap="butt"/>
<rect x="447.95" y="192.65" width="27" height="40.65" fill="#72e23e" stroke="#000" stroke-width="1.4"/>
<text x="461.45" y="226.5" font-size="11" text-anchor="middle" fill="#000" font-weight="bold" >15</text>
<text transform="translate(375.1,184) rotate(-90)" font-size="13.5" text-anchor="middle" fill="#000" font-weight="bold" >I<tspan font-size="9" dy="3">Ca,L</tspan><tspan dy="-3"> (pA/pF)</tspan></text>
<line x1="566.9" y1="137.6" x2="566.9" y2="235" stroke="#000" stroke-width="2" stroke-linecap="butt"/>
<line x1="562.9" y1="137.6" x2="566.9" y2="137.6" stroke="#000" stroke-width="2" stroke-linecap="butt"/>
<text x="561.1" y="141.38" font-size="10.5" text-anchor="end" fill="#000" font-weight="bold" >15</text>
<line x1="562.9" y1="170" x2="566.9" y2="170" stroke="#000" stroke-width="2" stroke-linecap="butt"/>
<text x="561.1" y="173.78" font-size="10.5" text-anchor="end" fill="#000" font-weight="bold" >10</text>
<line x1="562.9" y1="201.9" x2="566.9" y2="201.9" stroke="#000" stroke-width="2" stroke-linecap="butt"/>
<text x="561.1" y="205.68" font-size="10.5" text-anchor="end" fill="#000" font-weight="bold" >5</text>
<line x1="562.9" y1="234" x2="566.9" y2="234" stroke="#000" stroke-width="2" stroke-linecap="butt"/>
<text x="561.1" y="237.78" font-size="10.5" text-anchor="end" fill="#000" font-weight="bold" >0</text>
<line x1="565.9" y1="234" x2="645.2" y2="234" stroke="#000" stroke-width="2" stroke-linecap="butt"/>
<line x1="588" y1="170.4" x2="588" y2="164.3" stroke="#000" stroke-width="1.6" stroke-linecap="butt"/>
<line x1="581" y1="164.3" x2="595" y2="164.3" stroke="#000" stroke-width="1.6" stroke-linecap="butt"/>
<rect x="574.75" y="171.15" width="26.5" height="62.85" fill="#fff" stroke="#000" stroke-width="1.4"/>
<text x="588" y="227.2" font-size="11" text-anchor="middle" fill="#000" font-weight="bold" >24</text>
<line x1="623.95" y1="183.2" x2="623.95" y2="177.3" stroke="#000" stroke-width="1.6" stroke-linecap="butt"/>
<line x1="617.12" y1="177.3" x2="630.78" y2="177.3" stroke="#000" stroke-width="1.6" stroke-linecap="butt"/>
<rect x="611.05" y="183.95" width="25.8" height="50.05" fill="#72e23e" stroke="#000" stroke-width="1.4"/>
<text x="623.95" y="227.2" font-size="11" text-anchor="middle" fill="#000" font-weight="bold" >15</text>
<text transform="translate(527.3,183.3) rotate(-90)" font-size="14" text-anchor="middle" fill="#000" font-weight="bold" >Integrated I<tspan font-size="9.5" dy="3.2">Ca,L</tspan></text>
<text transform="translate(544.3,183.3) rotate(-90)" font-size="13.5" text-anchor="middle" fill="#000" font-weight="bold" >(μM)</text>
<line x1="405.4" y1="268.4" x2="405.4" y2="365.5" stroke="#000" stroke-width="2" stroke-linecap="butt"/>
<line x1="401.4" y1="268.4" x2="405.4" y2="268.4" stroke="#000" stroke-width="2" stroke-linecap="butt"/>
<text x="399.6" y="272.18" font-size="10.5" text-anchor="end" fill="#000" font-weight="bold" >600</text>
<line x1="401.4" y1="300.7" x2="405.4" y2="300.7" stroke="#000" stroke-width="2" stroke-linecap="butt"/>
<text x="399.6" y="304.48" font-size="10.5" text-anchor="end" fill="#000" font-weight="bold" >400</text>
<line x1="401.4" y1="332.7" x2="405.4" y2="332.7" stroke="#000" stroke-width="2" stroke-linecap="butt"/>
<text x="399.6" y="336.48" font-size="10.5" text-anchor="end" fill="#000" font-weight="bold" >200</text>
<line x1="401.4" y1="364.5" x2="405.4" y2="364.5" stroke="#000" stroke-width="2" stroke-linecap="butt"/>
<text x="399.6" y="368.28" font-size="10.5" text-anchor="end" fill="#000" font-weight="bold" >0</text>
<line x1="404.4" y1="364.5" x2="559.3" y2="364.5" stroke="#000" stroke-width="2" stroke-linecap="butt"/>
<line x1="566.8" y1="364.3" x2="646.3" y2="364.3" stroke="#000" stroke-width="2" stroke-linecap="butt"/>
<line x1="645.3" y1="268.4" x2="645.3" y2="365.3" stroke="#000" stroke-width="2" stroke-linecap="butt"/>
<line x1="645.3" y1="268.4" x2="648.3" y2="268.4" stroke="#000" stroke-width="2" stroke-linecap="butt"/>
<text x="650.3" y="272.18" font-size="10.5" text-anchor="start" fill="#000" font-weight="bold" >600</text>
<line x1="645.3" y1="300.7" x2="648.3" y2="300.7" stroke="#000" stroke-width="2" stroke-linecap="butt"/>
<text x="650.3" y="304.48" font-size="10.5" text-anchor="start" fill="#000" font-weight="bold" >400</text>
<line x1="645.3" y1="332.6" x2="648.3" y2="332.6" stroke="#000" stroke-width="2" stroke-linecap="butt"/>
<text x="650.3" y="336.38" font-size="10.5" text-anchor="start" fill="#000" font-weight="bold" >200</text>
<line x1="645.3" y1="364.2" x2="648.3" y2="364.2" stroke="#000" stroke-width="2" stroke-linecap="butt"/>
<text x="650.3" y="367.98" font-size="10.5" text-anchor="start" fill="#000" font-weight="bold" >0</text>
<line x1="425.5" y1="314.9" x2="425.5" y2="311.6" stroke="#000" stroke-width="1.6" stroke-linecap="butt"/>
<line x1="418.75" y1="311.6" x2="432.25" y2="311.6" stroke="#000" stroke-width="1.6" stroke-linecap="butt"/>
<rect x="412.75" y="315.65" width="25.5" height="48.75" fill="#fff" stroke="#000" stroke-width="1.4"/>
<text x="425.5" y="358.3" font-size="11" text-anchor="middle" fill="#000" font-weight="bold" >24</text>
<line x1="461.05" y1="315.7" x2="461.05" y2="311.2" stroke="#000" stroke-width="1.6" stroke-linecap="butt"/>
<line x1="454.27" y1="311.2" x2="467.83" y2="311.2" stroke="#000" stroke-width="1.6" stroke-linecap="butt"/>
<rect x="448.25" y="316.45" width="25.6" height="47.95" fill="#72e23e" stroke="#000" stroke-width="1.4"/>
<text x="461.05" y="358.3" font-size="11" text-anchor="middle" fill="#000" font-weight="bold" >15</text>
<line x1="503.35" y1="285.6" x2="503.35" y2="281.8" stroke="#000" stroke-width="1.6" stroke-linecap="butt"/>
<line x1="496.62" y1="281.8" x2="510.07" y2="281.8" stroke="#000" stroke-width="1.6" stroke-linecap="butt"/>
<rect x="490.65" y="286.35" width="25.4" height="78.05" fill="#fff" stroke="#000" stroke-width="1.4"/>
<text x="503.35" y="358.3" font-size="11" text-anchor="middle" fill="#000" font-weight="bold" >24</text>
<line x1="539.25" y1="296.3" x2="539.25" y2="290.9" stroke="#000" stroke-width="1.6" stroke-linecap="butt"/>
<line x1="532.52" y1="290.9" x2="545.98" y2="290.9" stroke="#000" stroke-width="1.6" stroke-linecap="butt"/>
<rect x="526.55" y="297.05" width="25.4" height="67.35" fill="#72e23e" stroke="#000" stroke-width="1.4"/>
<text x="539.25" y="358.3" font-size="11" text-anchor="middle" fill="#000" font-weight="bold" >15</text>
<line x1="588.65" y1="335.8" x2="588.65" y2="333.4" stroke="#000" stroke-width="1.6" stroke-linecap="butt"/>
<line x1="581.93" y1="333.4" x2="595.38" y2="333.4" stroke="#000" stroke-width="1.6" stroke-linecap="butt"/>
<rect x="575.95" y="336.55" width="25.4" height="27.85" fill="#fff" stroke="#000" stroke-width="1.4"/>
<text x="588.65" y="358.3" font-size="11" text-anchor="middle" fill="#000" font-weight="bold" >24</text>
<line x1="624.5" y1="345.5" x2="624.5" y2="343" stroke="#000" stroke-width="1.6" stroke-linecap="butt"/>
<line x1="617.5" y1="343" x2="631.5" y2="343" stroke="#000" stroke-width="1.6" stroke-linecap="butt"/>
<rect x="611.25" y="346.25" width="26.5" height="18.15" fill="#72e23e" stroke="#000" stroke-width="1.4"/>
<text x="624.5" y="358.3" font-size="11" text-anchor="middle" fill="#000" font-weight="bold" >15</text>
<text x="538.8" y="284.3" font-size="10.8" text-anchor="middle" fill="#000" font-weight="bold" >P=0.077</text>
<text x="624.6" y="341.5" font-size="16" text-anchor="middle" fill="#000" font-weight="bold" >**</text>
<text x="441.5" y="381.8" font-size="11.8" text-anchor="middle" fill="#000" font-weight="bold" >Diastolic</text>
<text x="518.8" y="381.8" font-size="11.8" text-anchor="middle" fill="#000" font-weight="bold" >Systolic</text>
<text x="606.2" y="381.8" font-size="11.8" text-anchor="middle" fill="#000" font-weight="bold" >Amplitude</text>
<text transform="translate(378.3,311.8) rotate(-90)" font-size="13.5" text-anchor="middle" fill="#000" font-weight="bold" >[Ca<tspan font-size="9.5" dy="-4.8">2+</tspan><tspan dy="4.8">]</tspan><tspan font-size="9" dy="3">i</tspan><tspan dy="-3"> (nM)</tspan></text>
<text transform="translate(682.4,318.9) rotate(-90)" font-size="13.5" text-anchor="middle" fill="#000" font-weight="bold" ><tspan font-weight="normal">Δ</tspan>[Ca<tspan font-size="9.5" dy="-4.8">2+</tspan><tspan dy="4.8">]</tspan><tspan font-size="9" dy="3">i</tspan><tspan dy="-3"> (nM)</tspan></text>
<line x1="405.8" y1="425.3" x2="405.8" y2="522.6" stroke="#000" stroke-width="2" stroke-linecap="butt"/>
<line x1="401.8" y1="425.3" x2="405.8" y2="425.3" stroke="#000" stroke-width="2" stroke-linecap="butt"/>
<text x="400" y="429.08" font-size="10.5" text-anchor="end" fill="#000" font-weight="bold" >500</text>
<line x1="401.8" y1="445.2" x2="405.8" y2="445.2" stroke="#000" stroke-width="2" stroke-linecap="butt"/>
<text x="400" y="448.98" font-size="10.5" text-anchor="end" fill="#000" font-weight="bold" >400</text>
<line x1="401.8" y1="464" x2="405.8" y2="464" stroke="#000" stroke-width="2" stroke-linecap="butt"/>
<text x="400" y="467.78" font-size="10.5" text-anchor="end" fill="#000" font-weight="bold" >300</text>
<line x1="401.8" y1="483.1" x2="405.8" y2="483.1" stroke="#000" stroke-width="2" stroke-linecap="butt"/>
<text x="400" y="486.88" font-size="10.5" text-anchor="end" fill="#000" font-weight="bold" >200</text>
<line x1="401.8" y1="502.5" x2="405.8" y2="502.5" stroke="#000" stroke-width="2" stroke-linecap="butt"/>
<text x="400" y="506.28" font-size="10.5" text-anchor="end" fill="#000" font-weight="bold" >100</text>
<line x1="401.8" y1="521.6" x2="405.8" y2="521.6" stroke="#000" stroke-width="2" stroke-linecap="butt"/>
<text x="400" y="525.38" font-size="10.5" text-anchor="end" fill="#000" font-weight="bold" >0</text>
<line x1="404.8" y1="521.6" x2="483.5" y2="521.6" stroke="#000" stroke-width="2" stroke-linecap="butt"/>
<line x1="426.15" y1="445.4" x2="426.15" y2="435.5" stroke="#000" stroke-width="1.6" stroke-linecap="butt"/>
<line x1="419.32" y1="435.5" x2="432.97" y2="435.5" stroke="#000" stroke-width="1.6" stroke-linecap="butt"/>
<rect x="413.25" y="446.15" width="25.8" height="75.45" fill="#fff" stroke="#000" stroke-width="1.4"/>
<text x="426.15" y="514.8" font-size="11" text-anchor="middle" fill="#000" font-weight="bold" >19</text>
<line x1="462.25" y1="475.2" x2="462.25" y2="470.7" stroke="#000" stroke-width="1.6" stroke-linecap="butt"/>
<line x1="455.38" y1="470.7" x2="469.12" y2="470.7" stroke="#000" stroke-width="1.6" stroke-linecap="butt"/>
<rect x="449.25" y="475.95" width="26" height="45.65" fill="#72e23e" stroke="#000" stroke-width="1.4"/>
<text x="462.25" y="514.8" font-size="11" text-anchor="middle" fill="#000" font-weight="bold" >12</text>
<text x="462.2" y="465" font-size="16" text-anchor="middle" fill="#000" font-weight="bold" >**</text>
<text transform="translate(378.3,481.8) rotate(-90)" font-size="13.5" text-anchor="middle" fill="#000" font-weight="bold" ><tspan font-weight="normal">Δ</tspan>[Ca<tspan font-size="9.5" dy="-4.8">2+</tspan><tspan dy="4.8">]</tspan><tspan font-size="9" dy="3">i</tspan><tspan dy="-3"> (μM)</tspan></text>
<line x1="405.1" y1="556.8" x2="405.1" y2="652" stroke="#000" stroke-width="2" stroke-linecap="butt"/>
<line x1="401.1" y1="556.8" x2="405.1" y2="556.8" stroke="#000" stroke-width="2" stroke-linecap="butt"/>
<text x="399.3" y="560.58" font-size="10.5" text-anchor="end" fill="#000" font-weight="bold" >150</text>
<line x1="401.1" y1="588.8" x2="405.1" y2="588.8" stroke="#000" stroke-width="2" stroke-linecap="butt"/>
<text x="399.3" y="592.58" font-size="10.5" text-anchor="end" fill="#000" font-weight="bold" >100</text>
<line x1="401.1" y1="620" x2="405.1" y2="620" stroke="#000" stroke-width="2" stroke-linecap="butt"/>
<text x="399.3" y="623.78" font-size="10.5" text-anchor="end" fill="#000" font-weight="bold" >50</text>
<line x1="401.1" y1="652" x2="405.1" y2="652" stroke="#000" stroke-width="2" stroke-linecap="butt"/>
<line x1="400.9" y1="652" x2="482.3" y2="652" stroke="#000" stroke-width="2" stroke-linecap="butt"/>
<line x1="425.65" y1="582.6" x2="425.65" y2="572.1" stroke="#000" stroke-width="1.6" stroke-linecap="butt"/>
<line x1="418.82" y1="572.1" x2="432.47" y2="572.1" stroke="#000" stroke-width="1.6" stroke-linecap="butt"/>
<rect x="412.75" y="583.35" width="25.8" height="68.65" fill="#fff" stroke="#000" stroke-width="1.4"/>
<text x="425.65" y="645.4" font-size="11" text-anchor="middle" fill="#000" font-weight="bold" >19</text>
<line x1="461.4" y1="576.4" x2="461.4" y2="569.2" stroke="#000" stroke-width="1.6" stroke-linecap="butt"/>
<line x1="454.45" y1="569.2" x2="468.35" y2="569.2" stroke="#000" stroke-width="1.6" stroke-linecap="butt"/>
<rect x="448.25" y="577.15" width="26.3" height="74.85" fill="#72e23e" stroke="#000" stroke-width="1.4"/>
<text x="461.4" y="645.4" font-size="11" text-anchor="middle" fill="#000" font-weight="bold" >12</text>
<text transform="translate(376.7,606.8) rotate(-90)" font-size="13.5" text-anchor="middle" fill="#000" font-weight="bold" >Total Ca<tspan font-size="9.5" dy="-4.8">2+</tspan><tspan dy="4.8"> (μM)</tspan></text>
<line x1="405.1" y1="684.1" x2="405.1" y2="780.9" stroke="#000" stroke-width="2" stroke-linecap="butt"/>
<line x1="401.1" y1="684.1" x2="405.1" y2="684.1" stroke="#000" stroke-width="2" stroke-linecap="butt"/>
<text x="399.3" y="687.88" font-size="10.5" text-anchor="end" fill="#000" font-weight="bold" >400</text>
<line x1="401.1" y1="707.9" x2="405.1" y2="707.9" stroke="#000" stroke-width="2" stroke-linecap="butt"/>
<text x="399.3" y="711.68" font-size="10.5" text-anchor="end" fill="#000" font-weight="bold" >300</text>
<line x1="401.1" y1="732" x2="405.1" y2="732" stroke="#000" stroke-width="2" stroke-linecap="butt"/>
<text x="399.3" y="735.78" font-size="10.5" text-anchor="end" fill="#000" font-weight="bold" >200</text>
<line x1="401.1" y1="756" x2="405.1" y2="756" stroke="#000" stroke-width="2" stroke-linecap="butt"/>
<text x="399.3" y="759.78" font-size="10.5" text-anchor="end" fill="#000" font-weight="bold" >100</text>
<line x1="401.1" y1="779.9" x2="405.1" y2="779.9" stroke="#000" stroke-width="2" stroke-linecap="butt"/>
<text x="399.3" y="783.68" font-size="10.5" text-anchor="end" fill="#000" font-weight="bold" >0</text>
<line x1="404.1" y1="779.9" x2="483.5" y2="779.9" stroke="#000" stroke-width="2" stroke-linecap="butt"/>
<line x1="426.15" y1="715.8" x2="426.15" y2="709.6" stroke="#000" stroke-width="1.6" stroke-linecap="butt"/>
<line x1="419.32" y1="709.6" x2="432.97" y2="709.6" stroke="#000" stroke-width="1.6" stroke-linecap="butt"/>
<rect x="413.25" y="716.55" width="25.8" height="63.35" fill="#fff" stroke="#000" stroke-width="1.4"/>
<text x="426.15" y="773" font-size="11" text-anchor="middle" fill="#000" font-weight="bold" >19</text>
<line x1="462.25" y1="704.2" x2="462.25" y2="696.7" stroke="#000" stroke-width="1.6" stroke-linecap="butt"/>
<line x1="455.38" y1="696.7" x2="469.12" y2="696.7" stroke="#000" stroke-width="1.6" stroke-linecap="butt"/>
<rect x="449.25" y="704.95" width="26" height="74.95" fill="#72e23e" stroke="#000" stroke-width="1.4"/>
<text x="462.25" y="773" font-size="11" text-anchor="middle" fill="#000" font-weight="bold" >12</text>
<text transform="translate(371.8,738.4) rotate(-90)" font-size="13.5" text-anchor="middle" fill="#000" font-weight="bold" >B<tspan font-size="9" dy="3">max</tspan><tspan dy="-3"> (μM)</tspan></text>
<line x1="566.6" y1="684.1" x2="566.6" y2="781.3" stroke="#000" stroke-width="2" stroke-linecap="butt"/>
<line x1="562.6" y1="684.1" x2="566.6" y2="684.1" stroke="#000" stroke-width="2" stroke-linecap="butt"/>
<text x="560.8" y="687.88" font-size="10.5" text-anchor="end" fill="#000" font-weight="bold" >0.6</text>
<line x1="562.6" y1="716.6" x2="566.6" y2="716.6" stroke="#000" stroke-width="2" stroke-linecap="butt"/>
<text x="560.8" y="720.38" font-size="10.5" text-anchor="end" fill="#000" font-weight="bold" >0.4</text>
<line x1="562.6" y1="748.1" x2="566.6" y2="748.1" stroke="#000" stroke-width="2" stroke-linecap="butt"/>
<text x="560.8" y="751.88" font-size="10.5" text-anchor="end" fill="#000" font-weight="bold" >0.2</text>
<line x1="562.6" y1="780.3" x2="566.6" y2="780.3" stroke="#000" stroke-width="2" stroke-linecap="butt"/>
<text x="560.8" y="784.08" font-size="10.5" text-anchor="end" fill="#000" font-weight="bold" >0.0</text>
<line x1="565.6" y1="780.3" x2="644.5" y2="780.3" stroke="#000" stroke-width="2" stroke-linecap="butt"/>
<line x1="587.6" y1="703.4" x2="587.6" y2="696.2" stroke="#000" stroke-width="1.6" stroke-linecap="butt"/>
<line x1="580.7" y1="696.2" x2="594.5" y2="696.2" stroke="#000" stroke-width="1.6" stroke-linecap="butt"/>
<rect x="574.55" y="704.15" width="26.1" height="76.15" fill="#fff" stroke="#000" stroke-width="1.4"/>
<text x="587.6" y="773" font-size="11" text-anchor="middle" fill="#000" font-weight="bold" >19</text>
<line x1="623.55" y1="739.9" x2="623.55" y2="735.7" stroke="#000" stroke-width="1.6" stroke-linecap="butt"/>
<line x1="616.67" y1="735.7" x2="630.42" y2="735.7" stroke="#000" stroke-width="1.6" stroke-linecap="butt"/>
<rect x="610.55" y="740.65" width="26" height="39.65" fill="#72e23e" stroke="#000" stroke-width="1.4"/>
<text x="623.55" y="773" font-size="11" text-anchor="middle" fill="#000" font-weight="bold" >12</text>
<text x="623.4" y="730.5" font-size="16" text-anchor="middle" fill="#000" font-weight="bold" >***</text>
<text transform="translate(538.3,736) rotate(-90)" font-size="13.5" text-anchor="middle" fill="#000" font-weight="bold" >K<tspan font-size="9" dy="3">d</tspan><tspan dy="-3"> (μM)</tspan></text>
<line x1="405.8" y1="873.5" x2="405.8" y2="980" stroke="#000" stroke-width="2" stroke-linecap="butt"/>
<line x1="401.8" y1="873.5" x2="405.8" y2="873.5" stroke="#000" stroke-width="2" stroke-linecap="butt"/>
<text x="400" y="877.28" font-size="10.5" text-anchor="end" fill="#000" font-weight="bold" >150</text>
<line x1="401.8" y1="909.5" x2="405.8" y2="909.5" stroke="#000" stroke-width="2" stroke-linecap="butt"/>
<text x="400" y="913.28" font-size="10.5" text-anchor="end" fill="#000" font-weight="bold" >100</text>
<line x1="401.8" y1="944.2" x2="405.8" y2="944.2" stroke="#000" stroke-width="2" stroke-linecap="butt"/>
<text x="400" y="947.98" font-size="10.5" text-anchor="end" fill="#000" font-weight="bold" >50</text>
<line x1="401.8" y1="979" x2="405.8" y2="979" stroke="#000" stroke-width="2" stroke-linecap="butt"/>
<text x="400" y="982.78" font-size="10.5" text-anchor="end" fill="#000" font-weight="bold" >0</text>
<line x1="404.8" y1="979" x2="491.4" y2="979" stroke="#000" stroke-width="2" stroke-linecap="butt"/>
<line x1="429.05" y1="926.1" x2="429.05" y2="921.4" stroke="#000" stroke-width="1.6" stroke-linecap="butt"/>
<line x1="421.43" y1="921.4" x2="436.68" y2="921.4" stroke="#000" stroke-width="1.6" stroke-linecap="butt"/>
<rect x="414.55" y="926.85" width="29" height="52.15" fill="#fff" stroke="#000" stroke-width="1.4"/>
<text x="429.05" y="971.6" font-size="11" text-anchor="middle" fill="#000" font-weight="bold" >19</text>
<line x1="468.85" y1="915.2" x2="468.85" y2="910.2" stroke="#000" stroke-width="1.6" stroke-linecap="butt"/>
<line x1="461.28" y1="910.2" x2="476.43" y2="910.2" stroke="#000" stroke-width="1.6" stroke-linecap="butt"/>
<rect x="454.45" y="915.95" width="28.8" height="63.05" fill="#72e23e" stroke="#000" stroke-width="1.4"/>
<text x="468.85" y="971.6" font-size="11" text-anchor="middle" fill="#000" font-weight="bold" >12</text>
<text transform="translate(377,922.5) rotate(-90)" font-size="13.5" text-anchor="middle" fill="#000" font-weight="bold" ><tspan font-weight="normal">Δ</tspan>[Ca<tspan font-size="9.5" dy="-4.8">2+</tspan><tspan dy="4.8">]</tspan><tspan font-size="9" dy="3">T</tspan><tspan dy="-3"> (μM)</tspan></text>
<rect x="559.2" y="893.1" width="22.8" height="11.1" fill="#fff" stroke="#000" stroke-width="1.6"/>
<rect x="559.2" y="924.8" width="22.8" height="11.1" fill="#72e23e" stroke="#000" stroke-width="1.6"/>
<text x="589" y="903" font-size="13.2" text-anchor="start" fill="#000" font-weight="bold" >Ctrl</text>
<text x="589" y="935.6" font-size="13.4" text-anchor="start" fill="#000" font-weight="bold" >EMD57033</text>
</svg>
</body></html>
